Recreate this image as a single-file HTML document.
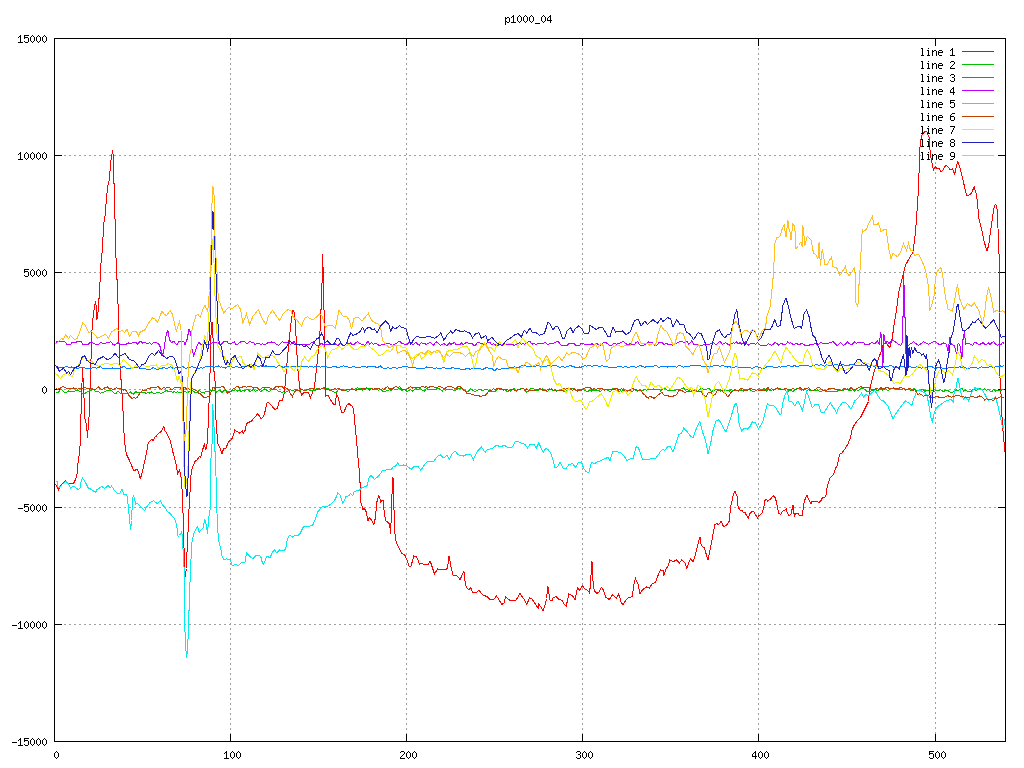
<!DOCTYPE html>
<html><head><meta charset="utf-8"><title>p1000_04</title>
<style>html,body{margin:0;padding:0;background:#fff;overflow:hidden}svg{display:block}</style>
</head><body>
<svg width="1024" height="768" viewBox="0 0 1024 768" shape-rendering="crispEdges">
<rect width="1024" height="768" fill="#fff"/>
<path fill="#a0a0a0" d="M54 155h1v1h-1zM55 155h1v1h-1zM59 155h1v1h-1zM60 155h1v1h-1zM64 155h1v1h-1zM65 155h1v1h-1zM69 155h1v1h-1zM70 155h1v1h-1zM74 155h1v1h-1zM75 155h1v1h-1zM79 155h1v1h-1zM80 155h1v1h-1zM84 155h1v1h-1zM85 155h1v1h-1zM89 155h1v1h-1zM90 155h1v1h-1zM94 155h1v1h-1zM95 155h1v1h-1zM99 155h1v1h-1zM100 155h1v1h-1zM104 155h1v1h-1zM105 155h1v1h-1zM109 155h1v1h-1zM110 155h1v1h-1zM114 155h1v1h-1zM115 155h1v1h-1zM119 155h1v1h-1zM120 155h1v1h-1zM124 155h1v1h-1zM125 155h1v1h-1zM129 155h1v1h-1zM130 155h1v1h-1zM134 155h1v1h-1zM135 155h1v1h-1zM139 155h1v1h-1zM140 155h1v1h-1zM144 155h1v1h-1zM145 155h1v1h-1zM149 155h1v1h-1zM150 155h1v1h-1zM154 155h1v1h-1zM155 155h1v1h-1zM159 155h1v1h-1zM160 155h1v1h-1zM164 155h1v1h-1zM165 155h1v1h-1zM169 155h1v1h-1zM170 155h1v1h-1zM174 155h1v1h-1zM175 155h1v1h-1zM179 155h1v1h-1zM180 155h1v1h-1zM184 155h1v1h-1zM185 155h1v1h-1zM189 155h1v1h-1zM190 155h1v1h-1zM194 155h1v1h-1zM195 155h1v1h-1zM199 155h1v1h-1zM200 155h1v1h-1zM204 155h1v1h-1zM205 155h1v1h-1zM209 155h1v1h-1zM210 155h1v1h-1zM214 155h1v1h-1zM215 155h1v1h-1zM219 155h1v1h-1zM220 155h1v1h-1zM224 155h1v1h-1zM225 155h1v1h-1zM229 155h1v1h-1zM230 155h1v1h-1zM234 155h1v1h-1zM235 155h1v1h-1zM239 155h1v1h-1zM240 155h1v1h-1zM244 155h1v1h-1zM245 155h1v1h-1zM249 155h1v1h-1zM250 155h1v1h-1zM254 155h1v1h-1zM255 155h1v1h-1zM259 155h1v1h-1zM260 155h1v1h-1zM264 155h1v1h-1zM265 155h1v1h-1zM269 155h1v1h-1zM270 155h1v1h-1zM274 155h1v1h-1zM275 155h1v1h-1zM279 155h1v1h-1zM280 155h1v1h-1zM284 155h1v1h-1zM285 155h1v1h-1zM289 155h1v1h-1zM290 155h1v1h-1zM294 155h1v1h-1zM295 155h1v1h-1zM299 155h1v1h-1zM300 155h1v1h-1zM304 155h1v1h-1zM305 155h1v1h-1zM309 155h1v1h-1zM310 155h1v1h-1zM314 155h1v1h-1zM315 155h1v1h-1zM319 155h1v1h-1zM320 155h1v1h-1zM324 155h1v1h-1zM325 155h1v1h-1zM329 155h1v1h-1zM330 155h1v1h-1zM334 155h1v1h-1zM335 155h1v1h-1zM339 155h1v1h-1zM340 155h1v1h-1zM344 155h1v1h-1zM345 155h1v1h-1zM349 155h1v1h-1zM350 155h1v1h-1zM354 155h1v1h-1zM355 155h1v1h-1zM359 155h1v1h-1zM360 155h1v1h-1zM364 155h1v1h-1zM365 155h1v1h-1zM369 155h1v1h-1zM370 155h1v1h-1zM374 155h1v1h-1zM375 155h1v1h-1zM379 155h1v1h-1zM380 155h1v1h-1zM384 155h1v1h-1zM385 155h1v1h-1zM389 155h1v1h-1zM390 155h1v1h-1zM394 155h1v1h-1zM395 155h1v1h-1zM399 155h1v1h-1zM400 155h1v1h-1zM404 155h1v1h-1zM405 155h1v1h-1zM409 155h1v1h-1zM410 155h1v1h-1zM414 155h1v1h-1zM415 155h1v1h-1zM419 155h1v1h-1zM420 155h1v1h-1zM424 155h1v1h-1zM425 155h1v1h-1zM429 155h1v1h-1zM430 155h1v1h-1zM434 155h1v1h-1zM435 155h1v1h-1zM439 155h1v1h-1zM440 155h1v1h-1zM444 155h1v1h-1zM445 155h1v1h-1zM449 155h1v1h-1zM450 155h1v1h-1zM454 155h1v1h-1zM455 155h1v1h-1zM459 155h1v1h-1zM460 155h1v1h-1zM464 155h1v1h-1zM465 155h1v1h-1zM469 155h1v1h-1zM470 155h1v1h-1zM474 155h1v1h-1zM475 155h1v1h-1zM479 155h1v1h-1zM480 155h1v1h-1zM484 155h1v1h-1zM485 155h1v1h-1zM489 155h1v1h-1zM490 155h1v1h-1zM494 155h1v1h-1zM495 155h1v1h-1zM499 155h1v1h-1zM500 155h1v1h-1zM504 155h1v1h-1zM505 155h1v1h-1zM509 155h1v1h-1zM510 155h1v1h-1zM514 155h1v1h-1zM515 155h1v1h-1zM519 155h1v1h-1zM520 155h1v1h-1zM524 155h1v1h-1zM525 155h1v1h-1zM529 155h1v1h-1zM530 155h1v1h-1zM534 155h1v1h-1zM535 155h1v1h-1zM539 155h1v1h-1zM540 155h1v1h-1zM544 155h1v1h-1zM545 155h1v1h-1zM549 155h1v1h-1zM550 155h1v1h-1zM554 155h1v1h-1zM555 155h1v1h-1zM559 155h1v1h-1zM560 155h1v1h-1zM564 155h1v1h-1zM565 155h1v1h-1zM569 155h1v1h-1zM570 155h1v1h-1zM574 155h1v1h-1zM575 155h1v1h-1zM579 155h1v1h-1zM580 155h1v1h-1zM584 155h1v1h-1zM585 155h1v1h-1zM589 155h1v1h-1zM590 155h1v1h-1zM594 155h1v1h-1zM595 155h1v1h-1zM599 155h1v1h-1zM600 155h1v1h-1zM604 155h1v1h-1zM605 155h1v1h-1zM609 155h1v1h-1zM610 155h1v1h-1zM614 155h1v1h-1zM615 155h1v1h-1zM619 155h1v1h-1zM620 155h1v1h-1zM624 155h1v1h-1zM625 155h1v1h-1zM629 155h1v1h-1zM630 155h1v1h-1zM634 155h1v1h-1zM635 155h1v1h-1zM639 155h1v1h-1zM640 155h1v1h-1zM644 155h1v1h-1zM645 155h1v1h-1zM649 155h1v1h-1zM650 155h1v1h-1zM654 155h1v1h-1zM655 155h1v1h-1zM659 155h1v1h-1zM660 155h1v1h-1zM664 155h1v1h-1zM665 155h1v1h-1zM669 155h1v1h-1zM670 155h1v1h-1zM674 155h1v1h-1zM675 155h1v1h-1zM679 155h1v1h-1zM680 155h1v1h-1zM684 155h1v1h-1zM685 155h1v1h-1zM689 155h1v1h-1zM690 155h1v1h-1zM694 155h1v1h-1zM695 155h1v1h-1zM699 155h1v1h-1zM700 155h1v1h-1zM704 155h1v1h-1zM705 155h1v1h-1zM709 155h1v1h-1zM710 155h1v1h-1zM714 155h1v1h-1zM715 155h1v1h-1zM719 155h1v1h-1zM720 155h1v1h-1zM724 155h1v1h-1zM725 155h1v1h-1zM729 155h1v1h-1zM730 155h1v1h-1zM734 155h1v1h-1zM735 155h1v1h-1zM739 155h1v1h-1zM740 155h1v1h-1zM744 155h1v1h-1zM745 155h1v1h-1zM749 155h1v1h-1zM750 155h1v1h-1zM754 155h1v1h-1zM755 155h1v1h-1zM759 155h1v1h-1zM760 155h1v1h-1zM764 155h1v1h-1zM765 155h1v1h-1zM769 155h1v1h-1zM770 155h1v1h-1zM774 155h1v1h-1zM775 155h1v1h-1zM779 155h1v1h-1zM780 155h1v1h-1zM784 155h1v1h-1zM785 155h1v1h-1zM789 155h1v1h-1zM790 155h1v1h-1zM794 155h1v1h-1zM795 155h1v1h-1zM799 155h1v1h-1zM800 155h1v1h-1zM804 155h1v1h-1zM805 155h1v1h-1zM809 155h1v1h-1zM810 155h1v1h-1zM814 155h1v1h-1zM815 155h1v1h-1zM819 155h1v1h-1zM820 155h1v1h-1zM824 155h1v1h-1zM825 155h1v1h-1zM829 155h1v1h-1zM830 155h1v1h-1zM834 155h1v1h-1zM835 155h1v1h-1zM839 155h1v1h-1zM840 155h1v1h-1zM844 155h1v1h-1zM845 155h1v1h-1zM849 155h1v1h-1zM850 155h1v1h-1zM854 155h1v1h-1zM855 155h1v1h-1zM859 155h1v1h-1zM860 155h1v1h-1zM864 155h1v1h-1zM865 155h1v1h-1zM869 155h1v1h-1zM870 155h1v1h-1zM874 155h1v1h-1zM875 155h1v1h-1zM879 155h1v1h-1zM880 155h1v1h-1zM884 155h1v1h-1zM885 155h1v1h-1zM889 155h1v1h-1zM890 155h1v1h-1zM894 155h1v1h-1zM895 155h1v1h-1zM899 155h1v1h-1zM900 155h1v1h-1zM904 155h1v1h-1zM905 155h1v1h-1zM909 155h1v1h-1zM910 155h1v1h-1zM914 155h1v1h-1zM915 155h1v1h-1zM919 155h1v1h-1zM920 155h1v1h-1zM999 155h1v1h-1zM1000 155h1v1h-1zM1004 155h1v1h-1zM1005 155h1v1h-1zM54 272h1v1h-1zM55 272h1v1h-1zM59 272h1v1h-1zM60 272h1v1h-1zM64 272h1v1h-1zM65 272h1v1h-1zM69 272h1v1h-1zM70 272h1v1h-1zM74 272h1v1h-1zM75 272h1v1h-1zM79 272h1v1h-1zM80 272h1v1h-1zM84 272h1v1h-1zM85 272h1v1h-1zM89 272h1v1h-1zM90 272h1v1h-1zM94 272h1v1h-1zM95 272h1v1h-1zM99 272h1v1h-1zM100 272h1v1h-1zM104 272h1v1h-1zM105 272h1v1h-1zM109 272h1v1h-1zM110 272h1v1h-1zM114 272h1v1h-1zM115 272h1v1h-1zM119 272h1v1h-1zM120 272h1v1h-1zM124 272h1v1h-1zM125 272h1v1h-1zM129 272h1v1h-1zM130 272h1v1h-1zM134 272h1v1h-1zM135 272h1v1h-1zM139 272h1v1h-1zM140 272h1v1h-1zM144 272h1v1h-1zM145 272h1v1h-1zM149 272h1v1h-1zM150 272h1v1h-1zM154 272h1v1h-1zM155 272h1v1h-1zM159 272h1v1h-1zM160 272h1v1h-1zM164 272h1v1h-1zM165 272h1v1h-1zM169 272h1v1h-1zM170 272h1v1h-1zM174 272h1v1h-1zM175 272h1v1h-1zM179 272h1v1h-1zM180 272h1v1h-1zM184 272h1v1h-1zM185 272h1v1h-1zM189 272h1v1h-1zM190 272h1v1h-1zM194 272h1v1h-1zM195 272h1v1h-1zM199 272h1v1h-1zM200 272h1v1h-1zM204 272h1v1h-1zM205 272h1v1h-1zM209 272h1v1h-1zM210 272h1v1h-1zM214 272h1v1h-1zM215 272h1v1h-1zM219 272h1v1h-1zM220 272h1v1h-1zM224 272h1v1h-1zM225 272h1v1h-1zM229 272h1v1h-1zM230 272h1v1h-1zM234 272h1v1h-1zM235 272h1v1h-1zM239 272h1v1h-1zM240 272h1v1h-1zM244 272h1v1h-1zM245 272h1v1h-1zM249 272h1v1h-1zM250 272h1v1h-1zM254 272h1v1h-1zM255 272h1v1h-1zM259 272h1v1h-1zM260 272h1v1h-1zM264 272h1v1h-1zM265 272h1v1h-1zM269 272h1v1h-1zM270 272h1v1h-1zM274 272h1v1h-1zM275 272h1v1h-1zM279 272h1v1h-1zM280 272h1v1h-1zM284 272h1v1h-1zM285 272h1v1h-1zM289 272h1v1h-1zM290 272h1v1h-1zM294 272h1v1h-1zM295 272h1v1h-1zM299 272h1v1h-1zM300 272h1v1h-1zM304 272h1v1h-1zM305 272h1v1h-1zM309 272h1v1h-1zM310 272h1v1h-1zM314 272h1v1h-1zM315 272h1v1h-1zM319 272h1v1h-1zM320 272h1v1h-1zM324 272h1v1h-1zM325 272h1v1h-1zM329 272h1v1h-1zM330 272h1v1h-1zM334 272h1v1h-1zM335 272h1v1h-1zM339 272h1v1h-1zM340 272h1v1h-1zM344 272h1v1h-1zM345 272h1v1h-1zM349 272h1v1h-1zM350 272h1v1h-1zM354 272h1v1h-1zM355 272h1v1h-1zM359 272h1v1h-1zM360 272h1v1h-1zM364 272h1v1h-1zM365 272h1v1h-1zM369 272h1v1h-1zM370 272h1v1h-1zM374 272h1v1h-1zM375 272h1v1h-1zM379 272h1v1h-1zM380 272h1v1h-1zM384 272h1v1h-1zM385 272h1v1h-1zM389 272h1v1h-1zM390 272h1v1h-1zM394 272h1v1h-1zM395 272h1v1h-1zM399 272h1v1h-1zM400 272h1v1h-1zM404 272h1v1h-1zM405 272h1v1h-1zM409 272h1v1h-1zM410 272h1v1h-1zM414 272h1v1h-1zM415 272h1v1h-1zM419 272h1v1h-1zM420 272h1v1h-1zM424 272h1v1h-1zM425 272h1v1h-1zM429 272h1v1h-1zM430 272h1v1h-1zM434 272h1v1h-1zM435 272h1v1h-1zM439 272h1v1h-1zM440 272h1v1h-1zM444 272h1v1h-1zM445 272h1v1h-1zM449 272h1v1h-1zM450 272h1v1h-1zM454 272h1v1h-1zM455 272h1v1h-1zM459 272h1v1h-1zM460 272h1v1h-1zM464 272h1v1h-1zM465 272h1v1h-1zM469 272h1v1h-1zM470 272h1v1h-1zM474 272h1v1h-1zM475 272h1v1h-1zM479 272h1v1h-1zM480 272h1v1h-1zM484 272h1v1h-1zM485 272h1v1h-1zM489 272h1v1h-1zM490 272h1v1h-1zM494 272h1v1h-1zM495 272h1v1h-1zM499 272h1v1h-1zM500 272h1v1h-1zM504 272h1v1h-1zM505 272h1v1h-1zM509 272h1v1h-1zM510 272h1v1h-1zM514 272h1v1h-1zM515 272h1v1h-1zM519 272h1v1h-1zM520 272h1v1h-1zM524 272h1v1h-1zM525 272h1v1h-1zM529 272h1v1h-1zM530 272h1v1h-1zM534 272h1v1h-1zM535 272h1v1h-1zM539 272h1v1h-1zM540 272h1v1h-1zM544 272h1v1h-1zM545 272h1v1h-1zM549 272h1v1h-1zM550 272h1v1h-1zM554 272h1v1h-1zM555 272h1v1h-1zM559 272h1v1h-1zM560 272h1v1h-1zM564 272h1v1h-1zM565 272h1v1h-1zM569 272h1v1h-1zM570 272h1v1h-1zM574 272h1v1h-1zM575 272h1v1h-1zM579 272h1v1h-1zM580 272h1v1h-1zM584 272h1v1h-1zM585 272h1v1h-1zM589 272h1v1h-1zM590 272h1v1h-1zM594 272h1v1h-1zM595 272h1v1h-1zM599 272h1v1h-1zM600 272h1v1h-1zM604 272h1v1h-1zM605 272h1v1h-1zM609 272h1v1h-1zM610 272h1v1h-1zM614 272h1v1h-1zM615 272h1v1h-1zM619 272h1v1h-1zM620 272h1v1h-1zM624 272h1v1h-1zM625 272h1v1h-1zM629 272h1v1h-1zM630 272h1v1h-1zM634 272h1v1h-1zM635 272h1v1h-1zM639 272h1v1h-1zM640 272h1v1h-1zM644 272h1v1h-1zM645 272h1v1h-1zM649 272h1v1h-1zM650 272h1v1h-1zM654 272h1v1h-1zM655 272h1v1h-1zM659 272h1v1h-1zM660 272h1v1h-1zM664 272h1v1h-1zM665 272h1v1h-1zM669 272h1v1h-1zM670 272h1v1h-1zM674 272h1v1h-1zM675 272h1v1h-1zM679 272h1v1h-1zM680 272h1v1h-1zM684 272h1v1h-1zM685 272h1v1h-1zM689 272h1v1h-1zM690 272h1v1h-1zM694 272h1v1h-1zM695 272h1v1h-1zM699 272h1v1h-1zM700 272h1v1h-1zM704 272h1v1h-1zM705 272h1v1h-1zM709 272h1v1h-1zM710 272h1v1h-1zM714 272h1v1h-1zM715 272h1v1h-1zM719 272h1v1h-1zM720 272h1v1h-1zM724 272h1v1h-1zM725 272h1v1h-1zM729 272h1v1h-1zM730 272h1v1h-1zM734 272h1v1h-1zM735 272h1v1h-1zM739 272h1v1h-1zM740 272h1v1h-1zM744 272h1v1h-1zM745 272h1v1h-1zM749 272h1v1h-1zM750 272h1v1h-1zM754 272h1v1h-1zM755 272h1v1h-1zM759 272h1v1h-1zM760 272h1v1h-1zM764 272h1v1h-1zM765 272h1v1h-1zM769 272h1v1h-1zM770 272h1v1h-1zM774 272h1v1h-1zM775 272h1v1h-1zM779 272h1v1h-1zM780 272h1v1h-1zM784 272h1v1h-1zM785 272h1v1h-1zM789 272h1v1h-1zM790 272h1v1h-1zM794 272h1v1h-1zM795 272h1v1h-1zM799 272h1v1h-1zM800 272h1v1h-1zM804 272h1v1h-1zM805 272h1v1h-1zM809 272h1v1h-1zM810 272h1v1h-1zM814 272h1v1h-1zM815 272h1v1h-1zM819 272h1v1h-1zM820 272h1v1h-1zM824 272h1v1h-1zM825 272h1v1h-1zM829 272h1v1h-1zM830 272h1v1h-1zM834 272h1v1h-1zM835 272h1v1h-1zM839 272h1v1h-1zM840 272h1v1h-1zM844 272h1v1h-1zM845 272h1v1h-1zM849 272h1v1h-1zM850 272h1v1h-1zM854 272h1v1h-1zM855 272h1v1h-1zM859 272h1v1h-1zM860 272h1v1h-1zM864 272h1v1h-1zM865 272h1v1h-1zM869 272h1v1h-1zM870 272h1v1h-1zM874 272h1v1h-1zM875 272h1v1h-1zM879 272h1v1h-1zM880 272h1v1h-1zM884 272h1v1h-1zM885 272h1v1h-1zM889 272h1v1h-1zM890 272h1v1h-1zM894 272h1v1h-1zM895 272h1v1h-1zM899 272h1v1h-1zM900 272h1v1h-1zM904 272h1v1h-1zM905 272h1v1h-1zM909 272h1v1h-1zM910 272h1v1h-1zM914 272h1v1h-1zM915 272h1v1h-1zM919 272h1v1h-1zM920 272h1v1h-1zM924 272h1v1h-1zM925 272h1v1h-1zM929 272h1v1h-1zM930 272h1v1h-1zM934 272h1v1h-1zM935 272h1v1h-1zM939 272h1v1h-1zM940 272h1v1h-1zM944 272h1v1h-1zM945 272h1v1h-1zM949 272h1v1h-1zM950 272h1v1h-1zM954 272h1v1h-1zM955 272h1v1h-1zM959 272h1v1h-1zM960 272h1v1h-1zM964 272h1v1h-1zM965 272h1v1h-1zM969 272h1v1h-1zM970 272h1v1h-1zM974 272h1v1h-1zM975 272h1v1h-1zM979 272h1v1h-1zM980 272h1v1h-1zM984 272h1v1h-1zM985 272h1v1h-1zM989 272h1v1h-1zM990 272h1v1h-1zM994 272h1v1h-1zM995 272h1v1h-1zM999 272h1v1h-1zM1000 272h1v1h-1zM1004 272h1v1h-1zM1005 272h1v1h-1zM54 389h1v1h-1zM55 389h1v1h-1zM59 389h1v1h-1zM60 389h1v1h-1zM64 389h1v1h-1zM65 389h1v1h-1zM69 389h1v1h-1zM70 389h1v1h-1zM74 389h1v1h-1zM75 389h1v1h-1zM79 389h1v1h-1zM80 389h1v1h-1zM84 389h1v1h-1zM85 389h1v1h-1zM89 389h1v1h-1zM90 389h1v1h-1zM94 389h1v1h-1zM95 389h1v1h-1zM99 389h1v1h-1zM100 389h1v1h-1zM104 389h1v1h-1zM105 389h1v1h-1zM109 389h1v1h-1zM110 389h1v1h-1zM114 389h1v1h-1zM115 389h1v1h-1zM119 389h1v1h-1zM120 389h1v1h-1zM124 389h1v1h-1zM125 389h1v1h-1zM129 389h1v1h-1zM130 389h1v1h-1zM134 389h1v1h-1zM135 389h1v1h-1zM139 389h1v1h-1zM140 389h1v1h-1zM144 389h1v1h-1zM145 389h1v1h-1zM149 389h1v1h-1zM150 389h1v1h-1zM154 389h1v1h-1zM155 389h1v1h-1zM159 389h1v1h-1zM160 389h1v1h-1zM164 389h1v1h-1zM165 389h1v1h-1zM169 389h1v1h-1zM170 389h1v1h-1zM174 389h1v1h-1zM175 389h1v1h-1zM179 389h1v1h-1zM180 389h1v1h-1zM184 389h1v1h-1zM185 389h1v1h-1zM189 389h1v1h-1zM190 389h1v1h-1zM194 389h1v1h-1zM195 389h1v1h-1zM199 389h1v1h-1zM200 389h1v1h-1zM204 389h1v1h-1zM205 389h1v1h-1zM209 389h1v1h-1zM210 389h1v1h-1zM214 389h1v1h-1zM215 389h1v1h-1zM219 389h1v1h-1zM220 389h1v1h-1zM224 389h1v1h-1zM225 389h1v1h-1zM229 389h1v1h-1zM230 389h1v1h-1zM234 389h1v1h-1zM235 389h1v1h-1zM239 389h1v1h-1zM240 389h1v1h-1zM244 389h1v1h-1zM245 389h1v1h-1zM249 389h1v1h-1zM250 389h1v1h-1zM254 389h1v1h-1zM255 389h1v1h-1zM259 389h1v1h-1zM260 389h1v1h-1zM264 389h1v1h-1zM265 389h1v1h-1zM269 389h1v1h-1zM270 389h1v1h-1zM274 389h1v1h-1zM275 389h1v1h-1zM279 389h1v1h-1zM280 389h1v1h-1zM284 389h1v1h-1zM285 389h1v1h-1zM289 389h1v1h-1zM290 389h1v1h-1zM294 389h1v1h-1zM295 389h1v1h-1zM299 389h1v1h-1zM300 389h1v1h-1zM304 389h1v1h-1zM305 389h1v1h-1zM309 389h1v1h-1zM310 389h1v1h-1zM314 389h1v1h-1zM315 389h1v1h-1zM319 389h1v1h-1zM320 389h1v1h-1zM324 389h1v1h-1zM325 389h1v1h-1zM329 389h1v1h-1zM330 389h1v1h-1zM334 389h1v1h-1zM335 389h1v1h-1zM339 389h1v1h-1zM340 389h1v1h-1zM344 389h1v1h-1zM345 389h1v1h-1zM349 389h1v1h-1zM350 389h1v1h-1zM354 389h1v1h-1zM355 389h1v1h-1zM359 389h1v1h-1zM360 389h1v1h-1zM364 389h1v1h-1zM365 389h1v1h-1zM369 389h1v1h-1zM370 389h1v1h-1zM374 389h1v1h-1zM375 389h1v1h-1zM379 389h1v1h-1zM380 389h1v1h-1zM384 389h1v1h-1zM385 389h1v1h-1zM389 389h1v1h-1zM390 389h1v1h-1zM394 389h1v1h-1zM395 389h1v1h-1zM399 389h1v1h-1zM400 389h1v1h-1zM404 389h1v1h-1zM405 389h1v1h-1zM409 389h1v1h-1zM410 389h1v1h-1zM414 389h1v1h-1zM415 389h1v1h-1zM419 389h1v1h-1zM420 389h1v1h-1zM424 389h1v1h-1zM425 389h1v1h-1zM429 389h1v1h-1zM430 389h1v1h-1zM434 389h1v1h-1zM435 389h1v1h-1zM439 389h1v1h-1zM440 389h1v1h-1zM444 389h1v1h-1zM445 389h1v1h-1zM449 389h1v1h-1zM450 389h1v1h-1zM454 389h1v1h-1zM455 389h1v1h-1zM459 389h1v1h-1zM460 389h1v1h-1zM464 389h1v1h-1zM465 389h1v1h-1zM469 389h1v1h-1zM470 389h1v1h-1zM474 389h1v1h-1zM475 389h1v1h-1zM479 389h1v1h-1zM480 389h1v1h-1zM484 389h1v1h-1zM485 389h1v1h-1zM489 389h1v1h-1zM490 389h1v1h-1zM494 389h1v1h-1zM495 389h1v1h-1zM499 389h1v1h-1zM500 389h1v1h-1zM504 389h1v1h-1zM505 389h1v1h-1zM509 389h1v1h-1zM510 389h1v1h-1zM514 389h1v1h-1zM515 389h1v1h-1zM519 389h1v1h-1zM520 389h1v1h-1zM524 389h1v1h-1zM525 389h1v1h-1zM529 389h1v1h-1zM530 389h1v1h-1zM534 389h1v1h-1zM535 389h1v1h-1zM539 389h1v1h-1zM540 389h1v1h-1zM544 389h1v1h-1zM545 389h1v1h-1zM549 389h1v1h-1zM550 389h1v1h-1zM554 389h1v1h-1zM555 389h1v1h-1zM559 389h1v1h-1zM560 389h1v1h-1zM564 389h1v1h-1zM565 389h1v1h-1zM569 389h1v1h-1zM570 389h1v1h-1zM574 389h1v1h-1zM575 389h1v1h-1zM579 389h1v1h-1zM580 389h1v1h-1zM584 389h1v1h-1zM585 389h1v1h-1zM589 389h1v1h-1zM590 389h1v1h-1zM594 389h1v1h-1zM595 389h1v1h-1zM599 389h1v1h-1zM600 389h1v1h-1zM604 389h1v1h-1zM605 389h1v1h-1zM609 389h1v1h-1zM610 389h1v1h-1zM614 389h1v1h-1zM615 389h1v1h-1zM619 389h1v1h-1zM620 389h1v1h-1zM624 389h1v1h-1zM625 389h1v1h-1zM629 389h1v1h-1zM630 389h1v1h-1zM634 389h1v1h-1zM635 389h1v1h-1zM639 389h1v1h-1zM640 389h1v1h-1zM644 389h1v1h-1zM645 389h1v1h-1zM649 389h1v1h-1zM650 389h1v1h-1zM654 389h1v1h-1zM655 389h1v1h-1zM659 389h1v1h-1zM660 389h1v1h-1zM664 389h1v1h-1zM665 389h1v1h-1zM669 389h1v1h-1zM670 389h1v1h-1zM674 389h1v1h-1zM675 389h1v1h-1zM679 389h1v1h-1zM680 389h1v1h-1zM684 389h1v1h-1zM685 389h1v1h-1zM689 389h1v1h-1zM690 389h1v1h-1zM694 389h1v1h-1zM695 389h1v1h-1zM699 389h1v1h-1zM700 389h1v1h-1zM704 389h1v1h-1zM705 389h1v1h-1zM709 389h1v1h-1zM710 389h1v1h-1zM714 389h1v1h-1zM715 389h1v1h-1zM719 389h1v1h-1zM720 389h1v1h-1zM724 389h1v1h-1zM725 389h1v1h-1zM729 389h1v1h-1zM730 389h1v1h-1zM734 389h1v1h-1zM735 389h1v1h-1zM739 389h1v1h-1zM740 389h1v1h-1zM744 389h1v1h-1zM745 389h1v1h-1zM749 389h1v1h-1zM750 389h1v1h-1zM754 389h1v1h-1zM755 389h1v1h-1zM759 389h1v1h-1zM760 389h1v1h-1zM764 389h1v1h-1zM765 389h1v1h-1zM769 389h1v1h-1zM770 389h1v1h-1zM774 389h1v1h-1zM775 389h1v1h-1zM779 389h1v1h-1zM780 389h1v1h-1zM784 389h1v1h-1zM785 389h1v1h-1zM789 389h1v1h-1zM790 389h1v1h-1zM794 389h1v1h-1zM795 389h1v1h-1zM799 389h1v1h-1zM800 389h1v1h-1zM804 389h1v1h-1zM805 389h1v1h-1zM809 389h1v1h-1zM810 389h1v1h-1zM814 389h1v1h-1zM815 389h1v1h-1zM819 389h1v1h-1zM820 389h1v1h-1zM824 389h1v1h-1zM825 389h1v1h-1zM829 389h1v1h-1zM830 389h1v1h-1zM834 389h1v1h-1zM835 389h1v1h-1zM839 389h1v1h-1zM840 389h1v1h-1zM844 389h1v1h-1zM845 389h1v1h-1zM849 389h1v1h-1zM850 389h1v1h-1zM854 389h1v1h-1zM855 389h1v1h-1zM859 389h1v1h-1zM860 389h1v1h-1zM864 389h1v1h-1zM865 389h1v1h-1zM869 389h1v1h-1zM870 389h1v1h-1zM874 389h1v1h-1zM875 389h1v1h-1zM879 389h1v1h-1zM880 389h1v1h-1zM884 389h1v1h-1zM885 389h1v1h-1zM889 389h1v1h-1zM890 389h1v1h-1zM894 389h1v1h-1zM895 389h1v1h-1zM899 389h1v1h-1zM900 389h1v1h-1zM904 389h1v1h-1zM905 389h1v1h-1zM909 389h1v1h-1zM910 389h1v1h-1zM914 389h1v1h-1zM915 389h1v1h-1zM919 389h1v1h-1zM920 389h1v1h-1zM924 389h1v1h-1zM925 389h1v1h-1zM929 389h1v1h-1zM930 389h1v1h-1zM934 389h1v1h-1zM935 389h1v1h-1zM939 389h1v1h-1zM940 389h1v1h-1zM944 389h1v1h-1zM945 389h1v1h-1zM949 389h1v1h-1zM950 389h1v1h-1zM954 389h1v1h-1zM955 389h1v1h-1zM959 389h1v1h-1zM960 389h1v1h-1zM964 389h1v1h-1zM965 389h1v1h-1zM969 389h1v1h-1zM970 389h1v1h-1zM974 389h1v1h-1zM975 389h1v1h-1zM979 389h1v1h-1zM980 389h1v1h-1zM984 389h1v1h-1zM985 389h1v1h-1zM989 389h1v1h-1zM990 389h1v1h-1zM994 389h1v1h-1zM995 389h1v1h-1zM999 389h1v1h-1zM1000 389h1v1h-1zM1004 389h1v1h-1zM1005 389h1v1h-1zM54 507h1v1h-1zM55 507h1v1h-1zM59 507h1v1h-1zM60 507h1v1h-1zM64 507h1v1h-1zM65 507h1v1h-1zM69 507h1v1h-1zM70 507h1v1h-1zM74 507h1v1h-1zM75 507h1v1h-1zM79 507h1v1h-1zM80 507h1v1h-1zM84 507h1v1h-1zM85 507h1v1h-1zM89 507h1v1h-1zM90 507h1v1h-1zM94 507h1v1h-1zM95 507h1v1h-1zM99 507h1v1h-1zM100 507h1v1h-1zM104 507h1v1h-1zM105 507h1v1h-1zM109 507h1v1h-1zM110 507h1v1h-1zM114 507h1v1h-1zM115 507h1v1h-1zM119 507h1v1h-1zM120 507h1v1h-1zM124 507h1v1h-1zM125 507h1v1h-1zM129 507h1v1h-1zM130 507h1v1h-1zM134 507h1v1h-1zM135 507h1v1h-1zM139 507h1v1h-1zM140 507h1v1h-1zM144 507h1v1h-1zM145 507h1v1h-1zM149 507h1v1h-1zM150 507h1v1h-1zM154 507h1v1h-1zM155 507h1v1h-1zM159 507h1v1h-1zM160 507h1v1h-1zM164 507h1v1h-1zM165 507h1v1h-1zM169 507h1v1h-1zM170 507h1v1h-1zM174 507h1v1h-1zM175 507h1v1h-1zM179 507h1v1h-1zM180 507h1v1h-1zM184 507h1v1h-1zM185 507h1v1h-1zM189 507h1v1h-1zM190 507h1v1h-1zM194 507h1v1h-1zM195 507h1v1h-1zM199 507h1v1h-1zM200 507h1v1h-1zM204 507h1v1h-1zM205 507h1v1h-1zM209 507h1v1h-1zM210 507h1v1h-1zM214 507h1v1h-1zM215 507h1v1h-1zM219 507h1v1h-1zM220 507h1v1h-1zM224 507h1v1h-1zM225 507h1v1h-1zM229 507h1v1h-1zM230 507h1v1h-1zM234 507h1v1h-1zM235 507h1v1h-1zM239 507h1v1h-1zM240 507h1v1h-1zM244 507h1v1h-1zM245 507h1v1h-1zM249 507h1v1h-1zM250 507h1v1h-1zM254 507h1v1h-1zM255 507h1v1h-1zM259 507h1v1h-1zM260 507h1v1h-1zM264 507h1v1h-1zM265 507h1v1h-1zM269 507h1v1h-1zM270 507h1v1h-1zM274 507h1v1h-1zM275 507h1v1h-1zM279 507h1v1h-1zM280 507h1v1h-1zM284 507h1v1h-1zM285 507h1v1h-1zM289 507h1v1h-1zM290 507h1v1h-1zM294 507h1v1h-1zM295 507h1v1h-1zM299 507h1v1h-1zM300 507h1v1h-1zM304 507h1v1h-1zM305 507h1v1h-1zM309 507h1v1h-1zM310 507h1v1h-1zM314 507h1v1h-1zM315 507h1v1h-1zM319 507h1v1h-1zM320 507h1v1h-1zM324 507h1v1h-1zM325 507h1v1h-1zM329 507h1v1h-1zM330 507h1v1h-1zM334 507h1v1h-1zM335 507h1v1h-1zM339 507h1v1h-1zM340 507h1v1h-1zM344 507h1v1h-1zM345 507h1v1h-1zM349 507h1v1h-1zM350 507h1v1h-1zM354 507h1v1h-1zM355 507h1v1h-1zM359 507h1v1h-1zM360 507h1v1h-1zM364 507h1v1h-1zM365 507h1v1h-1zM369 507h1v1h-1zM370 507h1v1h-1zM374 507h1v1h-1zM375 507h1v1h-1zM379 507h1v1h-1zM380 507h1v1h-1zM384 507h1v1h-1zM385 507h1v1h-1zM389 507h1v1h-1zM390 507h1v1h-1zM394 507h1v1h-1zM395 507h1v1h-1zM399 507h1v1h-1zM400 507h1v1h-1zM404 507h1v1h-1zM405 507h1v1h-1zM409 507h1v1h-1zM410 507h1v1h-1zM414 507h1v1h-1zM415 507h1v1h-1zM419 507h1v1h-1zM420 507h1v1h-1zM424 507h1v1h-1zM425 507h1v1h-1zM429 507h1v1h-1zM430 507h1v1h-1zM434 507h1v1h-1zM435 507h1v1h-1zM439 507h1v1h-1zM440 507h1v1h-1zM444 507h1v1h-1zM445 507h1v1h-1zM449 507h1v1h-1zM450 507h1v1h-1zM454 507h1v1h-1zM455 507h1v1h-1zM459 507h1v1h-1zM460 507h1v1h-1zM464 507h1v1h-1zM465 507h1v1h-1zM469 507h1v1h-1zM470 507h1v1h-1zM474 507h1v1h-1zM475 507h1v1h-1zM479 507h1v1h-1zM480 507h1v1h-1zM484 507h1v1h-1zM485 507h1v1h-1zM489 507h1v1h-1zM490 507h1v1h-1zM494 507h1v1h-1zM495 507h1v1h-1zM499 507h1v1h-1zM500 507h1v1h-1zM504 507h1v1h-1zM505 507h1v1h-1zM509 507h1v1h-1zM510 507h1v1h-1zM514 507h1v1h-1zM515 507h1v1h-1zM519 507h1v1h-1zM520 507h1v1h-1zM524 507h1v1h-1zM525 507h1v1h-1zM529 507h1v1h-1zM530 507h1v1h-1zM534 507h1v1h-1zM535 507h1v1h-1zM539 507h1v1h-1zM540 507h1v1h-1zM544 507h1v1h-1zM545 507h1v1h-1zM549 507h1v1h-1zM550 507h1v1h-1zM554 507h1v1h-1zM555 507h1v1h-1zM559 507h1v1h-1zM560 507h1v1h-1zM564 507h1v1h-1zM565 507h1v1h-1zM569 507h1v1h-1zM570 507h1v1h-1zM574 507h1v1h-1zM575 507h1v1h-1zM579 507h1v1h-1zM580 507h1v1h-1zM584 507h1v1h-1zM585 507h1v1h-1zM589 507h1v1h-1zM590 507h1v1h-1zM594 507h1v1h-1zM595 507h1v1h-1zM599 507h1v1h-1zM600 507h1v1h-1zM604 507h1v1h-1zM605 507h1v1h-1zM609 507h1v1h-1zM610 507h1v1h-1zM614 507h1v1h-1zM615 507h1v1h-1zM619 507h1v1h-1zM620 507h1v1h-1zM624 507h1v1h-1zM625 507h1v1h-1zM629 507h1v1h-1zM630 507h1v1h-1zM634 507h1v1h-1zM635 507h1v1h-1zM639 507h1v1h-1zM640 507h1v1h-1zM644 507h1v1h-1zM645 507h1v1h-1zM649 507h1v1h-1zM650 507h1v1h-1zM654 507h1v1h-1zM655 507h1v1h-1zM659 507h1v1h-1zM660 507h1v1h-1zM664 507h1v1h-1zM665 507h1v1h-1zM669 507h1v1h-1zM670 507h1v1h-1zM674 507h1v1h-1zM675 507h1v1h-1zM679 507h1v1h-1zM680 507h1v1h-1zM684 507h1v1h-1zM685 507h1v1h-1zM689 507h1v1h-1zM690 507h1v1h-1zM694 507h1v1h-1zM695 507h1v1h-1zM699 507h1v1h-1zM700 507h1v1h-1zM704 507h1v1h-1zM705 507h1v1h-1zM709 507h1v1h-1zM710 507h1v1h-1zM714 507h1v1h-1zM715 507h1v1h-1zM719 507h1v1h-1zM720 507h1v1h-1zM724 507h1v1h-1zM725 507h1v1h-1zM729 507h1v1h-1zM730 507h1v1h-1zM734 507h1v1h-1zM735 507h1v1h-1zM739 507h1v1h-1zM740 507h1v1h-1zM744 507h1v1h-1zM745 507h1v1h-1zM749 507h1v1h-1zM750 507h1v1h-1zM754 507h1v1h-1zM755 507h1v1h-1zM759 507h1v1h-1zM760 507h1v1h-1zM764 507h1v1h-1zM765 507h1v1h-1zM769 507h1v1h-1zM770 507h1v1h-1zM774 507h1v1h-1zM775 507h1v1h-1zM779 507h1v1h-1zM780 507h1v1h-1zM784 507h1v1h-1zM785 507h1v1h-1zM789 507h1v1h-1zM790 507h1v1h-1zM794 507h1v1h-1zM795 507h1v1h-1zM799 507h1v1h-1zM800 507h1v1h-1zM804 507h1v1h-1zM805 507h1v1h-1zM809 507h1v1h-1zM810 507h1v1h-1zM814 507h1v1h-1zM815 507h1v1h-1zM819 507h1v1h-1zM820 507h1v1h-1zM824 507h1v1h-1zM825 507h1v1h-1zM829 507h1v1h-1zM830 507h1v1h-1zM834 507h1v1h-1zM835 507h1v1h-1zM839 507h1v1h-1zM840 507h1v1h-1zM844 507h1v1h-1zM845 507h1v1h-1zM849 507h1v1h-1zM850 507h1v1h-1zM854 507h1v1h-1zM855 507h1v1h-1zM859 507h1v1h-1zM860 507h1v1h-1zM864 507h1v1h-1zM865 507h1v1h-1zM869 507h1v1h-1zM870 507h1v1h-1zM874 507h1v1h-1zM875 507h1v1h-1zM879 507h1v1h-1zM880 507h1v1h-1zM884 507h1v1h-1zM885 507h1v1h-1zM889 507h1v1h-1zM890 507h1v1h-1zM894 507h1v1h-1zM895 507h1v1h-1zM899 507h1v1h-1zM900 507h1v1h-1zM904 507h1v1h-1zM905 507h1v1h-1zM909 507h1v1h-1zM910 507h1v1h-1zM914 507h1v1h-1zM915 507h1v1h-1zM919 507h1v1h-1zM920 507h1v1h-1zM924 507h1v1h-1zM925 507h1v1h-1zM929 507h1v1h-1zM930 507h1v1h-1zM934 507h1v1h-1zM935 507h1v1h-1zM939 507h1v1h-1zM940 507h1v1h-1zM944 507h1v1h-1zM945 507h1v1h-1zM949 507h1v1h-1zM950 507h1v1h-1zM954 507h1v1h-1zM955 507h1v1h-1zM959 507h1v1h-1zM960 507h1v1h-1zM964 507h1v1h-1zM965 507h1v1h-1zM969 507h1v1h-1zM970 507h1v1h-1zM974 507h1v1h-1zM975 507h1v1h-1zM979 507h1v1h-1zM980 507h1v1h-1zM984 507h1v1h-1zM985 507h1v1h-1zM989 507h1v1h-1zM990 507h1v1h-1zM994 507h1v1h-1zM995 507h1v1h-1zM999 507h1v1h-1zM1000 507h1v1h-1zM1004 507h1v1h-1zM1005 507h1v1h-1zM54 624h1v1h-1zM55 624h1v1h-1zM59 624h1v1h-1zM60 624h1v1h-1zM64 624h1v1h-1zM65 624h1v1h-1zM69 624h1v1h-1zM70 624h1v1h-1zM74 624h1v1h-1zM75 624h1v1h-1zM79 624h1v1h-1zM80 624h1v1h-1zM84 624h1v1h-1zM85 624h1v1h-1zM89 624h1v1h-1zM90 624h1v1h-1zM94 624h1v1h-1zM95 624h1v1h-1zM99 624h1v1h-1zM100 624h1v1h-1zM104 624h1v1h-1zM105 624h1v1h-1zM109 624h1v1h-1zM110 624h1v1h-1zM114 624h1v1h-1zM115 624h1v1h-1zM119 624h1v1h-1zM120 624h1v1h-1zM124 624h1v1h-1zM125 624h1v1h-1zM129 624h1v1h-1zM130 624h1v1h-1zM134 624h1v1h-1zM135 624h1v1h-1zM139 624h1v1h-1zM140 624h1v1h-1zM144 624h1v1h-1zM145 624h1v1h-1zM149 624h1v1h-1zM150 624h1v1h-1zM154 624h1v1h-1zM155 624h1v1h-1zM159 624h1v1h-1zM160 624h1v1h-1zM164 624h1v1h-1zM165 624h1v1h-1zM169 624h1v1h-1zM170 624h1v1h-1zM174 624h1v1h-1zM175 624h1v1h-1zM179 624h1v1h-1zM180 624h1v1h-1zM184 624h1v1h-1zM185 624h1v1h-1zM189 624h1v1h-1zM190 624h1v1h-1zM194 624h1v1h-1zM195 624h1v1h-1zM199 624h1v1h-1zM200 624h1v1h-1zM204 624h1v1h-1zM205 624h1v1h-1zM209 624h1v1h-1zM210 624h1v1h-1zM214 624h1v1h-1zM215 624h1v1h-1zM219 624h1v1h-1zM220 624h1v1h-1zM224 624h1v1h-1zM225 624h1v1h-1zM229 624h1v1h-1zM230 624h1v1h-1zM234 624h1v1h-1zM235 624h1v1h-1zM239 624h1v1h-1zM240 624h1v1h-1zM244 624h1v1h-1zM245 624h1v1h-1zM249 624h1v1h-1zM250 624h1v1h-1zM254 624h1v1h-1zM255 624h1v1h-1zM259 624h1v1h-1zM260 624h1v1h-1zM264 624h1v1h-1zM265 624h1v1h-1zM269 624h1v1h-1zM270 624h1v1h-1zM274 624h1v1h-1zM275 624h1v1h-1zM279 624h1v1h-1zM280 624h1v1h-1zM284 624h1v1h-1zM285 624h1v1h-1zM289 624h1v1h-1zM290 624h1v1h-1zM294 624h1v1h-1zM295 624h1v1h-1zM299 624h1v1h-1zM300 624h1v1h-1zM304 624h1v1h-1zM305 624h1v1h-1zM309 624h1v1h-1zM310 624h1v1h-1zM314 624h1v1h-1zM315 624h1v1h-1zM319 624h1v1h-1zM320 624h1v1h-1zM324 624h1v1h-1zM325 624h1v1h-1zM329 624h1v1h-1zM330 624h1v1h-1zM334 624h1v1h-1zM335 624h1v1h-1zM339 624h1v1h-1zM340 624h1v1h-1zM344 624h1v1h-1zM345 624h1v1h-1zM349 624h1v1h-1zM350 624h1v1h-1zM354 624h1v1h-1zM355 624h1v1h-1zM359 624h1v1h-1zM360 624h1v1h-1zM364 624h1v1h-1zM365 624h1v1h-1zM369 624h1v1h-1zM370 624h1v1h-1zM374 624h1v1h-1zM375 624h1v1h-1zM379 624h1v1h-1zM380 624h1v1h-1zM384 624h1v1h-1zM385 624h1v1h-1zM389 624h1v1h-1zM390 624h1v1h-1zM394 624h1v1h-1zM395 624h1v1h-1zM399 624h1v1h-1zM400 624h1v1h-1zM404 624h1v1h-1zM405 624h1v1h-1zM409 624h1v1h-1zM410 624h1v1h-1zM414 624h1v1h-1zM415 624h1v1h-1zM419 624h1v1h-1zM420 624h1v1h-1zM424 624h1v1h-1zM425 624h1v1h-1zM429 624h1v1h-1zM430 624h1v1h-1zM434 624h1v1h-1zM435 624h1v1h-1zM439 624h1v1h-1zM440 624h1v1h-1zM444 624h1v1h-1zM445 624h1v1h-1zM449 624h1v1h-1zM450 624h1v1h-1zM454 624h1v1h-1zM455 624h1v1h-1zM459 624h1v1h-1zM460 624h1v1h-1zM464 624h1v1h-1zM465 624h1v1h-1zM469 624h1v1h-1zM470 624h1v1h-1zM474 624h1v1h-1zM475 624h1v1h-1zM479 624h1v1h-1zM480 624h1v1h-1zM484 624h1v1h-1zM485 624h1v1h-1zM489 624h1v1h-1zM490 624h1v1h-1zM494 624h1v1h-1zM495 624h1v1h-1zM499 624h1v1h-1zM500 624h1v1h-1zM504 624h1v1h-1zM505 624h1v1h-1zM509 624h1v1h-1zM510 624h1v1h-1zM514 624h1v1h-1zM515 624h1v1h-1zM519 624h1v1h-1zM520 624h1v1h-1zM524 624h1v1h-1zM525 624h1v1h-1zM529 624h1v1h-1zM530 624h1v1h-1zM534 624h1v1h-1zM535 624h1v1h-1zM539 624h1v1h-1zM540 624h1v1h-1zM544 624h1v1h-1zM545 624h1v1h-1zM549 624h1v1h-1zM550 624h1v1h-1zM554 624h1v1h-1zM555 624h1v1h-1zM559 624h1v1h-1zM560 624h1v1h-1zM564 624h1v1h-1zM565 624h1v1h-1zM569 624h1v1h-1zM570 624h1v1h-1zM574 624h1v1h-1zM575 624h1v1h-1zM579 624h1v1h-1zM580 624h1v1h-1zM584 624h1v1h-1zM585 624h1v1h-1zM589 624h1v1h-1zM590 624h1v1h-1zM594 624h1v1h-1zM595 624h1v1h-1zM599 624h1v1h-1zM600 624h1v1h-1zM604 624h1v1h-1zM605 624h1v1h-1zM609 624h1v1h-1zM610 624h1v1h-1zM614 624h1v1h-1zM615 624h1v1h-1zM619 624h1v1h-1zM620 624h1v1h-1zM624 624h1v1h-1zM625 624h1v1h-1zM629 624h1v1h-1zM630 624h1v1h-1zM634 624h1v1h-1zM635 624h1v1h-1zM639 624h1v1h-1zM640 624h1v1h-1zM644 624h1v1h-1zM645 624h1v1h-1zM649 624h1v1h-1zM650 624h1v1h-1zM654 624h1v1h-1zM655 624h1v1h-1zM659 624h1v1h-1zM660 624h1v1h-1zM664 624h1v1h-1zM665 624h1v1h-1zM669 624h1v1h-1zM670 624h1v1h-1zM674 624h1v1h-1zM675 624h1v1h-1zM679 624h1v1h-1zM680 624h1v1h-1zM684 624h1v1h-1zM685 624h1v1h-1zM689 624h1v1h-1zM690 624h1v1h-1zM694 624h1v1h-1zM695 624h1v1h-1zM699 624h1v1h-1zM700 624h1v1h-1zM704 624h1v1h-1zM705 624h1v1h-1zM709 624h1v1h-1zM710 624h1v1h-1zM714 624h1v1h-1zM715 624h1v1h-1zM719 624h1v1h-1zM720 624h1v1h-1zM724 624h1v1h-1zM725 624h1v1h-1zM729 624h1v1h-1zM730 624h1v1h-1zM734 624h1v1h-1zM735 624h1v1h-1zM739 624h1v1h-1zM740 624h1v1h-1zM744 624h1v1h-1zM745 624h1v1h-1zM749 624h1v1h-1zM750 624h1v1h-1zM754 624h1v1h-1zM755 624h1v1h-1zM759 624h1v1h-1zM760 624h1v1h-1zM764 624h1v1h-1zM765 624h1v1h-1zM769 624h1v1h-1zM770 624h1v1h-1zM774 624h1v1h-1zM775 624h1v1h-1zM779 624h1v1h-1zM780 624h1v1h-1zM784 624h1v1h-1zM785 624h1v1h-1zM789 624h1v1h-1zM790 624h1v1h-1zM794 624h1v1h-1zM795 624h1v1h-1zM799 624h1v1h-1zM800 624h1v1h-1zM804 624h1v1h-1zM805 624h1v1h-1zM809 624h1v1h-1zM810 624h1v1h-1zM814 624h1v1h-1zM815 624h1v1h-1zM819 624h1v1h-1zM820 624h1v1h-1zM824 624h1v1h-1zM825 624h1v1h-1zM829 624h1v1h-1zM830 624h1v1h-1zM834 624h1v1h-1zM835 624h1v1h-1zM839 624h1v1h-1zM840 624h1v1h-1zM844 624h1v1h-1zM845 624h1v1h-1zM849 624h1v1h-1zM850 624h1v1h-1zM854 624h1v1h-1zM855 624h1v1h-1zM859 624h1v1h-1zM860 624h1v1h-1zM864 624h1v1h-1zM865 624h1v1h-1zM869 624h1v1h-1zM870 624h1v1h-1zM874 624h1v1h-1zM875 624h1v1h-1zM879 624h1v1h-1zM880 624h1v1h-1zM884 624h1v1h-1zM885 624h1v1h-1zM889 624h1v1h-1zM890 624h1v1h-1zM894 624h1v1h-1zM895 624h1v1h-1zM899 624h1v1h-1zM900 624h1v1h-1zM904 624h1v1h-1zM905 624h1v1h-1zM909 624h1v1h-1zM910 624h1v1h-1zM914 624h1v1h-1zM915 624h1v1h-1zM919 624h1v1h-1zM920 624h1v1h-1zM924 624h1v1h-1zM925 624h1v1h-1zM929 624h1v1h-1zM930 624h1v1h-1zM934 624h1v1h-1zM935 624h1v1h-1zM939 624h1v1h-1zM940 624h1v1h-1zM944 624h1v1h-1zM945 624h1v1h-1zM949 624h1v1h-1zM950 624h1v1h-1zM954 624h1v1h-1zM955 624h1v1h-1zM959 624h1v1h-1zM960 624h1v1h-1zM964 624h1v1h-1zM965 624h1v1h-1zM969 624h1v1h-1zM970 624h1v1h-1zM974 624h1v1h-1zM975 624h1v1h-1zM979 624h1v1h-1zM980 624h1v1h-1zM984 624h1v1h-1zM985 624h1v1h-1zM989 624h1v1h-1zM990 624h1v1h-1zM994 624h1v1h-1zM995 624h1v1h-1zM999 624h1v1h-1zM1000 624h1v1h-1zM1004 624h1v1h-1zM1005 624h1v1h-1zM230 38h1v1h-1zM230 39h1v1h-1zM230 43h1v1h-1zM230 44h1v1h-1zM230 48h1v1h-1zM230 49h1v1h-1zM230 53h1v1h-1zM230 54h1v1h-1zM230 58h1v1h-1zM230 59h1v1h-1zM230 63h1v1h-1zM230 64h1v1h-1zM230 68h1v1h-1zM230 69h1v1h-1zM230 73h1v1h-1zM230 74h1v1h-1zM230 78h1v1h-1zM230 79h1v1h-1zM230 83h1v1h-1zM230 84h1v1h-1zM230 88h1v1h-1zM230 89h1v1h-1zM230 93h1v1h-1zM230 94h1v1h-1zM230 98h1v1h-1zM230 99h1v1h-1zM230 103h1v1h-1zM230 104h1v1h-1zM230 108h1v1h-1zM230 109h1v1h-1zM230 113h1v1h-1zM230 114h1v1h-1zM230 118h1v1h-1zM230 119h1v1h-1zM230 123h1v1h-1zM230 124h1v1h-1zM230 128h1v1h-1zM230 129h1v1h-1zM230 133h1v1h-1zM230 134h1v1h-1zM230 138h1v1h-1zM230 139h1v1h-1zM230 143h1v1h-1zM230 144h1v1h-1zM230 148h1v1h-1zM230 149h1v1h-1zM230 153h1v1h-1zM230 154h1v1h-1zM230 158h1v1h-1zM230 159h1v1h-1zM230 163h1v1h-1zM230 164h1v1h-1zM230 168h1v1h-1zM230 169h1v1h-1zM230 173h1v1h-1zM230 174h1v1h-1zM230 178h1v1h-1zM230 179h1v1h-1zM230 183h1v1h-1zM230 184h1v1h-1zM230 188h1v1h-1zM230 189h1v1h-1zM230 193h1v1h-1zM230 194h1v1h-1zM230 198h1v1h-1zM230 199h1v1h-1zM230 203h1v1h-1zM230 204h1v1h-1zM230 208h1v1h-1zM230 209h1v1h-1zM230 213h1v1h-1zM230 214h1v1h-1zM230 218h1v1h-1zM230 219h1v1h-1zM230 223h1v1h-1zM230 224h1v1h-1zM230 228h1v1h-1zM230 229h1v1h-1zM230 233h1v1h-1zM230 234h1v1h-1zM230 238h1v1h-1zM230 239h1v1h-1zM230 243h1v1h-1zM230 244h1v1h-1zM230 248h1v1h-1zM230 249h1v1h-1zM230 253h1v1h-1zM230 254h1v1h-1zM230 258h1v1h-1zM230 259h1v1h-1zM230 263h1v1h-1zM230 264h1v1h-1zM230 268h1v1h-1zM230 269h1v1h-1zM230 273h1v1h-1zM230 274h1v1h-1zM230 278h1v1h-1zM230 279h1v1h-1zM230 283h1v1h-1zM230 284h1v1h-1zM230 288h1v1h-1zM230 289h1v1h-1zM230 293h1v1h-1zM230 294h1v1h-1zM230 298h1v1h-1zM230 299h1v1h-1zM230 303h1v1h-1zM230 304h1v1h-1zM230 308h1v1h-1zM230 309h1v1h-1zM230 313h1v1h-1zM230 314h1v1h-1zM230 318h1v1h-1zM230 319h1v1h-1zM230 323h1v1h-1zM230 324h1v1h-1zM230 328h1v1h-1zM230 329h1v1h-1zM230 333h1v1h-1zM230 334h1v1h-1zM230 338h1v1h-1zM230 339h1v1h-1zM230 343h1v1h-1zM230 344h1v1h-1zM230 348h1v1h-1zM230 349h1v1h-1zM230 353h1v1h-1zM230 354h1v1h-1zM230 358h1v1h-1zM230 359h1v1h-1zM230 363h1v1h-1zM230 364h1v1h-1zM230 368h1v1h-1zM230 369h1v1h-1zM230 373h1v1h-1zM230 374h1v1h-1zM230 378h1v1h-1zM230 379h1v1h-1zM230 383h1v1h-1zM230 384h1v1h-1zM230 388h1v1h-1zM230 389h1v1h-1zM230 393h1v1h-1zM230 394h1v1h-1zM230 398h1v1h-1zM230 399h1v1h-1zM230 403h1v1h-1zM230 404h1v1h-1zM230 408h1v1h-1zM230 409h1v1h-1zM230 413h1v1h-1zM230 414h1v1h-1zM230 418h1v1h-1zM230 419h1v1h-1zM230 423h1v1h-1zM230 424h1v1h-1zM230 428h1v1h-1zM230 429h1v1h-1zM230 433h1v1h-1zM230 434h1v1h-1zM230 438h1v1h-1zM230 439h1v1h-1zM230 443h1v1h-1zM230 444h1v1h-1zM230 448h1v1h-1zM230 449h1v1h-1zM230 453h1v1h-1zM230 454h1v1h-1zM230 458h1v1h-1zM230 459h1v1h-1zM230 463h1v1h-1zM230 464h1v1h-1zM230 468h1v1h-1zM230 469h1v1h-1zM230 473h1v1h-1zM230 474h1v1h-1zM230 478h1v1h-1zM230 479h1v1h-1zM230 483h1v1h-1zM230 484h1v1h-1zM230 488h1v1h-1zM230 489h1v1h-1zM230 493h1v1h-1zM230 494h1v1h-1zM230 498h1v1h-1zM230 499h1v1h-1zM230 503h1v1h-1zM230 504h1v1h-1zM230 508h1v1h-1zM230 509h1v1h-1zM230 513h1v1h-1zM230 514h1v1h-1zM230 518h1v1h-1zM230 519h1v1h-1zM230 523h1v1h-1zM230 524h1v1h-1zM230 528h1v1h-1zM230 529h1v1h-1zM230 533h1v1h-1zM230 534h1v1h-1zM230 538h1v1h-1zM230 539h1v1h-1zM230 543h1v1h-1zM230 544h1v1h-1zM230 548h1v1h-1zM230 549h1v1h-1zM230 553h1v1h-1zM230 554h1v1h-1zM230 558h1v1h-1zM230 559h1v1h-1zM230 563h1v1h-1zM230 564h1v1h-1zM230 568h1v1h-1zM230 569h1v1h-1zM230 573h1v1h-1zM230 574h1v1h-1zM230 578h1v1h-1zM230 579h1v1h-1zM230 583h1v1h-1zM230 584h1v1h-1zM230 588h1v1h-1zM230 589h1v1h-1zM230 593h1v1h-1zM230 594h1v1h-1zM230 598h1v1h-1zM230 599h1v1h-1zM230 603h1v1h-1zM230 604h1v1h-1zM230 608h1v1h-1zM230 609h1v1h-1zM230 613h1v1h-1zM230 614h1v1h-1zM230 618h1v1h-1zM230 619h1v1h-1zM230 623h1v1h-1zM230 624h1v1h-1zM230 628h1v1h-1zM230 629h1v1h-1zM230 633h1v1h-1zM230 634h1v1h-1zM230 638h1v1h-1zM230 639h1v1h-1zM230 643h1v1h-1zM230 644h1v1h-1zM230 648h1v1h-1zM230 649h1v1h-1zM230 653h1v1h-1zM230 654h1v1h-1zM230 658h1v1h-1zM230 659h1v1h-1zM230 663h1v1h-1zM230 664h1v1h-1zM230 668h1v1h-1zM230 669h1v1h-1zM230 673h1v1h-1zM230 674h1v1h-1zM230 678h1v1h-1zM230 679h1v1h-1zM230 683h1v1h-1zM230 684h1v1h-1zM230 688h1v1h-1zM230 689h1v1h-1zM230 693h1v1h-1zM230 694h1v1h-1zM230 698h1v1h-1zM230 699h1v1h-1zM230 703h1v1h-1zM230 704h1v1h-1zM230 708h1v1h-1zM230 709h1v1h-1zM230 713h1v1h-1zM230 714h1v1h-1zM230 718h1v1h-1zM230 719h1v1h-1zM230 723h1v1h-1zM230 724h1v1h-1zM230 728h1v1h-1zM230 729h1v1h-1zM230 733h1v1h-1zM230 734h1v1h-1zM230 738h1v1h-1zM230 739h1v1h-1zM406 38h1v1h-1zM406 39h1v1h-1zM406 43h1v1h-1zM406 44h1v1h-1zM406 48h1v1h-1zM406 49h1v1h-1zM406 53h1v1h-1zM406 54h1v1h-1zM406 58h1v1h-1zM406 59h1v1h-1zM406 63h1v1h-1zM406 64h1v1h-1zM406 68h1v1h-1zM406 69h1v1h-1zM406 73h1v1h-1zM406 74h1v1h-1zM406 78h1v1h-1zM406 79h1v1h-1zM406 83h1v1h-1zM406 84h1v1h-1zM406 88h1v1h-1zM406 89h1v1h-1zM406 93h1v1h-1zM406 94h1v1h-1zM406 98h1v1h-1zM406 99h1v1h-1zM406 103h1v1h-1zM406 104h1v1h-1zM406 108h1v1h-1zM406 109h1v1h-1zM406 113h1v1h-1zM406 114h1v1h-1zM406 118h1v1h-1zM406 119h1v1h-1zM406 123h1v1h-1zM406 124h1v1h-1zM406 128h1v1h-1zM406 129h1v1h-1zM406 133h1v1h-1zM406 134h1v1h-1zM406 138h1v1h-1zM406 139h1v1h-1zM406 143h1v1h-1zM406 144h1v1h-1zM406 148h1v1h-1zM406 149h1v1h-1zM406 153h1v1h-1zM406 154h1v1h-1zM406 158h1v1h-1zM406 159h1v1h-1zM406 163h1v1h-1zM406 164h1v1h-1zM406 168h1v1h-1zM406 169h1v1h-1zM406 173h1v1h-1zM406 174h1v1h-1zM406 178h1v1h-1zM406 179h1v1h-1zM406 183h1v1h-1zM406 184h1v1h-1zM406 188h1v1h-1zM406 189h1v1h-1zM406 193h1v1h-1zM406 194h1v1h-1zM406 198h1v1h-1zM406 199h1v1h-1zM406 203h1v1h-1zM406 204h1v1h-1zM406 208h1v1h-1zM406 209h1v1h-1zM406 213h1v1h-1zM406 214h1v1h-1zM406 218h1v1h-1zM406 219h1v1h-1zM406 223h1v1h-1zM406 224h1v1h-1zM406 228h1v1h-1zM406 229h1v1h-1zM406 233h1v1h-1zM406 234h1v1h-1zM406 238h1v1h-1zM406 239h1v1h-1zM406 243h1v1h-1zM406 244h1v1h-1zM406 248h1v1h-1zM406 249h1v1h-1zM406 253h1v1h-1zM406 254h1v1h-1zM406 258h1v1h-1zM406 259h1v1h-1zM406 263h1v1h-1zM406 264h1v1h-1zM406 268h1v1h-1zM406 269h1v1h-1zM406 273h1v1h-1zM406 274h1v1h-1zM406 278h1v1h-1zM406 279h1v1h-1zM406 283h1v1h-1zM406 284h1v1h-1zM406 288h1v1h-1zM406 289h1v1h-1zM406 293h1v1h-1zM406 294h1v1h-1zM406 298h1v1h-1zM406 299h1v1h-1zM406 303h1v1h-1zM406 304h1v1h-1zM406 308h1v1h-1zM406 309h1v1h-1zM406 313h1v1h-1zM406 314h1v1h-1zM406 318h1v1h-1zM406 319h1v1h-1zM406 323h1v1h-1zM406 324h1v1h-1zM406 328h1v1h-1zM406 329h1v1h-1zM406 333h1v1h-1zM406 334h1v1h-1zM406 338h1v1h-1zM406 339h1v1h-1zM406 343h1v1h-1zM406 344h1v1h-1zM406 348h1v1h-1zM406 349h1v1h-1zM406 353h1v1h-1zM406 354h1v1h-1zM406 358h1v1h-1zM406 359h1v1h-1zM406 363h1v1h-1zM406 364h1v1h-1zM406 368h1v1h-1zM406 369h1v1h-1zM406 373h1v1h-1zM406 374h1v1h-1zM406 378h1v1h-1zM406 379h1v1h-1zM406 383h1v1h-1zM406 384h1v1h-1zM406 388h1v1h-1zM406 389h1v1h-1zM406 393h1v1h-1zM406 394h1v1h-1zM406 398h1v1h-1zM406 399h1v1h-1zM406 403h1v1h-1zM406 404h1v1h-1zM406 408h1v1h-1zM406 409h1v1h-1zM406 413h1v1h-1zM406 414h1v1h-1zM406 418h1v1h-1zM406 419h1v1h-1zM406 423h1v1h-1zM406 424h1v1h-1zM406 428h1v1h-1zM406 429h1v1h-1zM406 433h1v1h-1zM406 434h1v1h-1zM406 438h1v1h-1zM406 439h1v1h-1zM406 443h1v1h-1zM406 444h1v1h-1zM406 448h1v1h-1zM406 449h1v1h-1zM406 453h1v1h-1zM406 454h1v1h-1zM406 458h1v1h-1zM406 459h1v1h-1zM406 463h1v1h-1zM406 464h1v1h-1zM406 468h1v1h-1zM406 469h1v1h-1zM406 473h1v1h-1zM406 474h1v1h-1zM406 478h1v1h-1zM406 479h1v1h-1zM406 483h1v1h-1zM406 484h1v1h-1zM406 488h1v1h-1zM406 489h1v1h-1zM406 493h1v1h-1zM406 494h1v1h-1zM406 498h1v1h-1zM406 499h1v1h-1zM406 503h1v1h-1zM406 504h1v1h-1zM406 508h1v1h-1zM406 509h1v1h-1zM406 513h1v1h-1zM406 514h1v1h-1zM406 518h1v1h-1zM406 519h1v1h-1zM406 523h1v1h-1zM406 524h1v1h-1zM406 528h1v1h-1zM406 529h1v1h-1zM406 533h1v1h-1zM406 534h1v1h-1zM406 538h1v1h-1zM406 539h1v1h-1zM406 543h1v1h-1zM406 544h1v1h-1zM406 548h1v1h-1zM406 549h1v1h-1zM406 553h1v1h-1zM406 554h1v1h-1zM406 558h1v1h-1zM406 559h1v1h-1zM406 563h1v1h-1zM406 564h1v1h-1zM406 568h1v1h-1zM406 569h1v1h-1zM406 573h1v1h-1zM406 574h1v1h-1zM406 578h1v1h-1zM406 579h1v1h-1zM406 583h1v1h-1zM406 584h1v1h-1zM406 588h1v1h-1zM406 589h1v1h-1zM406 593h1v1h-1zM406 594h1v1h-1zM406 598h1v1h-1zM406 599h1v1h-1zM406 603h1v1h-1zM406 604h1v1h-1zM406 608h1v1h-1zM406 609h1v1h-1zM406 613h1v1h-1zM406 614h1v1h-1zM406 618h1v1h-1zM406 619h1v1h-1zM406 623h1v1h-1zM406 624h1v1h-1zM406 628h1v1h-1zM406 629h1v1h-1zM406 633h1v1h-1zM406 634h1v1h-1zM406 638h1v1h-1zM406 639h1v1h-1zM406 643h1v1h-1zM406 644h1v1h-1zM406 648h1v1h-1zM406 649h1v1h-1zM406 653h1v1h-1zM406 654h1v1h-1zM406 658h1v1h-1zM406 659h1v1h-1zM406 663h1v1h-1zM406 664h1v1h-1zM406 668h1v1h-1zM406 669h1v1h-1zM406 673h1v1h-1zM406 674h1v1h-1zM406 678h1v1h-1zM406 679h1v1h-1zM406 683h1v1h-1zM406 684h1v1h-1zM406 688h1v1h-1zM406 689h1v1h-1zM406 693h1v1h-1zM406 694h1v1h-1zM406 698h1v1h-1zM406 699h1v1h-1zM406 703h1v1h-1zM406 704h1v1h-1zM406 708h1v1h-1zM406 709h1v1h-1zM406 713h1v1h-1zM406 714h1v1h-1zM406 718h1v1h-1zM406 719h1v1h-1zM406 723h1v1h-1zM406 724h1v1h-1zM406 728h1v1h-1zM406 729h1v1h-1zM406 733h1v1h-1zM406 734h1v1h-1zM406 738h1v1h-1zM406 739h1v1h-1zM582 38h1v1h-1zM582 39h1v1h-1zM582 43h1v1h-1zM582 44h1v1h-1zM582 48h1v1h-1zM582 49h1v1h-1zM582 53h1v1h-1zM582 54h1v1h-1zM582 58h1v1h-1zM582 59h1v1h-1zM582 63h1v1h-1zM582 64h1v1h-1zM582 68h1v1h-1zM582 69h1v1h-1zM582 73h1v1h-1zM582 74h1v1h-1zM582 78h1v1h-1zM582 79h1v1h-1zM582 83h1v1h-1zM582 84h1v1h-1zM582 88h1v1h-1zM582 89h1v1h-1zM582 93h1v1h-1zM582 94h1v1h-1zM582 98h1v1h-1zM582 99h1v1h-1zM582 103h1v1h-1zM582 104h1v1h-1zM582 108h1v1h-1zM582 109h1v1h-1zM582 113h1v1h-1zM582 114h1v1h-1zM582 118h1v1h-1zM582 119h1v1h-1zM582 123h1v1h-1zM582 124h1v1h-1zM582 128h1v1h-1zM582 129h1v1h-1zM582 133h1v1h-1zM582 134h1v1h-1zM582 138h1v1h-1zM582 139h1v1h-1zM582 143h1v1h-1zM582 144h1v1h-1zM582 148h1v1h-1zM582 149h1v1h-1zM582 153h1v1h-1zM582 154h1v1h-1zM582 158h1v1h-1zM582 159h1v1h-1zM582 163h1v1h-1zM582 164h1v1h-1zM582 168h1v1h-1zM582 169h1v1h-1zM582 173h1v1h-1zM582 174h1v1h-1zM582 178h1v1h-1zM582 179h1v1h-1zM582 183h1v1h-1zM582 184h1v1h-1zM582 188h1v1h-1zM582 189h1v1h-1zM582 193h1v1h-1zM582 194h1v1h-1zM582 198h1v1h-1zM582 199h1v1h-1zM582 203h1v1h-1zM582 204h1v1h-1zM582 208h1v1h-1zM582 209h1v1h-1zM582 213h1v1h-1zM582 214h1v1h-1zM582 218h1v1h-1zM582 219h1v1h-1zM582 223h1v1h-1zM582 224h1v1h-1zM582 228h1v1h-1zM582 229h1v1h-1zM582 233h1v1h-1zM582 234h1v1h-1zM582 238h1v1h-1zM582 239h1v1h-1zM582 243h1v1h-1zM582 244h1v1h-1zM582 248h1v1h-1zM582 249h1v1h-1zM582 253h1v1h-1zM582 254h1v1h-1zM582 258h1v1h-1zM582 259h1v1h-1zM582 263h1v1h-1zM582 264h1v1h-1zM582 268h1v1h-1zM582 269h1v1h-1zM582 273h1v1h-1zM582 274h1v1h-1zM582 278h1v1h-1zM582 279h1v1h-1zM582 283h1v1h-1zM582 284h1v1h-1zM582 288h1v1h-1zM582 289h1v1h-1zM582 293h1v1h-1zM582 294h1v1h-1zM582 298h1v1h-1zM582 299h1v1h-1zM582 303h1v1h-1zM582 304h1v1h-1zM582 308h1v1h-1zM582 309h1v1h-1zM582 313h1v1h-1zM582 314h1v1h-1zM582 318h1v1h-1zM582 319h1v1h-1zM582 323h1v1h-1zM582 324h1v1h-1zM582 328h1v1h-1zM582 329h1v1h-1zM582 333h1v1h-1zM582 334h1v1h-1zM582 338h1v1h-1zM582 339h1v1h-1zM582 343h1v1h-1zM582 344h1v1h-1zM582 348h1v1h-1zM582 349h1v1h-1zM582 353h1v1h-1zM582 354h1v1h-1zM582 358h1v1h-1zM582 359h1v1h-1zM582 363h1v1h-1zM582 364h1v1h-1zM582 368h1v1h-1zM582 369h1v1h-1zM582 373h1v1h-1zM582 374h1v1h-1zM582 378h1v1h-1zM582 379h1v1h-1zM582 383h1v1h-1zM582 384h1v1h-1zM582 388h1v1h-1zM582 389h1v1h-1zM582 393h1v1h-1zM582 394h1v1h-1zM582 398h1v1h-1zM582 399h1v1h-1zM582 403h1v1h-1zM582 404h1v1h-1zM582 408h1v1h-1zM582 409h1v1h-1zM582 413h1v1h-1zM582 414h1v1h-1zM582 418h1v1h-1zM582 419h1v1h-1zM582 423h1v1h-1zM582 424h1v1h-1zM582 428h1v1h-1zM582 429h1v1h-1zM582 433h1v1h-1zM582 434h1v1h-1zM582 438h1v1h-1zM582 439h1v1h-1zM582 443h1v1h-1zM582 444h1v1h-1zM582 448h1v1h-1zM582 449h1v1h-1zM582 453h1v1h-1zM582 454h1v1h-1zM582 458h1v1h-1zM582 459h1v1h-1zM582 463h1v1h-1zM582 464h1v1h-1zM582 468h1v1h-1zM582 469h1v1h-1zM582 473h1v1h-1zM582 474h1v1h-1zM582 478h1v1h-1zM582 479h1v1h-1zM582 483h1v1h-1zM582 484h1v1h-1zM582 488h1v1h-1zM582 489h1v1h-1zM582 493h1v1h-1zM582 494h1v1h-1zM582 498h1v1h-1zM582 499h1v1h-1zM582 503h1v1h-1zM582 504h1v1h-1zM582 508h1v1h-1zM582 509h1v1h-1zM582 513h1v1h-1zM582 514h1v1h-1zM582 518h1v1h-1zM582 519h1v1h-1zM582 523h1v1h-1zM582 524h1v1h-1zM582 528h1v1h-1zM582 529h1v1h-1zM582 533h1v1h-1zM582 534h1v1h-1zM582 538h1v1h-1zM582 539h1v1h-1zM582 543h1v1h-1zM582 544h1v1h-1zM582 548h1v1h-1zM582 549h1v1h-1zM582 553h1v1h-1zM582 554h1v1h-1zM582 558h1v1h-1zM582 559h1v1h-1zM582 563h1v1h-1zM582 564h1v1h-1zM582 568h1v1h-1zM582 569h1v1h-1zM582 573h1v1h-1zM582 574h1v1h-1zM582 578h1v1h-1zM582 579h1v1h-1zM582 583h1v1h-1zM582 584h1v1h-1zM582 588h1v1h-1zM582 589h1v1h-1zM582 593h1v1h-1zM582 594h1v1h-1zM582 598h1v1h-1zM582 599h1v1h-1zM582 603h1v1h-1zM582 604h1v1h-1zM582 608h1v1h-1zM582 609h1v1h-1zM582 613h1v1h-1zM582 614h1v1h-1zM582 618h1v1h-1zM582 619h1v1h-1zM582 623h1v1h-1zM582 624h1v1h-1zM582 628h1v1h-1zM582 629h1v1h-1zM582 633h1v1h-1zM582 634h1v1h-1zM582 638h1v1h-1zM582 639h1v1h-1zM582 643h1v1h-1zM582 644h1v1h-1zM582 648h1v1h-1zM582 649h1v1h-1zM582 653h1v1h-1zM582 654h1v1h-1zM582 658h1v1h-1zM582 659h1v1h-1zM582 663h1v1h-1zM582 664h1v1h-1zM582 668h1v1h-1zM582 669h1v1h-1zM582 673h1v1h-1zM582 674h1v1h-1zM582 678h1v1h-1zM582 679h1v1h-1zM582 683h1v1h-1zM582 684h1v1h-1zM582 688h1v1h-1zM582 689h1v1h-1zM582 693h1v1h-1zM582 694h1v1h-1zM582 698h1v1h-1zM582 699h1v1h-1zM582 703h1v1h-1zM582 704h1v1h-1zM582 708h1v1h-1zM582 709h1v1h-1zM582 713h1v1h-1zM582 714h1v1h-1zM582 718h1v1h-1zM582 719h1v1h-1zM582 723h1v1h-1zM582 724h1v1h-1zM582 728h1v1h-1zM582 729h1v1h-1zM582 733h1v1h-1zM582 734h1v1h-1zM582 738h1v1h-1zM582 739h1v1h-1zM758 38h1v1h-1zM758 39h1v1h-1zM758 43h1v1h-1zM758 44h1v1h-1zM758 48h1v1h-1zM758 49h1v1h-1zM758 53h1v1h-1zM758 54h1v1h-1zM758 58h1v1h-1zM758 59h1v1h-1zM758 63h1v1h-1zM758 64h1v1h-1zM758 68h1v1h-1zM758 69h1v1h-1zM758 73h1v1h-1zM758 74h1v1h-1zM758 78h1v1h-1zM758 79h1v1h-1zM758 83h1v1h-1zM758 84h1v1h-1zM758 88h1v1h-1zM758 89h1v1h-1zM758 93h1v1h-1zM758 94h1v1h-1zM758 98h1v1h-1zM758 99h1v1h-1zM758 103h1v1h-1zM758 104h1v1h-1zM758 108h1v1h-1zM758 109h1v1h-1zM758 113h1v1h-1zM758 114h1v1h-1zM758 118h1v1h-1zM758 119h1v1h-1zM758 123h1v1h-1zM758 124h1v1h-1zM758 128h1v1h-1zM758 129h1v1h-1zM758 133h1v1h-1zM758 134h1v1h-1zM758 138h1v1h-1zM758 139h1v1h-1zM758 143h1v1h-1zM758 144h1v1h-1zM758 148h1v1h-1zM758 149h1v1h-1zM758 153h1v1h-1zM758 154h1v1h-1zM758 158h1v1h-1zM758 159h1v1h-1zM758 163h1v1h-1zM758 164h1v1h-1zM758 168h1v1h-1zM758 169h1v1h-1zM758 173h1v1h-1zM758 174h1v1h-1zM758 178h1v1h-1zM758 179h1v1h-1zM758 183h1v1h-1zM758 184h1v1h-1zM758 188h1v1h-1zM758 189h1v1h-1zM758 193h1v1h-1zM758 194h1v1h-1zM758 198h1v1h-1zM758 199h1v1h-1zM758 203h1v1h-1zM758 204h1v1h-1zM758 208h1v1h-1zM758 209h1v1h-1zM758 213h1v1h-1zM758 214h1v1h-1zM758 218h1v1h-1zM758 219h1v1h-1zM758 223h1v1h-1zM758 224h1v1h-1zM758 228h1v1h-1zM758 229h1v1h-1zM758 233h1v1h-1zM758 234h1v1h-1zM758 238h1v1h-1zM758 239h1v1h-1zM758 243h1v1h-1zM758 244h1v1h-1zM758 248h1v1h-1zM758 249h1v1h-1zM758 253h1v1h-1zM758 254h1v1h-1zM758 258h1v1h-1zM758 259h1v1h-1zM758 263h1v1h-1zM758 264h1v1h-1zM758 268h1v1h-1zM758 269h1v1h-1zM758 273h1v1h-1zM758 274h1v1h-1zM758 278h1v1h-1zM758 279h1v1h-1zM758 283h1v1h-1zM758 284h1v1h-1zM758 288h1v1h-1zM758 289h1v1h-1zM758 293h1v1h-1zM758 294h1v1h-1zM758 298h1v1h-1zM758 299h1v1h-1zM758 303h1v1h-1zM758 304h1v1h-1zM758 308h1v1h-1zM758 309h1v1h-1zM758 313h1v1h-1zM758 314h1v1h-1zM758 318h1v1h-1zM758 319h1v1h-1zM758 323h1v1h-1zM758 324h1v1h-1zM758 328h1v1h-1zM758 329h1v1h-1zM758 333h1v1h-1zM758 334h1v1h-1zM758 338h1v1h-1zM758 339h1v1h-1zM758 343h1v1h-1zM758 344h1v1h-1zM758 348h1v1h-1zM758 349h1v1h-1zM758 353h1v1h-1zM758 354h1v1h-1zM758 358h1v1h-1zM758 359h1v1h-1zM758 363h1v1h-1zM758 364h1v1h-1zM758 368h1v1h-1zM758 369h1v1h-1zM758 373h1v1h-1zM758 374h1v1h-1zM758 378h1v1h-1zM758 379h1v1h-1zM758 383h1v1h-1zM758 384h1v1h-1zM758 388h1v1h-1zM758 389h1v1h-1zM758 393h1v1h-1zM758 394h1v1h-1zM758 398h1v1h-1zM758 399h1v1h-1zM758 403h1v1h-1zM758 404h1v1h-1zM758 408h1v1h-1zM758 409h1v1h-1zM758 413h1v1h-1zM758 414h1v1h-1zM758 418h1v1h-1zM758 419h1v1h-1zM758 423h1v1h-1zM758 424h1v1h-1zM758 428h1v1h-1zM758 429h1v1h-1zM758 433h1v1h-1zM758 434h1v1h-1zM758 438h1v1h-1zM758 439h1v1h-1zM758 443h1v1h-1zM758 444h1v1h-1zM758 448h1v1h-1zM758 449h1v1h-1zM758 453h1v1h-1zM758 454h1v1h-1zM758 458h1v1h-1zM758 459h1v1h-1zM758 463h1v1h-1zM758 464h1v1h-1zM758 468h1v1h-1zM758 469h1v1h-1zM758 473h1v1h-1zM758 474h1v1h-1zM758 478h1v1h-1zM758 479h1v1h-1zM758 483h1v1h-1zM758 484h1v1h-1zM758 488h1v1h-1zM758 489h1v1h-1zM758 493h1v1h-1zM758 494h1v1h-1zM758 498h1v1h-1zM758 499h1v1h-1zM758 503h1v1h-1zM758 504h1v1h-1zM758 508h1v1h-1zM758 509h1v1h-1zM758 513h1v1h-1zM758 514h1v1h-1zM758 518h1v1h-1zM758 519h1v1h-1zM758 523h1v1h-1zM758 524h1v1h-1zM758 528h1v1h-1zM758 529h1v1h-1zM758 533h1v1h-1zM758 534h1v1h-1zM758 538h1v1h-1zM758 539h1v1h-1zM758 543h1v1h-1zM758 544h1v1h-1zM758 548h1v1h-1zM758 549h1v1h-1zM758 553h1v1h-1zM758 554h1v1h-1zM758 558h1v1h-1zM758 559h1v1h-1zM758 563h1v1h-1zM758 564h1v1h-1zM758 568h1v1h-1zM758 569h1v1h-1zM758 573h1v1h-1zM758 574h1v1h-1zM758 578h1v1h-1zM758 579h1v1h-1zM758 583h1v1h-1zM758 584h1v1h-1zM758 588h1v1h-1zM758 589h1v1h-1zM758 593h1v1h-1zM758 594h1v1h-1zM758 598h1v1h-1zM758 599h1v1h-1zM758 603h1v1h-1zM758 604h1v1h-1zM758 608h1v1h-1zM758 609h1v1h-1zM758 613h1v1h-1zM758 614h1v1h-1zM758 618h1v1h-1zM758 619h1v1h-1zM758 623h1v1h-1zM758 624h1v1h-1zM758 628h1v1h-1zM758 629h1v1h-1zM758 633h1v1h-1zM758 634h1v1h-1zM758 638h1v1h-1zM758 639h1v1h-1zM758 643h1v1h-1zM758 644h1v1h-1zM758 648h1v1h-1zM758 649h1v1h-1zM758 653h1v1h-1zM758 654h1v1h-1zM758 658h1v1h-1zM758 659h1v1h-1zM758 663h1v1h-1zM758 664h1v1h-1zM758 668h1v1h-1zM758 669h1v1h-1zM758 673h1v1h-1zM758 674h1v1h-1zM758 678h1v1h-1zM758 679h1v1h-1zM758 683h1v1h-1zM758 684h1v1h-1zM758 688h1v1h-1zM758 689h1v1h-1zM758 693h1v1h-1zM758 694h1v1h-1zM758 698h1v1h-1zM758 699h1v1h-1zM758 703h1v1h-1zM758 704h1v1h-1zM758 708h1v1h-1zM758 709h1v1h-1zM758 713h1v1h-1zM758 714h1v1h-1zM758 718h1v1h-1zM758 719h1v1h-1zM758 723h1v1h-1zM758 724h1v1h-1zM758 728h1v1h-1zM758 729h1v1h-1zM758 733h1v1h-1zM758 734h1v1h-1zM758 738h1v1h-1zM758 739h1v1h-1zM935 162h1v1h-1zM935 163h1v1h-1zM935 167h1v1h-1zM935 168h1v1h-1zM935 172h1v1h-1zM935 173h1v1h-1zM935 177h1v1h-1zM935 178h1v1h-1zM935 182h1v1h-1zM935 183h1v1h-1zM935 187h1v1h-1zM935 188h1v1h-1zM935 192h1v1h-1zM935 193h1v1h-1zM935 197h1v1h-1zM935 198h1v1h-1zM935 202h1v1h-1zM935 203h1v1h-1zM935 207h1v1h-1zM935 208h1v1h-1zM935 212h1v1h-1zM935 213h1v1h-1zM935 217h1v1h-1zM935 218h1v1h-1zM935 222h1v1h-1zM935 223h1v1h-1zM935 227h1v1h-1zM935 228h1v1h-1zM935 232h1v1h-1zM935 233h1v1h-1zM935 237h1v1h-1zM935 238h1v1h-1zM935 242h1v1h-1zM935 243h1v1h-1zM935 247h1v1h-1zM935 248h1v1h-1zM935 252h1v1h-1zM935 253h1v1h-1zM935 257h1v1h-1zM935 258h1v1h-1zM935 262h1v1h-1zM935 263h1v1h-1zM935 267h1v1h-1zM935 268h1v1h-1zM935 272h1v1h-1zM935 273h1v1h-1zM935 277h1v1h-1zM935 278h1v1h-1zM935 282h1v1h-1zM935 283h1v1h-1zM935 287h1v1h-1zM935 288h1v1h-1zM935 292h1v1h-1zM935 293h1v1h-1zM935 297h1v1h-1zM935 298h1v1h-1zM935 302h1v1h-1zM935 303h1v1h-1zM935 307h1v1h-1zM935 308h1v1h-1zM935 312h1v1h-1zM935 313h1v1h-1zM935 317h1v1h-1zM935 318h1v1h-1zM935 322h1v1h-1zM935 323h1v1h-1zM935 327h1v1h-1zM935 328h1v1h-1zM935 332h1v1h-1zM935 333h1v1h-1zM935 337h1v1h-1zM935 338h1v1h-1zM935 342h1v1h-1zM935 343h1v1h-1zM935 347h1v1h-1zM935 348h1v1h-1zM935 352h1v1h-1zM935 353h1v1h-1zM935 357h1v1h-1zM935 358h1v1h-1zM935 362h1v1h-1zM935 363h1v1h-1zM935 367h1v1h-1zM935 368h1v1h-1zM935 372h1v1h-1zM935 373h1v1h-1zM935 377h1v1h-1zM935 378h1v1h-1zM935 382h1v1h-1zM935 383h1v1h-1zM935 387h1v1h-1zM935 388h1v1h-1zM935 392h1v1h-1zM935 393h1v1h-1zM935 397h1v1h-1zM935 398h1v1h-1zM935 402h1v1h-1zM935 403h1v1h-1zM935 407h1v1h-1zM935 408h1v1h-1zM935 412h1v1h-1zM935 413h1v1h-1zM935 417h1v1h-1zM935 418h1v1h-1zM935 422h1v1h-1zM935 423h1v1h-1zM935 427h1v1h-1zM935 428h1v1h-1zM935 432h1v1h-1zM935 433h1v1h-1zM935 437h1v1h-1zM935 438h1v1h-1zM935 442h1v1h-1zM935 443h1v1h-1zM935 447h1v1h-1zM935 448h1v1h-1zM935 452h1v1h-1zM935 453h1v1h-1zM935 457h1v1h-1zM935 458h1v1h-1zM935 462h1v1h-1zM935 463h1v1h-1zM935 467h1v1h-1zM935 468h1v1h-1zM935 472h1v1h-1zM935 473h1v1h-1zM935 477h1v1h-1zM935 478h1v1h-1zM935 482h1v1h-1zM935 483h1v1h-1zM935 487h1v1h-1zM935 488h1v1h-1zM935 492h1v1h-1zM935 493h1v1h-1zM935 497h1v1h-1zM935 498h1v1h-1zM935 502h1v1h-1zM935 503h1v1h-1zM935 507h1v1h-1zM935 508h1v1h-1zM935 512h1v1h-1zM935 513h1v1h-1zM935 517h1v1h-1zM935 518h1v1h-1zM935 522h1v1h-1zM935 523h1v1h-1zM935 527h1v1h-1zM935 528h1v1h-1zM935 532h1v1h-1zM935 533h1v1h-1zM935 537h1v1h-1zM935 538h1v1h-1zM935 542h1v1h-1zM935 543h1v1h-1zM935 547h1v1h-1zM935 548h1v1h-1zM935 552h1v1h-1zM935 553h1v1h-1zM935 557h1v1h-1zM935 558h1v1h-1zM935 562h1v1h-1zM935 563h1v1h-1zM935 567h1v1h-1zM935 568h1v1h-1zM935 572h1v1h-1zM935 573h1v1h-1zM935 577h1v1h-1zM935 578h1v1h-1zM935 582h1v1h-1zM935 583h1v1h-1zM935 587h1v1h-1zM935 588h1v1h-1zM935 592h1v1h-1zM935 593h1v1h-1zM935 597h1v1h-1zM935 598h1v1h-1zM935 602h1v1h-1zM935 603h1v1h-1zM935 607h1v1h-1zM935 608h1v1h-1zM935 612h1v1h-1zM935 613h1v1h-1zM935 617h1v1h-1zM935 618h1v1h-1zM935 622h1v1h-1zM935 623h1v1h-1zM935 627h1v1h-1zM935 628h1v1h-1zM935 632h1v1h-1zM935 633h1v1h-1zM935 637h1v1h-1zM935 638h1v1h-1zM935 642h1v1h-1zM935 643h1v1h-1zM935 647h1v1h-1zM935 648h1v1h-1zM935 652h1v1h-1zM935 653h1v1h-1zM935 657h1v1h-1zM935 658h1v1h-1zM935 662h1v1h-1zM935 663h1v1h-1zM935 667h1v1h-1zM935 668h1v1h-1zM935 672h1v1h-1zM935 673h1v1h-1zM935 677h1v1h-1zM935 678h1v1h-1zM935 682h1v1h-1zM935 683h1v1h-1zM935 687h1v1h-1zM935 688h1v1h-1zM935 692h1v1h-1zM935 693h1v1h-1zM935 697h1v1h-1zM935 698h1v1h-1zM935 702h1v1h-1zM935 703h1v1h-1zM935 707h1v1h-1zM935 708h1v1h-1zM935 712h1v1h-1zM935 713h1v1h-1zM935 717h1v1h-1zM935 718h1v1h-1zM935 722h1v1h-1zM935 723h1v1h-1zM935 727h1v1h-1zM935 728h1v1h-1zM935 732h1v1h-1zM935 733h1v1h-1zM935 737h1v1h-1zM935 738h1v1h-1z"/>
<path fill="#000" d="M54 38h952v1h-952zM54 741h952v1h-952zM54 38h1v704h-1zM1005 38h1v704h-1zM55 38h7v1h-7zM998 38h7v1h-7zM55 155h7v1h-7zM998 155h7v1h-7zM55 272h7v1h-7zM998 272h7v1h-7zM55 389h7v1h-7zM998 389h7v1h-7zM55 507h7v1h-7zM998 507h7v1h-7zM55 624h7v1h-7zM998 624h7v1h-7zM55 741h7v1h-7zM998 741h7v1h-7zM54 734h1v7h-1zM54 39h1v7h-1zM230 734h1v7h-1zM230 39h1v7h-1zM406 734h1v7h-1zM406 39h1v7h-1zM582 734h1v7h-1zM582 39h1v7h-1zM758 734h1v7h-1zM758 39h1v7h-1zM935 734h1v7h-1zM935 39h1v7h-1zM20 35h1v1h-1zM19 36h2v1h-2zM18 37h1v1h-1zM20 37h1v1h-1zM20 38h1v1h-1zM20 39h1v1h-1zM20 40h1v1h-1zM20 41h1v1h-1zM18 42h5v1h-5zM24 35h5v1h-5zM24 36h1v1h-1zM24 37h4v1h-4zM24 38h1v1h-1zM28 38h1v1h-1zM28 39h1v1h-1zM28 40h1v1h-1zM24 41h1v1h-1zM28 41h1v1h-1zM25 42h3v1h-3zM32 35h1v1h-1zM31 36h1v1h-1zM33 36h1v1h-1zM30 37h1v1h-1zM34 37h1v1h-1zM30 38h1v1h-1zM34 38h1v1h-1zM30 39h1v1h-1zM34 39h1v1h-1zM30 40h1v1h-1zM34 40h1v1h-1zM31 41h1v1h-1zM33 41h1v1h-1zM32 42h1v1h-1zM38 35h1v1h-1zM37 36h1v1h-1zM39 36h1v1h-1zM36 37h1v1h-1zM40 37h1v1h-1zM36 38h1v1h-1zM40 38h1v1h-1zM36 39h1v1h-1zM40 39h1v1h-1zM36 40h1v1h-1zM40 40h1v1h-1zM37 41h1v1h-1zM39 41h1v1h-1zM38 42h1v1h-1zM44 35h1v1h-1zM43 36h1v1h-1zM45 36h1v1h-1zM42 37h1v1h-1zM46 37h1v1h-1zM42 38h1v1h-1zM46 38h1v1h-1zM42 39h1v1h-1zM46 39h1v1h-1zM42 40h1v1h-1zM46 40h1v1h-1zM43 41h1v1h-1zM45 41h1v1h-1zM44 42h1v1h-1zM20 152h1v1h-1zM19 153h2v1h-2zM18 154h1v1h-1zM20 154h1v1h-1zM20 155h1v1h-1zM20 156h1v1h-1zM20 157h1v1h-1zM20 158h1v1h-1zM18 159h5v1h-5zM26 152h1v1h-1zM25 153h1v1h-1zM27 153h1v1h-1zM24 154h1v1h-1zM28 154h1v1h-1zM24 155h1v1h-1zM28 155h1v1h-1zM24 156h1v1h-1zM28 156h1v1h-1zM24 157h1v1h-1zM28 157h1v1h-1zM25 158h1v1h-1zM27 158h1v1h-1zM26 159h1v1h-1zM32 152h1v1h-1zM31 153h1v1h-1zM33 153h1v1h-1zM30 154h1v1h-1zM34 154h1v1h-1zM30 155h1v1h-1zM34 155h1v1h-1zM30 156h1v1h-1zM34 156h1v1h-1zM30 157h1v1h-1zM34 157h1v1h-1zM31 158h1v1h-1zM33 158h1v1h-1zM32 159h1v1h-1zM38 152h1v1h-1zM37 153h1v1h-1zM39 153h1v1h-1zM36 154h1v1h-1zM40 154h1v1h-1zM36 155h1v1h-1zM40 155h1v1h-1zM36 156h1v1h-1zM40 156h1v1h-1zM36 157h1v1h-1zM40 157h1v1h-1zM37 158h1v1h-1zM39 158h1v1h-1zM38 159h1v1h-1zM44 152h1v1h-1zM43 153h1v1h-1zM45 153h1v1h-1zM42 154h1v1h-1zM46 154h1v1h-1zM42 155h1v1h-1zM46 155h1v1h-1zM42 156h1v1h-1zM46 156h1v1h-1zM42 157h1v1h-1zM46 157h1v1h-1zM43 158h1v1h-1zM45 158h1v1h-1zM44 159h1v1h-1zM24 269h5v1h-5zM24 270h1v1h-1zM24 271h4v1h-4zM24 272h1v1h-1zM28 272h1v1h-1zM28 273h1v1h-1zM28 274h1v1h-1zM24 275h1v1h-1zM28 275h1v1h-1zM25 276h3v1h-3zM32 269h1v1h-1zM31 270h1v1h-1zM33 270h1v1h-1zM30 271h1v1h-1zM34 271h1v1h-1zM30 272h1v1h-1zM34 272h1v1h-1zM30 273h1v1h-1zM34 273h1v1h-1zM30 274h1v1h-1zM34 274h1v1h-1zM31 275h1v1h-1zM33 275h1v1h-1zM32 276h1v1h-1zM38 269h1v1h-1zM37 270h1v1h-1zM39 270h1v1h-1zM36 271h1v1h-1zM40 271h1v1h-1zM36 272h1v1h-1zM40 272h1v1h-1zM36 273h1v1h-1zM40 273h1v1h-1zM36 274h1v1h-1zM40 274h1v1h-1zM37 275h1v1h-1zM39 275h1v1h-1zM38 276h1v1h-1zM44 269h1v1h-1zM43 270h1v1h-1zM45 270h1v1h-1zM42 271h1v1h-1zM46 271h1v1h-1zM42 272h1v1h-1zM46 272h1v1h-1zM42 273h1v1h-1zM46 273h1v1h-1zM42 274h1v1h-1zM46 274h1v1h-1zM43 275h1v1h-1zM45 275h1v1h-1zM44 276h1v1h-1zM44 386h1v1h-1zM43 387h1v1h-1zM45 387h1v1h-1zM42 388h1v1h-1zM46 388h1v1h-1zM42 389h1v1h-1zM46 389h1v1h-1zM42 390h1v1h-1zM46 390h1v1h-1zM42 391h1v1h-1zM46 391h1v1h-1zM43 392h1v1h-1zM45 392h1v1h-1zM44 393h1v1h-1zM18 508h5v1h-5zM24 504h5v1h-5zM24 505h1v1h-1zM24 506h4v1h-4zM24 507h1v1h-1zM28 507h1v1h-1zM28 508h1v1h-1zM28 509h1v1h-1zM24 510h1v1h-1zM28 510h1v1h-1zM25 511h3v1h-3zM32 504h1v1h-1zM31 505h1v1h-1zM33 505h1v1h-1zM30 506h1v1h-1zM34 506h1v1h-1zM30 507h1v1h-1zM34 507h1v1h-1zM30 508h1v1h-1zM34 508h1v1h-1zM30 509h1v1h-1zM34 509h1v1h-1zM31 510h1v1h-1zM33 510h1v1h-1zM32 511h1v1h-1zM38 504h1v1h-1zM37 505h1v1h-1zM39 505h1v1h-1zM36 506h1v1h-1zM40 506h1v1h-1zM36 507h1v1h-1zM40 507h1v1h-1zM36 508h1v1h-1zM40 508h1v1h-1zM36 509h1v1h-1zM40 509h1v1h-1zM37 510h1v1h-1zM39 510h1v1h-1zM38 511h1v1h-1zM44 504h1v1h-1zM43 505h1v1h-1zM45 505h1v1h-1zM42 506h1v1h-1zM46 506h1v1h-1zM42 507h1v1h-1zM46 507h1v1h-1zM42 508h1v1h-1zM46 508h1v1h-1zM42 509h1v1h-1zM46 509h1v1h-1zM43 510h1v1h-1zM45 510h1v1h-1zM44 511h1v1h-1zM12 625h5v1h-5zM20 621h1v1h-1zM19 622h2v1h-2zM18 623h1v1h-1zM20 623h1v1h-1zM20 624h1v1h-1zM20 625h1v1h-1zM20 626h1v1h-1zM20 627h1v1h-1zM18 628h5v1h-5zM26 621h1v1h-1zM25 622h1v1h-1zM27 622h1v1h-1zM24 623h1v1h-1zM28 623h1v1h-1zM24 624h1v1h-1zM28 624h1v1h-1zM24 625h1v1h-1zM28 625h1v1h-1zM24 626h1v1h-1zM28 626h1v1h-1zM25 627h1v1h-1zM27 627h1v1h-1zM26 628h1v1h-1zM32 621h1v1h-1zM31 622h1v1h-1zM33 622h1v1h-1zM30 623h1v1h-1zM34 623h1v1h-1zM30 624h1v1h-1zM34 624h1v1h-1zM30 625h1v1h-1zM34 625h1v1h-1zM30 626h1v1h-1zM34 626h1v1h-1zM31 627h1v1h-1zM33 627h1v1h-1zM32 628h1v1h-1zM38 621h1v1h-1zM37 622h1v1h-1zM39 622h1v1h-1zM36 623h1v1h-1zM40 623h1v1h-1zM36 624h1v1h-1zM40 624h1v1h-1zM36 625h1v1h-1zM40 625h1v1h-1zM36 626h1v1h-1zM40 626h1v1h-1zM37 627h1v1h-1zM39 627h1v1h-1zM38 628h1v1h-1zM44 621h1v1h-1zM43 622h1v1h-1zM45 622h1v1h-1zM42 623h1v1h-1zM46 623h1v1h-1zM42 624h1v1h-1zM46 624h1v1h-1zM42 625h1v1h-1zM46 625h1v1h-1zM42 626h1v1h-1zM46 626h1v1h-1zM43 627h1v1h-1zM45 627h1v1h-1zM44 628h1v1h-1zM12 742h5v1h-5zM20 738h1v1h-1zM19 739h2v1h-2zM18 740h1v1h-1zM20 740h1v1h-1zM20 741h1v1h-1zM20 742h1v1h-1zM20 743h1v1h-1zM20 744h1v1h-1zM18 745h5v1h-5zM24 738h5v1h-5zM24 739h1v1h-1zM24 740h4v1h-4zM24 741h1v1h-1zM28 741h1v1h-1zM28 742h1v1h-1zM28 743h1v1h-1zM24 744h1v1h-1zM28 744h1v1h-1zM25 745h3v1h-3zM32 738h1v1h-1zM31 739h1v1h-1zM33 739h1v1h-1zM30 740h1v1h-1zM34 740h1v1h-1zM30 741h1v1h-1zM34 741h1v1h-1zM30 742h1v1h-1zM34 742h1v1h-1zM30 743h1v1h-1zM34 743h1v1h-1zM31 744h1v1h-1zM33 744h1v1h-1zM32 745h1v1h-1zM38 738h1v1h-1zM37 739h1v1h-1zM39 739h1v1h-1zM36 740h1v1h-1zM40 740h1v1h-1zM36 741h1v1h-1zM40 741h1v1h-1zM36 742h1v1h-1zM40 742h1v1h-1zM36 743h1v1h-1zM40 743h1v1h-1zM37 744h1v1h-1zM39 744h1v1h-1zM38 745h1v1h-1zM44 738h1v1h-1zM43 739h1v1h-1zM45 739h1v1h-1zM42 740h1v1h-1zM46 740h1v1h-1zM42 741h1v1h-1zM46 741h1v1h-1zM42 742h1v1h-1zM46 742h1v1h-1zM42 743h1v1h-1zM46 743h1v1h-1zM43 744h1v1h-1zM45 744h1v1h-1zM44 745h1v1h-1zM56 751h1v1h-1zM55 752h1v1h-1zM57 752h1v1h-1zM54 753h1v1h-1zM58 753h1v1h-1zM54 754h1v1h-1zM58 754h1v1h-1zM54 755h1v1h-1zM58 755h1v1h-1zM54 756h1v1h-1zM58 756h1v1h-1zM55 757h1v1h-1zM57 757h1v1h-1zM56 758h1v1h-1zM226 751h1v1h-1zM225 752h2v1h-2zM224 753h1v1h-1zM226 753h1v1h-1zM226 754h1v1h-1zM226 755h1v1h-1zM226 756h1v1h-1zM226 757h1v1h-1zM224 758h5v1h-5zM232 751h1v1h-1zM231 752h1v1h-1zM233 752h1v1h-1zM230 753h1v1h-1zM234 753h1v1h-1zM230 754h1v1h-1zM234 754h1v1h-1zM230 755h1v1h-1zM234 755h1v1h-1zM230 756h1v1h-1zM234 756h1v1h-1zM231 757h1v1h-1zM233 757h1v1h-1zM232 758h1v1h-1zM238 751h1v1h-1zM237 752h1v1h-1zM239 752h1v1h-1zM236 753h1v1h-1zM240 753h1v1h-1zM236 754h1v1h-1zM240 754h1v1h-1zM236 755h1v1h-1zM240 755h1v1h-1zM236 756h1v1h-1zM240 756h1v1h-1zM237 757h1v1h-1zM239 757h1v1h-1zM238 758h1v1h-1zM401 751h3v1h-3zM400 752h1v1h-1zM404 752h1v1h-1zM404 753h1v1h-1zM403 754h1v1h-1zM402 755h1v1h-1zM401 756h1v1h-1zM400 757h1v1h-1zM400 758h5v1h-5zM408 751h1v1h-1zM407 752h1v1h-1zM409 752h1v1h-1zM406 753h1v1h-1zM410 753h1v1h-1zM406 754h1v1h-1zM410 754h1v1h-1zM406 755h1v1h-1zM410 755h1v1h-1zM406 756h1v1h-1zM410 756h1v1h-1zM407 757h1v1h-1zM409 757h1v1h-1zM408 758h1v1h-1zM414 751h1v1h-1zM413 752h1v1h-1zM415 752h1v1h-1zM412 753h1v1h-1zM416 753h1v1h-1zM412 754h1v1h-1zM416 754h1v1h-1zM412 755h1v1h-1zM416 755h1v1h-1zM412 756h1v1h-1zM416 756h1v1h-1zM413 757h1v1h-1zM415 757h1v1h-1zM414 758h1v1h-1zM577 751h3v1h-3zM576 752h1v1h-1zM580 752h1v1h-1zM580 753h1v1h-1zM578 754h2v1h-2zM580 755h1v1h-1zM580 756h1v1h-1zM576 757h1v1h-1zM580 757h1v1h-1zM577 758h3v1h-3zM584 751h1v1h-1zM583 752h1v1h-1zM585 752h1v1h-1zM582 753h1v1h-1zM586 753h1v1h-1zM582 754h1v1h-1zM586 754h1v1h-1zM582 755h1v1h-1zM586 755h1v1h-1zM582 756h1v1h-1zM586 756h1v1h-1zM583 757h1v1h-1zM585 757h1v1h-1zM584 758h1v1h-1zM590 751h1v1h-1zM589 752h1v1h-1zM591 752h1v1h-1zM588 753h1v1h-1zM592 753h1v1h-1zM588 754h1v1h-1zM592 754h1v1h-1zM588 755h1v1h-1zM592 755h1v1h-1zM588 756h1v1h-1zM592 756h1v1h-1zM589 757h1v1h-1zM591 757h1v1h-1zM590 758h1v1h-1zM755 751h1v1h-1zM754 752h2v1h-2zM753 753h1v1h-1zM755 753h1v1h-1zM752 754h1v1h-1zM755 754h1v1h-1zM752 755h1v1h-1zM755 755h1v1h-1zM752 756h5v1h-5zM755 757h1v1h-1zM755 758h1v1h-1zM760 751h1v1h-1zM759 752h1v1h-1zM761 752h1v1h-1zM758 753h1v1h-1zM762 753h1v1h-1zM758 754h1v1h-1zM762 754h1v1h-1zM758 755h1v1h-1zM762 755h1v1h-1zM758 756h1v1h-1zM762 756h1v1h-1zM759 757h1v1h-1zM761 757h1v1h-1zM760 758h1v1h-1zM766 751h1v1h-1zM765 752h1v1h-1zM767 752h1v1h-1zM764 753h1v1h-1zM768 753h1v1h-1zM764 754h1v1h-1zM768 754h1v1h-1zM764 755h1v1h-1zM768 755h1v1h-1zM764 756h1v1h-1zM768 756h1v1h-1zM765 757h1v1h-1zM767 757h1v1h-1zM766 758h1v1h-1zM929 751h5v1h-5zM929 752h1v1h-1zM929 753h4v1h-4zM929 754h1v1h-1zM933 754h1v1h-1zM933 755h1v1h-1zM933 756h1v1h-1zM929 757h1v1h-1zM933 757h1v1h-1zM930 758h3v1h-3zM937 751h1v1h-1zM936 752h1v1h-1zM938 752h1v1h-1zM935 753h1v1h-1zM939 753h1v1h-1zM935 754h1v1h-1zM939 754h1v1h-1zM935 755h1v1h-1zM939 755h1v1h-1zM935 756h1v1h-1zM939 756h1v1h-1zM936 757h1v1h-1zM938 757h1v1h-1zM937 758h1v1h-1zM943 751h1v1h-1zM942 752h1v1h-1zM944 752h1v1h-1zM941 753h1v1h-1zM945 753h1v1h-1zM941 754h1v1h-1zM945 754h1v1h-1zM941 755h1v1h-1zM945 755h1v1h-1zM941 756h1v1h-1zM945 756h1v1h-1zM942 757h1v1h-1zM944 757h1v1h-1zM943 758h1v1h-1zM505 17h1v1h-1zM507 17h2v1h-2zM505 18h2v1h-2zM509 18h1v1h-1zM505 19h1v1h-1zM509 19h1v1h-1zM505 20h1v1h-1zM509 20h1v1h-1zM505 21h2v1h-2zM509 21h1v1h-1zM505 22h1v1h-1zM507 22h2v1h-2zM505 23h1v1h-1zM505 24h1v1h-1zM513 15h1v1h-1zM512 16h2v1h-2zM511 17h1v1h-1zM513 17h1v1h-1zM513 18h1v1h-1zM513 19h1v1h-1zM513 20h1v1h-1zM513 21h1v1h-1zM511 22h5v1h-5zM519 15h1v1h-1zM518 16h1v1h-1zM520 16h1v1h-1zM517 17h1v1h-1zM521 17h1v1h-1zM517 18h1v1h-1zM521 18h1v1h-1zM517 19h1v1h-1zM521 19h1v1h-1zM517 20h1v1h-1zM521 20h1v1h-1zM518 21h1v1h-1zM520 21h1v1h-1zM519 22h1v1h-1zM525 15h1v1h-1zM524 16h1v1h-1zM526 16h1v1h-1zM523 17h1v1h-1zM527 17h1v1h-1zM523 18h1v1h-1zM527 18h1v1h-1zM523 19h1v1h-1zM527 19h1v1h-1zM523 20h1v1h-1zM527 20h1v1h-1zM524 21h1v1h-1zM526 21h1v1h-1zM525 22h1v1h-1zM531 15h1v1h-1zM530 16h1v1h-1zM532 16h1v1h-1zM529 17h1v1h-1zM533 17h1v1h-1zM529 18h1v1h-1zM533 18h1v1h-1zM529 19h1v1h-1zM533 19h1v1h-1zM529 20h1v1h-1zM533 20h1v1h-1zM530 21h1v1h-1zM532 21h1v1h-1zM531 22h1v1h-1zM535 23h5v1h-5zM543 15h1v1h-1zM542 16h1v1h-1zM544 16h1v1h-1zM541 17h1v1h-1zM545 17h1v1h-1zM541 18h1v1h-1zM545 18h1v1h-1zM541 19h1v1h-1zM545 19h1v1h-1zM541 20h1v1h-1zM545 20h1v1h-1zM542 21h1v1h-1zM544 21h1v1h-1zM543 22h1v1h-1zM550 15h1v1h-1zM549 16h2v1h-2zM548 17h1v1h-1zM550 17h1v1h-1zM547 18h1v1h-1zM550 18h1v1h-1zM547 19h1v1h-1zM550 19h1v1h-1zM547 20h5v1h-5zM550 21h1v1h-1zM550 22h1v1h-1z"/>
<path fill="#ff0000" d="M962 51h32v1h-32z"/>
<path fill="#00c000" d="M962 64h32v1h-32z"/>
<path fill="#0080ff" d="M962 77h32v1h-32z"/>
<path fill="#c000ff" d="M962 90h32v1h-32z"/>
<path fill="#00eeee" d="M962 103h32v1h-32z"/>
<path fill="#c04000" d="M962 116h32v1h-32z"/>
<path fill="#eeee00" d="M962 129h32v1h-32z"/>
<path fill="#2020c0" d="M962 142h32v1h-32z"/>
<path fill="#ffc020" d="M962 155h32v1h-32z"/>
<polyline fill="none" stroke="#ff0000" stroke-width="1" points="55.5,484.5 57,486.5 58.5,489.5 60.5,485.5 62.5,483.5 65.5,480.5 68.5,483.5 70.5,483.5 73.5,483.5 75.5,479.5 77,474.5 77.5,466.5 78.9,457.5 79.5,449.5 80.1,445.5 80.8,420.5 82.5,367.5 85.1,420.5 86.5,424.5 87.5,437.5 88.25,426.5 88.9,420.5 90.75,366.5 92,330.5 93.25,315.5 94.5,306.5 95.75,301.5 97,319.5 98.25,310.5 98.9,300.5 100.1,280.5 101,263.5 102,253.5 103,237.5 103.9,222.5 105.7,212.5 105.9,204 106.7,203.5 106.9,193 107.7,192.5 107.9,185 108.7,184.5 108.9,181 109.7,180.5 109.9,171 110.7,170.5 110.9,160 111.7,159.5 111.9,154 112.7,153.5 112.8,150.5 113.4,160.5 113.6,161.5 113.9,183.5 114.6,184.5 114.9,212.5 115.5,246.5 116.8,276.5 117.5,286.5 118.5,320.5 118.9,340.5 119.5,357.5 120.1,367.5 122,392.5 123.9,426.5 123.9,431.5 125.1,446.5 126.5,454.5 128.5,458.5 129.5,460.5 131.5,465.5 133.9,470.5 137,469.5 138.25,471.5 140.1,478.5 141.5,475.5 143.25,467.5 145.1,459.5 147,450.5 148.25,442.5 151.5,439.5 153.25,440.5 155.5,436.5 156.5,436 158.4,433.2 160.7,432.2 162.1,429.5 163.9,426.5 164.9,430.5 167.7,435.1 170.5,441.5 172.4,450.1 174.3,457.5 176.2,465.1 177.6,473.5 179.5,470.2 180.9,475.5 182.3,492.2 183.2,518.1 184.1,551.5 184.9,577.5 186.5,568.5 187,552.5 188.4,524.5 189.3,502.1 189.8,500.2 190.2,484.7 191.2,472.5 192.1,468.8 194.9,461.3 196.8,460.5 199.1,456.5 200.5,457.5 202.4,451 204.3,443.5 205.7,450.1 207.6,440.7 208,428.5 208.5,422.1 209.5,384.5 210.4,364 211,335.5 212,321.9 212.6,328 213.4,346.5 214.1,375.2 215.1,381.8 215.1,405.2 216.5,428.5 217.9,443.5 220.2,448.2 222.1,453.8 223.5,448.7 225.9,448.2 228.7,441.6 231.5,439.7 233.4,435.1 234.8,429.9 238,432.2 239.9,433.2 242.3,430.8 243.2,433.7 245.1,430.4 246.5,423.5 249.3,422.1 251.5,421.1 254.6,417.4 257.8,413.6 260.9,418.6 263.4,416.8 265.3,410.5 267.1,402.4 269,403 271.5,405.5 274.6,409.3 277.1,408.6 279.6,400.5 282.1,401.1 284,394.3 284.6,390.5 286.5,369 289,340.3 291.5,319 293,310.3 294.6,312.8 295.9,334 297.8,369 299.6,386.8 301.5,394.9 304,392.4 306,393 308.4,392.4 310.3,398 312.8,391.8 314.6,386.1 317.1,362.8 319.6,339 320.9,312.8 322.1,280.5 322.8,254.5 323.4,290.5 324.6,329 325.9,392.5 325.9,396.1 328.4,395.5 330.3,399.3 334,404.9 335.3,404.3 336.5,393.6 338.4,398 340.3,407.4 342.1,413 344,412.4 346.5,405.5 349,403.6 352.8,406.8 354,414.3 355.3,428 356.5,440.5 357.8,455.5 359,468 359.9,480.5 360.5,490.5 360.8,503 361.8,504.3 362.4,508 363,509.9 363.9,508.6 365.2,509.9 366.4,512.1 367.1,516.8 368,520.5 369.3,518 371.8,520.5 373.9,524.9 375.2,518.6 376.1,509.9 376.8,502.4 377.7,498.6 378.9,495.8 379.9,498.6 380.8,501.8 381.8,500.5 383,499.9 383.6,506.1 384.6,514.3 385.5,520.5 386.4,521.8 388,522.1 389.6,524.3 390.8,534 391.1,519.3 392.1,491.8 393,477.5 393.6,491.8 394.25,519.3 395.1,535.3 396.4,542.8 398.9,547.8 402,553.4 405.1,555.3 407,560.3 408.9,565.9 410.8,566.5 412,562.5 413.9,555.9 416.4,556.5 419.5,564 422,563.4 424.5,564.6 428.3,564.6 430.1,560.9 432,566.5 434.5,574 437.6,569 440.8,569.6 443.3,569 445.8,569.6 447.6,567.8 448.9,555.9 450.1,561.5 451.4,569 453.3,575.9 457,575.9 460.1,579.6 462,575.3 463.9,570.9 464.5,579 466.4,587.8 468.9,589.6 470.8,587.8 472.6,592.1 475.8,592.8 478.9,590.3 483.3,595.3 487,596.5 490.1,599.6 494.5,599 496.4,595.9 498.9,599.6 501.4,604 502.5,604 503.8,603.5 505.6,597.1 510.6,600.9 515.6,600.9 520,593.4 522.5,597.1 524.4,599.6 526.9,604.6 529.4,597.8 531.9,599 535,603.4 538.1,608.4 538.8,604 540.6,606.5 543.1,610.9 545.6,602.8 546.5,598.5 547.9,586.5 548.8,592.5 550,600.3 551.9,600.9 553.1,597.8 556.3,596.5 558.8,599.6 561.9,600.3 564.4,604.6 566.3,605.9 568.8,594 572.5,595.9 575,599.6 577.5,587.8 579.4,590.3 582.5,585.9 585,589 587.5,590.3 589.4,592.8 590.6,584.6 591.3,568.4 591.9,560.9 592.5,569 593.1,583.4 594.4,590.9 596.9,593.4 599,592.1 601.3,587.1 603.1,589.6 605.6,597.1 609.4,599.6 612.5,594.6 616.3,598.4 618.8,594 621.3,602.8 623.1,604.6 626.3,599.6 628.8,597.1 630.5,597.1 632.4,596.5 633.6,585.5 635.5,578.6 638,583.6 639.9,593.6 643,589.3 646.8,586.8 649.3,588 651.8,584.3 655.5,582.4 658,575.5 660.5,569.9 663,570.5 664,575.5 665.5,569.9 668,566.1 669.9,559.9 673,561.8 676.8,559.9 679.3,563 681.8,559.9 684.9,563 686.8,568 690.5,558.6 693,561.8 695.5,554.3 698,544.3 699.9,536.8 701.1,544.9 704.3,548 708,559.9 710.5,548 713,534.3 714.9,524.3 716.8,523.6 718.6,524.9 721.1,521.1 723.6,526.8 726.8,524.9 729.3,521.1 730,513 730.9,505.8 731.9,501.8 732.8,496.8 734.1,493 735,490.8 735.9,493.6 736.9,494.9 737.5,501.1 738.1,506.8 739.4,509.3 740.3,510.5 741.9,509.9 743.4,512.4 745,512.4 746.6,515.5 748.1,518.5 750,513.6 751.6,511.8 753.1,510.8 755.6,514.9 757.5,518 758.8,515.5 760,514.9 761.9,513 763.1,509.9 764.1,505.5 765,500.5 765.9,498.9 767.8,501.1 769.1,499.6 770.3,499.9 771.6,497.4 773.2,495.9 775.2,497.5 776.4,501.8 777.5,507.2 778.7,513.1 780.7,514.6 782.2,511.5 785,510 786.1,508.8 787.3,513.1 788.9,515.8 790.8,514.6 792,509.6 793,504.9 793.9,513.1 794.7,515.8 795.9,513.1 797.8,513.1 799.8,515.8 802.1,515.4 802.9,511.1 804.1,502.5 805.3,498.6 806.8,495.1 808,497.8 810,501.8 811.1,504.1 811.9,501.4 814.3,501.8 817.8,501.8 818.9,502.9 820.9,500.6 822.5,497.5 824.4,497.8 826,495.5 827.1,486.9 828.3,483 829.9,478.3 831,476.8 833,474.8 834.2,472.8 835.4,468.4 837.3,465.9 838.5,459.6 839.8,454 841.6,453.4 844.8,449 847.9,444 850.4,437.8 852.3,429 854.8,424 857.3,420.9 860.4,417.8 862.9,412.8 865.4,407.8 868.5,401.5 869.1,395.3 870.4,386.5 871.6,381.5 872.9,376.5 873.5,373.5 876.6,363.6 878.5,358.6 881,351.8 883.5,343 886,343 889.8,347.4 892.3,338 894.1,324.3 896,313 897.9,299.3 899.1,290.5 899.8,288 901.6,280.5 903.5,273 904.8,268 906,264.3 909.1,258.6 911,254.9 912.9,253 914.8,238 916.6,219.3 917.3,205.5 918.5,189.3 919.1,170.5 919.8,149.3 920.8,140.5 921.5,136.5 922.3,134.5 923.5,133 924.7,131.5 926.8,131.5 927.2,133 928.1,135 929,137 929.8,148 931,158 932.3,164.3 933.5,169.9 935.4,166.8 937.3,168.6 939.1,168.6 941,171.8 943.5,169.3 946,164.9 948.5,167.4 950.4,169.9 952.3,168.6 954.8,174.3 956.6,165.5 957.9,161.8 959.8,166.8 962.3,176.8 964.8,188 966.6,195.5 969.8,194.9 971.6,193 974.1,186.8 976,193 977.3,200.5 978.8,217.8 981.3,227.8 983.8,240.3 986.9,250.9 988.8,245.3 990.6,230.3 992.5,217.8 994.4,205.3 995.6,204.6 996.9,206.5 997.5,219 998.8,242.8 999.4,272.8 999.7,281.5 999.9,376.5 1001.1,395.3 1002.3,424 1003.5,436.5 1004.8,451.5"/>
<polyline fill="none" stroke="#00c000" stroke-width="1" points="56.26,392.48 58.02,393.15 59.79,390.32 61.55,389.17 63.31,391.65 65.07,392.45 66.83,392.13 68.6,390.92 70.36,391.39 72.12,391.86 73.88,391.82 75.64,390.47 77.41,390.77 79.17,391.09 80.93,392.13 82.69,393.51 84.45,393.79 86.22,392.47 87.98,391.61 89.74,390.94 91.5,389.98 93.26,389.66 95.03,391.09 96.79,391.29 98.55,391.31 100.31,393.08 102.07,392.65 103.84,392.23 105.6,391.24 107.36,390.1 109.12,390.75 110.88,390.59 112.65,391.51 114.41,393.61 116.17,393.28 117.93,391.23 119.69,392.8 121.46,393.52 123.22,393.18 124.98,393.64 126.74,393.43 128.5,393.31 130.27,391.95 132.03,393.33 133.79,394.17 135.55,391.58 137.31,392.32 139.08,393.05 140.84,392.19 142.6,392.04 144.36,392.01 146.12,393.35 147.89,392.61 149.65,393.06 151.41,392 153.17,392.99 154.93,393.79 156.7,392.39 158.46,392.08 160.22,393.35 161.98,393.21 163.74,392.15 165.51,390.94 167.27,390.87 169.03,392.2 170.79,391.02 172.55,392.6 174.32,391.61 176.08,392.73 177.84,391.71 179.6,392.9 181.36,393.01 183.13,391.98 184.89,391.72 186.65,392.15 188.41,392.12 190.17,391.13 191.94,390.38 193.7,391.19 195.46,392.96 197.22,392.55 198.98,390.33 200.75,391.91 202.51,392.66 204.27,393.09 206.03,391.04 207.79,391.77 209.56,390.35 211.32,391.25 213.08,390.87 214.84,390.16 216.6,392.15 218.37,390.6 220.13,390.81 221.89,392.45 223.65,390.96 225.41,389.96 227.18,392.03 228.94,391.52 230.7,391.78 232.46,389.99 234.22,390.05 235.99,389.9 237.75,391.21 239.51,390.02 241.27,391.95 243.03,390.21 244.8,391.11 246.56,389.84 248.32,389.55 250.08,391.66 251.84,390.34 253.61,389.46 255.37,391.1 257.13,390.83 258.89,389.27 260.65,391.78 262.42,390.44 264.18,388.84 265.94,389.64 267.7,390.93 269.46,391.7 271.23,389.85 272.99,389.64 274.75,388.96 276.51,389.83 278.27,391.43 280.04,391.78 281.8,392.24 283.56,391.98 285.32,392.09 287.08,391.72 288.85,390.73 290.61,389.58 292.37,390.6 294.13,390.1 295.89,388.89 297.66,389.67 299.42,391.51 301.18,389.71 302.94,390.08 304.7,390.1 306.47,390.19 308.23,389.16 309.99,391.21 311.75,390.13 313.51,390.2 315.28,390.09 317.04,388.51 318.8,389.64 320.56,389.06 322.32,388.17 324.09,387.95 325.85,388.3 327.61,388.25 329.37,389.86 331.13,390.22 332.9,391.56 334.66,392.09 336.42,392.21 338.18,389.86 339.94,389.44 341.71,389.12 343.47,389.93 345.23,390.53 346.99,391.14 348.75,391.1 350.52,389.52 352.28,389.4 354.04,389.97 355.8,388.45 357.56,387.8 359.33,389.04 361.09,388.62 362.85,390.16 364.61,389.49 366.37,388.35 368.14,388.41 369.9,388.68 371.66,388.71 373.42,389.66 375.18,389.92 376.95,389.34 378.71,390.18 380.47,389.28 382.23,390.89 383.99,392.07 385.76,391.4 387.52,390.12 389.28,389.94 391.04,390.28 392.8,388.68 394.57,389.09 396.33,389.96 398.09,389.02 399.85,388.24 401.61,390.38 403.38,390.01 405.14,389.87 406.9,391.38 408.66,390.96 410.42,389.49 412.19,391.24 413.95,390.29 415.71,388.28 417.47,389.9 419.23,388.99 421,388.8 422.76,390.81 424.52,391.04 426.28,388.7 428.04,389.15 429.81,389.64 431.57,389.83 433.33,389.05 435.09,389.86 436.85,388.76 438.62,388.7 440.38,389.28 442.14,391.21 443.9,389.27 445.66,390.21 447.43,389.38 449.19,389.79 450.95,389.76 452.71,389.72 454.47,390.75 456.24,390.02 458,388.63 459.76,388.23 461.52,388.1 463.28,390.5 465.05,390.94 466.81,391.65 468.57,391.25 470.33,388.73 472.09,389.8 473.86,391.09 475.62,391.08 477.38,390.28 479.14,389.5 480.9,389.62 482.67,390.85 484.43,389.65 486.19,389.7 487.95,389.92 489.71,391.37 491.48,391.57 493.24,391.76 495,391.64 496.76,389.77 498.52,388.78 500.29,389.51 502.05,389.15 503.81,389.35 505.57,390.4 507.33,391.52 509.1,390.8 510.86,391.06 512.62,389.08 514.38,388.87 516.14,391.3 517.91,389.5 519.67,389.13 521.43,388.4 523.19,387.96 524.95,390.57 526.72,392.03 528.48,391.07 530.24,388.92 532,388.7 533.76,388.74 535.53,390.05 537.29,390.71 539.05,389.95 540.81,389.87 542.57,388.67 544.34,389.45 546.1,391.37 547.86,391.34 549.62,388.94 551.38,389.34 553.15,390.58 554.91,389.39 556.67,390.77 558.43,390.3 560.19,390.45 561.96,389.84 563.72,391.3 565.48,391.46 567.24,390.49 569,388.81 570.77,389.14 572.53,388.25 574.29,389.46 576.05,391.19 577.81,389.36 579.58,389.4 581.34,389.78 583.1,389.49 584.86,390.36 586.62,391.52 588.39,391.1 590.15,390.02 591.91,391.25 593.67,389.93 595.43,390.35 597.2,390.67 598.96,390.87 600.72,391.3 602.48,389.43 604.24,389.8 606.01,389.67 607.77,390.21 609.53,391.59 611.29,390.94 613.05,388.46 614.82,389.01 616.58,390.46 618.34,391.37 620.1,390.87 621.86,391.07 623.63,388.76 625.39,390.57 627.15,391.23 628.91,390.53 630.67,391.31 632.44,391.68 634.2,389.14 635.96,390.31 637.72,391.18 639.48,389.3 641.25,390.23 643.01,390.51 644.77,389.03 646.53,390.42 648.29,389.17 650.06,389.74 651.82,389.85 653.58,389.02 655.34,389.77 657.1,389.9 658.87,388.93 660.63,390.99 662.39,389.23 664.15,387.72 665.91,389.17 667.68,390.99 669.44,390.93 671.2,390.98 672.96,390.26 674.72,390.49 676.49,389.68 678.25,388.97 680.01,389.63 681.77,388.45 683.53,387.94 685.3,390.18 687.06,389.29 688.82,390.31 690.58,391.25 692.34,390.09 694.11,390.41 695.87,391.16 697.63,391.57 699.39,389.35 701.15,388.39 702.92,389.14 704.68,389.72 706.44,389.29 708.2,388.14 709.96,389.48 711.73,391.58 713.49,390.25 715.25,389.93 717.01,389.68 718.77,389.65 720.54,391.1 722.3,389.92 724.06,390.2 725.82,390.16 727.58,390.1 729.35,391.38 731.11,389.24 732.87,390.43 734.63,389.84 736.39,390.19 738.16,391.16 739.92,390.92 741.68,389.88 743.44,390.94 745.2,389.19 746.97,389.84 748.73,389.84 750.49,389.94 752.25,391.17 754.01,391.46 755.78,390.84 757.54,389.57 759.3,388.87 761.06,389.48 762.82,389.08 764.59,388.9 766.35,391.14 768.11,389.42 769.87,390.46 771.63,390.07 773.4,389.39 775.16,389.22 776.92,388.39 778.68,389.26 780.44,388.87 782.21,389.33 783.97,389.25 785.73,390.96 787.49,391.92 789.25,390.42 791.02,390.36 792.78,391.58 794.54,390.06 796.3,388.47 798.06,388.58 799.83,388.63 801.59,390.12 803.35,389.85 805.11,389.36 806.87,390.74 808.64,389.57 810.4,390.6 812.16,390.87 813.92,389.87 815.68,390.89 817.45,389.96 819.21,390.98 820.97,391.91 822.73,390.62 824.49,390.61 826.26,391.71 828.02,391.42 829.78,391.15 831.54,391.54 833.3,391.93 835.07,391.44 836.83,391.9 838.59,390.02 840.35,390.09 842.11,390.72 843.88,389.82 845.64,389.47 847.4,388.81 849.16,391 850.92,390.19 852.69,389.71 854.45,391.23 856.21,389.56 857.97,391.02 859.73,389.47 861.5,387.95 863.26,388.84 865.02,389.33 866.78,391.13 868.54,391.83 870.31,391.39 872.07,390.17 873.83,390.05 875.59,389.22 877.35,390.69 879.12,390.13 880.88,389.15 882.64,390.14 884.4,389.1 886.16,388.93 887.93,391.13 889.69,389.35 891.45,388.32 893.21,388.59 894.97,388.84 896.74,389.45 898.5,389.16 900.26,389.22 902.02,389.05 903.78,388.9 905.55,390.08 907.31,389.74 909.07,389.47 910.83,390.8 912.59,389.11 914.36,388.37 916.12,390.75 917.88,390.43 919.64,390.95 921.4,389.39 923.17,389.72 924.93,391.32 926.69,390.16 928.45,390.82 930.21,390.94 931.98,390.03 933.74,391.65 935.5,390.59 937.26,389.99 939.02,390.58 940.79,389.83 942.55,391.06 944.31,391.05 946.07,390.68 947.83,390.52 949.6,391.88 951.36,392.55 953.12,392.09 954.88,390.64 956.64,389.96 958.41,390.26 960.17,388.9 961.93,388.42 963.69,391.35 965.45,389.86 967.22,391.21 968.98,391.56 970.74,391.95 972.5,389.61 974.26,389.15 976.03,391.06 977.79,389.25 979.55,388.43 981.31,389.36 983.07,389.15 984.84,388.82 986.6,390.46 988.36,389.37 990.12,391.36 991.88,391.6 993.65,389.23 995.41,391.09 997.17,390.21 998.93,390.04 1000.69,390.64 1002.46,389.42 1004.22,389.98"/>
<polyline fill="none" stroke="#0080ff" stroke-width="1" points="56.26,366.98 58.02,367.37 59.79,367.3 61.55,367.62 63.31,367.89 65.07,366.79 66.83,366.19 68.6,367.81 70.36,367.4 72.12,366.84 73.88,368.35 75.64,367.99 77.41,368.26 79.17,367.88 80.93,367.89 82.69,367.07 84.45,367.61 86.22,368.52 87.98,368.05 89.74,368.18 91.5,368.25 93.26,366.98 95.03,367.83 96.79,368.13 98.55,367.41 100.31,366.62 102.07,368.05 103.84,368.03 105.6,368.18 107.36,368.73 109.12,368.55 110.88,368.83 112.65,367.97 114.41,368.32 116.17,367.98 117.93,368.65 119.69,368.99 121.46,367.38 123.22,366.77 124.98,366.97 126.74,368.55 128.5,368.18 130.27,368.09 132.03,367.62 133.79,367.75 135.55,367.7 137.31,367.53 139.08,367.98 140.84,368.19 142.6,368.84 144.36,368.7 146.12,369 147.89,369.09 149.65,369.3 151.41,368.77 153.17,367.44 154.93,368.35 156.7,369.16 158.46,369.11 160.22,368.36 161.98,368.32 163.74,367.42 165.51,368.18 167.27,368.19 169.03,367.36 170.79,366.63 172.55,367.98 174.32,368.94 176.08,367.23 177.84,367.82 179.6,367.65 181.36,366.76 183.13,366.78 184.89,367.84 186.65,368.45 188.41,366.86 190.17,367.22 191.94,366.57 193.7,367.38 195.46,367.18 197.22,367.91 198.98,368.58 200.75,367.69 202.51,368.22 204.27,367.26 206.03,366.15 207.79,366.96 209.56,366.27 211.32,366.06 213.08,366.6 214.84,367.17 216.6,366.42 218.37,365.76 220.13,367.28 221.89,366.89 223.65,367.65 225.41,368.08 227.18,366.96 228.94,366.63 230.7,366.8 232.46,367.08 234.22,367.06 235.99,366.92 237.75,366.98 239.51,367.65 241.27,367.05 243.03,366.48 244.8,366.96 246.56,366.23 248.32,365.9 250.08,367.28 251.84,366.98 253.61,366.63 255.37,365.59 257.13,365.92 258.89,366.62 260.65,365.65 262.42,366.35 264.18,366.93 265.94,365.8 267.7,366.43 269.46,366.63 271.23,366.91 272.99,366.46 274.75,366.88 276.51,367.27 278.27,365.87 280.04,365.31 281.8,366.59 283.56,367.72 285.32,366.56 287.08,366.34 288.85,366.81 290.61,366.39 292.37,366.24 294.13,366.18 295.89,366.26 297.66,366.77 299.42,366.39 301.18,366.29 302.94,367.15 304.7,366.02 306.47,366.45 308.23,367.27 309.99,366.58 311.75,366.03 313.51,367.12 315.28,366.52 317.04,365.92 318.8,366.37 320.56,367.13 322.32,366.18 324.09,366.09 325.85,366.32 327.61,367.34 329.37,367.01 331.13,367.49 332.9,366.5 334.66,366.23 336.42,367.01 338.18,367.77 339.94,367.12 341.71,366.29 343.47,365.88 345.23,366.61 346.99,366.31 348.75,367.24 350.52,367.87 352.28,366.6 354.04,366.2 355.8,367.35 357.56,367.51 359.33,367.69 361.09,366.93 362.85,366.09 364.61,366.23 366.37,367.38 368.14,366.8 369.9,366.48 371.66,366.71 373.42,366.81 375.18,366.81 376.95,367.85 378.71,366.81 380.47,365.84 382.23,367.61 383.99,368.35 385.76,368.53 387.52,367.55 389.28,368.11 391.04,368.55 392.8,367.15 394.57,367.58 396.33,368.26 398.09,368.02 399.85,367.6 401.61,367.04 403.38,366.96 405.14,366.81 406.9,366.41 408.66,367.33 410.42,367.22 412.19,368.02 413.95,366.99 415.71,368.04 417.47,368.42 419.23,368.72 421,368.9 422.76,368.9 424.52,368.29 426.28,366.89 428.04,367.87 429.81,367.41 431.57,367.18 433.33,368.04 435.09,368.12 436.85,367.8 438.62,368.77 440.38,368.62 442.14,367.82 443.9,367.45 445.66,368.63 447.43,368.45 449.19,368.76 450.95,368.22 452.71,367.57 454.47,368.15 456.24,369.06 458,368.07 459.76,368.77 461.52,369.63 463.28,369.56 465.05,369.54 466.81,367.96 468.57,368.52 470.33,369.59 472.09,368.22 473.86,367.97 475.62,368.21 477.38,368.77 479.14,368.84 480.9,368.89 482.67,369.58 484.43,368.35 486.19,367.8 487.95,368.04 489.71,368.14 491.48,368.07 493.24,369.88 495,370.5 496.76,368.9 498.52,369.08 500.29,369.13 502.05,368.76 503.81,368.61 505.57,369 507.33,368.92 509.1,368.19 510.86,367.41 512.62,367.31 514.38,366.79 516.14,367.24 517.91,367.73 519.67,366.97 521.43,365.84 523.19,365.54 524.95,365.79 526.72,366.2 528.48,366.67 530.24,366.04 532,366.53 533.76,366.57 535.53,366.04 537.29,365.76 539.05,365.97 540.81,366.51 542.57,366.14 544.34,366.45 546.1,366.24 547.86,365.61 549.62,366.01 551.38,366.61 553.15,365.52 554.91,365.68 556.67,366.01 558.43,366.93 560.19,367.47 561.96,366.41 563.72,366.96 565.48,367.23 567.24,366.09 569,366.04 570.77,365.55 572.53,366.64 574.29,366.97 576.05,367.3 577.81,367.32 579.58,367 581.34,367.04 583.1,366.77 584.86,365.71 586.62,366.28 588.39,365.56 590.15,365.33 591.91,366.73 593.67,365.85 595.43,365.3 597.2,365.37 598.96,366.96 600.72,366.27 602.48,365.34 604.24,366.85 606.01,366.16 607.77,366.97 609.53,367.29 611.29,367.48 613.05,367.87 614.82,367.24 616.58,367.36 618.34,366.05 620.1,366.84 621.86,367 623.63,367.19 625.39,366.17 627.15,366.92 628.91,367.88 630.67,366.31 632.44,366.03 634.2,366.73 635.96,367.45 637.72,366.5 639.48,365.82 641.25,365.89 643.01,366.66 644.77,367.25 646.53,366.63 648.29,366.24 650.06,366.25 651.82,366.16 653.58,366.24 655.34,365.61 657.1,366.12 658.87,367.42 660.63,366.71 662.39,366.85 664.15,365.96 665.91,366.47 667.68,367.06 669.44,366.93 671.2,366.53 672.96,366.3 674.72,366.57 676.49,367.2 678.25,365.91 680.01,365.11 681.77,366.35 683.53,367.25 685.3,366.58 687.06,366.06 688.82,366.52 690.58,365.68 692.34,365.35 694.11,365.26 695.87,365.95 697.63,365.74 699.39,365.31 701.15,366.16 702.92,367.14 704.68,366.1 706.44,366.38 708.2,366.2 709.96,366.87 711.73,366.77 713.49,365.94 715.25,365.59 717.01,365.2 718.77,365.99 720.54,366.25 722.3,365.78 724.06,366.01 725.82,366.15 727.58,367.07 729.35,366.26 731.11,367.43 732.87,367.21 734.63,367.03 736.39,366.92 738.16,367.58 739.92,367.93 741.68,367.43 743.44,367.09 745.2,367.54 746.97,368.07 748.73,367.33 750.49,367.63 752.25,368.42 754.01,367.69 755.78,366.81 757.54,366.65 759.3,367.67 761.06,368.03 762.82,368.49 764.59,368.47 766.35,367.08 768.11,366.36 769.87,366.39 771.63,366.24 773.4,367.14 775.16,367.85 776.92,368.01 778.68,366.69 780.44,367.26 782.21,366.64 783.97,366.3 785.73,366.94 787.49,365.87 789.25,365.23 791.02,366.66 792.78,366.17 794.54,365.75 796.3,366.19 798.06,366.51 799.83,365.2 801.59,365.18 803.35,365.62 805.11,365.74 806.87,365.17 808.64,365.6 810.4,366.62 812.16,365.75 813.92,365.49 815.68,364.71 817.45,364.57 819.21,365.43 820.97,364.61 822.73,365.59 824.49,366.27 826.26,364.6 828.02,365.49 829.78,365.05 831.54,365.27 833.3,365.53 835.07,364.53 836.83,364.81 838.59,365.04 840.35,365.26 842.11,364.39 843.88,364.97 845.64,365.91 847.4,365.61 849.16,365.16 850.92,364.28 852.69,364.75 854.45,364.9 856.21,365.59 857.97,365.93 859.73,365.76 861.5,364.97 863.26,365.64 865.02,366.12 866.78,365.29 868.54,366.39 870.31,366.65 872.07,365.46 873.83,366.69 875.59,365.93 877.35,365.68 879.12,366.72 880.88,366.9 882.64,366.75 884.4,366.94 886.16,366.69 887.93,366.27 889.69,365.91 891.45,365.62 893.21,366.86 894.97,367.57 896.74,367.22 898.5,367.47 900.26,366.93 902.02,366.44 903.78,366.64 905.55,367.77 907.31,366.59 909.07,366.81 910.83,366.76 912.59,367.61 914.36,367.3 916.12,366.92 917.88,367.09 919.64,367.47 921.4,368.1 923.17,367.52 924.93,368.17 926.69,367.19 928.45,366.89 930.21,366.74 931.98,366.65 933.74,368.04 935.5,368.58 937.26,367.49 939.02,367.06 940.79,367.55 942.55,368.36 944.31,368.76 946.07,368.65 947.83,368.24 949.6,367.17 951.36,367.23 953.12,367 954.88,367.45 956.64,367.79 958.41,367.05 960.17,366.78 961.93,367.84 963.69,366.78 965.45,367.61 967.22,368.44 968.98,368.59 970.74,367.47 972.5,367.26 974.26,367.43 976.03,367.52 977.79,368.21 979.55,367.9 981.31,366.82 983.07,367.56 984.84,367.27 986.6,367.12 988.36,367.44 990.12,366.06 991.88,366.91 993.65,367.34 995.41,366.86 997.17,366.73 998.93,366.59 1000.69,365.96 1002.46,366.35 1004.22,365.63"/>
<polyline fill="none" stroke="#c000ff" stroke-width="1" points="56.26,342.11 58.02,341.26 59.79,342.05 61.55,341.69 63.31,341.03 65.07,342.04 66.83,344.31 68.6,344.71 70.36,344.41 72.12,342.52 73.88,342.76 75.64,342.37 77.41,341.62 79.17,341.24 80.93,341.51 82.69,344.11 84.45,344.87 86.22,344.65 87.98,344.6 89.74,342.54 91.5,342.01 93.26,343.27 95.03,344.12 96.79,344.7 98.55,344.98 100.31,342.33 102.07,342.89 103.84,343.91 105.6,343.46 107.36,342.09 109.12,342.6 110.88,341.75 112.65,344.05 114.41,345.11 116.17,343.93 117.93,342.61 119.69,344.31 121.46,344.1 123.22,344.64 124.98,345.01 126.74,343.81 128.5,342.97 130.27,343.46 132.03,343.18 133.79,342.01 135.55,342.1 137.31,344.05 139.08,342.21 140.84,341.05 142.6,343.04 144.36,342.75 146.12,343.09 147.89,343.27 149.65,342.75 151.41,344.78 153.17,343.06 154.93,342.58 156.7,342.2 157.5,343.5 159.5,344.5 161,350.5 162,355.5 163.5,352.5 165.5,338.5 166.5,333.5 167.9,330.5 169.3,339.2 171.2,342.5 174,341.5 176.8,344.9 178.7,341.5 183.8,341.5 185.2,344.9 187.1,339.2 189,329.5 190.9,333.5 191.8,348.5 193.7,356.1 195.5,350.5 197.9,343.9 198.98,342.04 200.75,344.76 202.51,345.15 204.27,343.62 206.03,344.88 207.79,344.6 209.56,344.77 211.32,343.29 213.08,342.15 214.84,342.85 216.6,342.19 218.37,342.56 220.13,344.91 221.89,343.65 223.65,341.6 225.41,341.23 227.18,341.71 228.94,343.99 230.7,343.5 232.46,342.61 234.22,341.84 235.99,344.56 237.75,344.02 239.51,342.43 241.27,341.6 243.03,341.36 244.8,341.74 246.56,343.64 248.32,342.63 250.08,341.45 251.84,342.82 253.61,342.69 255.37,344.86 257.13,343.03 258.89,343.08 260.65,344.54 262.42,343.67 264.18,345.08 265.94,344.24 267.7,342.66 269.46,342.87 271.23,341.86 272.99,342.6 274.75,342.6 276.51,344.51 278.27,345.3 280.04,344.08 281.8,341.99 283.56,342.03 285.32,342.33 287.08,342.2 288.85,342.23 290.61,344.44 292.37,342.94 294.13,341.52 295.89,344.36 297.66,344.47 299.42,345.37 301.18,344.02 302.94,344.82 304.7,344.74 306.47,344.83 308.23,344.88 309.99,343.96 311.75,342.22 313.51,342.01 315.28,344.44 317.04,345.55 318.8,345.67 320.56,343.71 322.32,343.91 324.09,344.88 325.85,344.57 327.61,344.92 329.37,344.21 331.13,344.2 332.9,344.5 334.66,343.13 336.42,344.72 338.18,345.84 339.94,342.89 341.71,344.59 343.47,345.93 345.23,344.92 346.99,342.36 348.75,344.31 350.52,342.99 352.28,344.68 354.04,344.94 355.8,342.42 357.56,341.85 359.33,343.61 361.09,344.1 362.85,344.61 364.61,345.49 366.37,343.36 368.14,341.55 369.9,344.35 371.66,342.66 373.42,344.21 375.18,342.94 376.95,344.14 378.71,345.11 380.47,345.4 382.23,344.43 383.99,345.05 385.76,343.25 387.52,343.81 389.28,343.38 391.04,344.76 392.8,345.22 394.57,344.02 396.33,343.74 398.09,342.13 399.85,341.39 401.61,343.31 403.38,343.81 405.14,344.93 406.9,344.63 408.66,342.65 410.42,342.69 412.19,344.41 413.95,344.2 415.71,342.09 417.47,344.12 419.23,345.35 421,342.81 422.76,343.24 424.52,343.39 426.28,344.52 428.04,343.53 429.81,342.53 431.57,343.28 433.33,345.3 435.09,343.07 436.85,341.81 438.62,343.56 440.38,345.24 442.14,344.37 443.9,343.54 445.66,344.86 447.43,345.23 449.19,342.7 450.95,344.38 452.71,343.3 454.47,342.62 456.24,344.6 458,344.01 459.76,344.66 461.52,343.09 463.28,344.53 465.05,343.24 466.81,342.08 468.57,343.21 470.33,343.21 472.09,343.67 473.86,345.21 475.62,345.11 477.38,342.42 479.14,342.38 480.9,343.65 482.67,343.81 484.43,344.5 486.19,344.06 487.95,342.32 489.71,342.27 491.48,344.58 493.24,343.84 495,344.48 496.76,345.86 498.52,344.97 500.29,344.59 502.05,344.44 503.81,343.33 505.57,344.91 507.33,344.31 509.1,345.14 510.86,343.76 512.62,344.74 514.38,345.32 516.14,344.61 517.91,343.76 519.67,342.47 521.43,344.15 523.19,343.72 524.95,344.12 526.72,342.77 528.48,341.79 530.24,341.92 532,344.27 533.76,343.14 535.53,344.64 537.29,343.94 539.05,343.82 540.81,343.37 542.57,343.94 544.34,342.56 546.1,342.8 547.86,345.09 549.62,343.33 551.38,343.78 553.15,343.39 554.91,342.8 556.67,341.82 558.43,341.38 560.19,344.53 561.96,345.55 563.72,345.27 565.48,345.24 567.24,345.74 569,343.26 570.77,343.49 572.53,343.84 574.29,343.97 576.05,345.33 577.81,345.28 579.58,345.71 581.34,343.13 583.1,343.65 584.86,344.54 586.62,344.82 588.39,344.49 590.15,345.02 591.91,343.55 593.67,344.86 595.43,344.04 597.2,343.9 598.96,345.2 600.72,345 602.48,343.36 604.24,342.49 606.01,342.69 607.77,343.86 609.53,345.57 611.29,345.81 613.05,343.96 614.82,343.2 616.58,344.61 618.34,343.43 620.1,343.05 621.86,341.89 623.63,341.86 625.39,343.33 627.15,344.39 628.91,344.36 630.67,343.38 632.44,344.99 634.2,344.78 635.96,342.68 637.72,341.67 639.48,344.61 641.25,346.04 643.01,345.83 644.77,344.65 646.53,343.17 648.29,341.98 650.06,342.2 651.82,342.33 653.58,344.68 655.34,345.64 657.1,345.19 658.87,342.87 660.63,342.21 662.39,342.56 664.15,344.85 665.91,343.18 667.68,344.11 669.44,344.69 671.2,344.07 672.96,345.26 674.72,343.52 676.49,343.34 678.25,342.5 680.01,341.73 681.77,341.41 683.53,342.28 685.3,342.05 687.06,341.54 688.82,344.62 689.5,343.5 691.8,340.9 693.5,343.5 694.11,344.89 695.87,344.7 697.63,344.48 699.39,345.38 701.15,345.58 702.92,344.92 704.68,344.14 706.44,344.34 708.2,344.65 709.96,344.11 711.73,343.68 713.49,342.42 715.25,344.23 717.01,344.06 718.77,342.09 720.54,341.79 722.3,344.34 724.06,343.32 725.82,342.83 727.58,344.03 729.35,345.08 731.11,343.54 732.87,342.92 734.63,343.13 736.39,341.84 738.16,344.12 739.92,342.5 741.68,344.39 743.44,343.08 745.2,341.86 746.97,344.21 748.73,345.18 750.49,343.13 752.25,343.32 754.01,343.55 755.78,344.25 757.54,342.81 759.3,344.17 761.06,345.73 762.82,345 764.59,345.28 766.35,345.66 768.11,343.79 769.87,344.53 771.63,345.2 773.4,344.33 775.16,342.32 776.92,343.33 778.68,345.1 780.44,343.49 782.21,343.72 783.97,345.09 785.73,344.46 787.49,342.09 789.25,343.25 791.02,342.88 792.78,344.35 794.54,344.6 796.3,343.1 798.06,344.55 799.83,344.53 801.59,343.14 803.35,344.38 805.11,345.33 806.87,345.42 808.64,345.38 810.4,344.6 812.16,344.39 813.92,344.13 815.68,343.72 817.45,345.16 819.21,343.7 820.97,341.8 822.73,343.53 824.49,343.76 826.26,343.59 828.02,343.84 829.78,342.73 831.54,342.02 833.3,341.5 835.07,343.72 836.83,345.23 838.59,344.7 840.35,342.4 842.11,344.44 843.88,345.24 845.64,343.92 847.4,341.7 849.16,343.79 850.92,344.32 852.69,343.98 854.45,341.92 856.21,343.42 857.97,342.13 859.73,342.57 861.5,342.11 863.26,342.33 865.02,344.45 866.78,344.78 868.54,344.79 870.31,343.13 872.07,342.64 873.83,343.51 875.5,343.5 877.3,340.5 879.1,344.3 880.8,331.8 881.8,343.5 882.9,366.5 883.9,334.3 885.4,343 887.3,341.1 889,343.5 892.3,339.9 896,342.4 900.4,345.5 902,343.5 902.9,326.8 903.5,274.5 904.8,300.5 905.4,349.3 906.6,359.3 907.9,345.5 909.8,344.3 913.5,341.8 918.5,345.5 923.5,341.8 928.5,344.3 934.8,341.1 939.8,344.9 943.5,343 946.3,344.3 948.1,351.1 950,336.8 951.3,344.3 954.4,345.5 956.9,355.5 958.1,343 960,345.5 961.9,358.6 963.1,338 964.4,331.8 965.6,344.3 968.8,343 972.5,345.5 975,341.8 978.8,344.9 982.5,343 983.07,342.2 984.84,344.43 986.6,344.15 988.36,342.74 990.12,344.5 991.88,342.67 993.65,341.56 995.41,344.14 997.17,345.25 998.93,344.33 1000.69,344.92 1002.46,342.24 1004.22,343.7"/>
<polyline fill="none" stroke="#00eeee" stroke-width="1" points="55.5,481.5 57,481.5 58.25,488 60.1,486.5 62.5,484.5 65.5,481.5 67.5,482.5 70.5,488 73.25,486.1 75.5,487.5 78.25,489.5 80.1,488 81.5,479.5 82.5,478 85.5,482.5 88.25,488 91.5,489.5 95.5,492.5 97,489.5 102,486.5 104.5,488.5 108.25,485.5 110.1,488 111.5,486.1 114.5,490.5 117,493 119.5,493.5 122,489.5 123.9,494.5 126.4,494.25 127.5,498 129.5,519.5 130.75,529.5 131.5,520.5 132.5,500.5 133.25,495.5 134.5,498 135.5,504.5 137,503 140.5,506.5 144.5,510.5 147,506.5 149.5,503 153.5,500.5 157,503.5 160.5,501.1 162.6,505.5 164.9,506.8 167.3,511.5 169.6,512.9 172.4,516.2 174.8,519 176.7,525.6 178.1,536.8 179.5,535.5 181.8,531.2 182.3,538.7 183.2,551.8 184.1,568.5 184.2,590 184.9,629.5 185.6,647 186.7,657.5 187.7,647.5 188.4,630.1 189.1,607.5 190.1,579.5 190.7,568.5 191.2,554.6 192.1,540.5 194,533.1 195.9,529.3 197.7,526.5 199.1,532.6 200.5,530.5 202.9,528.4 204.8,519 206.2,524.5 207.6,534 208,527.5 209,516.2 209.9,515.2 210.4,492.2 210.9,458.5 211.8,456.5 212.3,428.5 212.7,404.3 214.1,428.5 215.1,453.8 216.5,488.5 217,513.4 217.9,531.2 218.8,541.5 221.2,550.9 222.1,556.5 224,560.2 226.8,558.8 230.5,560.2 232.4,565.9 236.2,564 238,565.9 240.8,563 244.9,562.7 245.9,556.1 246.8,553 249,555.5 251.8,558 253.7,558 255.9,555.8 258.1,555.8 259,554.9 260.9,557.1 262.1,561.8 263.1,564.5 264,563 265.9,558.6 267.1,556.1 269.9,558 271.5,554.3 273.7,550.2 274.6,549.9 276.8,553 279.6,549.9 281.2,550.8 284.3,550.8 285.9,548 286.5,544.9 287.1,539.9 289,535.8 290.9,535.8 292.5,537.1 294.3,535.8 298.1,535.8 300.3,533 303.4,526.8 307.8,526.8 312.8,524.9 315.3,519.3 317.8,511.8 322.8,506.1 325,507 329,505.5 332.8,502.4 335.3,499.3 337.8,493 339.8,494.3 342.8,503.6 345.9,496.8 349,495.5 350.5,493.6 352.7,495.8 353.9,492.1 356.8,490.8 359.9,489.9 362.1,487.4 365.5,486.8 367.1,485.5 368.3,480.5 369,478 370.9,475.5 372.5,476.8 374.5,479.3 378.3,476.5 382.6,470.5 387,469.9 390.8,469.9 393.3,466.8 395.1,466.8 397.6,463 400.1,466.1 403.9,464.9 407,466.1 411.4,469.3 414.5,466.1 418.3,466.8 420.8,470.5 423.9,465.5 427,461.8 433.3,461.8 437.6,456.1 440.8,454.9 443.3,458 447,455.5 449.5,459.3 452,454.3 455.1,451.1 458.3,454.9 463.3,456.1 467,454.3 470.8,454.3 473.3,459.9 477,451.8 481.4,446.8 485.1,452.4 487,449.9 492,448.6 497,444.9 499.5,446.8 502.5,446 505,445.5 508.1,448 512.5,446.8 515.6,441.1 518.8,441.8 522.5,443.6 525,444.3 527.5,448 530,444.3 534.4,444.9 536.3,448 538.8,443 540.6,446.8 543.1,452.4 545.6,448.6 548.1,449.3 551.3,454.3 553.1,460.5 555,467.4 557.5,466.8 560,461.8 563.1,468 566.3,468 568.8,464.9 572.5,463.6 575.6,467.4 578.1,463 581.3,461.8 583.8,468.6 586.3,471.8 588.8,473 591.3,462.4 594.4,463.6 597.5,461.8 601.3,460.5 605,458.6 608.1,457.4 610,460.5 613.1,451.1 616.3,451.8 620,452.4 623.8,455.5 626.9,460.5 630.5,458.6 633,458.6 636.1,446.8 638.5,448 642.4,459.3 648,459.3 653.5,458.5 656.1,458 659.9,452.4 663,449.3 664.9,450.5 668,446.1 670.5,446.8 673,451.8 675.5,444.3 678.6,434.9 681.8,433 683.6,428 687.4,431.8 689.9,435.5 693,438 696.1,429.3 699.9,421.1 702.4,431.8 705.5,440.5 708,453.6 710.5,444.3 713,430.5 716.1,421.1 718.6,419.9 721.1,423 723.6,428.6 726.1,431.8 729.3,421.8 731.8,414.3 734.3,405.5 736.1,403 737.4,407.4 739.3,425.5 741.8,431.1 744.3,428 747.4,429.3 749.9,426.8 752.4,421.8 755.5,423 758.5,429 762.9,421.5 765.4,411.5 767.3,403.4 769.8,405.9 772.3,405.3 774.8,406.5 777.3,410.3 779.8,414.6 781,414 782.9,402.1 785.4,394 787.3,390.9 789.1,401.5 792.3,402.1 794.8,405.9 797.9,400.9 800.4,405.3 802.3,410.9 804.8,400.3 806.6,391.5 809.1,398.4 812.3,407.8 815.4,404 818.5,404 821,412.1 824.1,412.8 826.6,408.4 830.4,402.8 833.5,407.8 836.6,412.8 838.5,407.8 842.3,402.8 846,402.8 851,409 854.8,400.9 858.5,397.8 861.6,392.8 863.5,397.1 866,394.6 868.5,395.9 871,393.4 874.8,390.3 877.3,394.6 880.4,399.6 883.5,400.9 887.9,405.9 890.4,412.1 892.9,419 896,413.4 900.4,407.1 905.4,400.9 908.5,402.8 911.6,405.9 914.1,397.8 917.3,390.3 920.5,390.3 925.4,393.4 927.3,396.5 929.1,406.5 931,417.8 932.3,421.5 934.1,414 936,408.4 938.5,405.9 942.3,403.4 944.8,401.5 947.9,400.3 951,399.6 953.5,402.1 954.1,392.8 956,387.8 957.9,377.8 959.8,386.5 961.6,395.9 963.5,399 965.4,397.1 968.5,400.9 970.4,395.9 972.3,390.9 974.8,387.8 978.5,389 981.6,389 984.1,392.8 986,396.5 988.5,400.3 992.3,399 995.4,397.1 997.3,403.4 999.8,414 1001.6,423.4 1003.5,429 1004.8,419"/>
<polyline fill="none" stroke="#c04000" stroke-width="1" points="56.26,388.83 58.02,389.29 59.79,388.39 61.55,387.36 63.31,386.36 65.07,387.89 66.83,388.2 68.6,388.78 70.36,388.08 72.12,388.72 73.88,387.84 75.64,388.7 77.41,389.18 79.17,388.22 80.93,388.18 82.69,388.75 84.45,387.58 86.22,387.98 87.98,389.15 89.74,387.97 91.5,388.81 93.26,389.17 95.03,389.48 96.79,388.27 98.55,386.96 100.31,388.65 102.07,389.56 103.84,388.58 105.6,387.15 107.36,387.01 109.12,388.38 110.88,387.98 112.65,389.41 114.41,389.24 116.17,387.71 117.93,388.5 119.69,388.26 121.46,389.51 123.22,390.18 124.98,389.05 126.74,391.41 128.5,395.24 130.27,396.87 132.03,398.74 133.79,397.56 135.55,398.45 137.31,397.19 139.08,394.31 140.84,392.39 142.6,390.04 144.36,390.93 146.12,390.25 147.89,387.98 149.65,388.3 151.41,387.69 153.17,386.94 154.93,387.62 156.7,387.04 158.46,386.82 160.22,388.77 161.98,389.14 163.74,387.03 165.51,388.33 167.27,387.18 169.03,387.13 170.79,389.15 172.55,389.09 174.32,387.87 176.08,387.7 177.84,387.84 179.6,387.14 181.36,389.27 183.13,387.74 184.89,387.6 186.65,388.99 188.41,388.45 190.17,389.66 191.94,388.35 193.7,389.5 195.46,390.2 197.22,391.19 198.98,393.29 200.75,394.09 202.51,396.12 204.27,397.82 206.03,397.65 207.79,396.29 209.56,395.91 211.32,391.26 213.08,387.11 214.84,388.2 216.6,387.33 218.37,387 220.13,387.75 221.89,386.06 223.65,386.76 225.41,389.94 227.18,393.11 228.94,392.61 230.7,391.37 232.46,389.36 234.22,388.52 235.99,386.88 237.75,386.5 239.51,388.05 241.27,387.92 243.03,386.66 244.8,386.83 246.56,387.14 248.32,386.24 250.08,386.51 251.84,386.64 253.61,387.98 255.37,387.29 257.13,387.66 258.89,388.99 260.65,389.28 262.42,387.72 264.18,387.7 265.94,387.23 267.7,387.13 269.46,387.51 271.23,388.51 272.99,389.33 274.75,387.74 276.51,386.16 278.27,387.08 280.04,386.57 281.8,386.04 283.56,388.12 285.32,387.24 287.08,388.78 288.85,390.53 290.61,393.72 292.37,396.85 294.13,392.76 295.89,390.02 297.66,390.36 299.42,390.36 301.18,389.38 302.94,390.13 304.7,390.65 306.47,389.76 308.23,389.27 309.99,388.19 311.75,388.43 313.51,388.14 315.28,389.19 317.04,389.72 318.8,388.38 320.56,389.13 322.32,388.23 324.09,387.56 325.85,389.06 327.61,389.21 329.37,390.18 331.13,389.95 332.9,389.79 334.66,388.25 336.42,389.48 338.18,388.25 339.94,388.79 341.71,390.26 343.47,390.6 345.23,390.53 346.99,389.25 348.75,389.35 350.52,389.91 352.28,388.18 354.04,389.59 355.8,390.49 357.56,389.11 359.33,389.45 361.09,388.92 362.85,388.01 364.61,388.99 366.37,387.7 368.14,388.92 369.9,390.33 371.66,388.59 373.42,389.53 375.18,387.94 376.95,389 378.71,388.34 380.47,389.51 382.23,388.85 383.99,389.53 385.76,387.64 387.52,386.65 389.28,388.74 391.04,389.14 392.8,388.6 394.57,387.05 396.33,386.78 398.09,387.49 399.85,386.83 401.61,389.04 403.38,389.56 405.14,389.77 406.9,389.29 408.66,387.95 410.42,386.73 412.19,388.21 413.95,387.28 415.71,387.7 417.47,387.99 419.23,387.95 421,386.79 422.76,386.23 424.52,387.46 426.28,386.63 428.04,387.38 429.81,386.93 431.57,386.8 433.33,386.58 435.09,387.56 436.85,387.56 438.62,386.85 440.38,386.62 442.14,387.55 443.9,388.93 445.66,387.97 447.43,386.62 449.19,386.7 450.95,386.66 452.71,387.47 454.47,388.47 456.24,388.11 458,386.74 459.76,386.63 461.52,387.71 463.28,389.27 465.05,390.55 466.81,393.36 468.57,393.39 470.33,393.67 472.09,394.48 473.86,394.85 475.62,395.71 477.38,395.21 479.14,395.81 480.9,397.03 482.67,395.16 484.43,395.43 486.19,394.74 487.95,392.02 489.71,390.05 491.48,390.52 493.24,388.75 495,389.61 496.76,388.65 498.52,388.63 500.29,388.02 502.05,389.03 503.81,390.36 505.57,389.09 507.33,389.34 509.1,390.76 510.86,389.45 512.62,389.16 514.38,390.09 516.14,390.8 517.91,389.03 519.67,389.53 521.43,388.64 523.19,387.94 524.95,390.36 526.72,388.85 528.48,390.11 530.24,390.73 532,390.31 533.76,390.36 535.53,390.21 537.29,389.09 539.05,389.07 540.81,388.59 542.57,390.13 544.34,390.73 546.1,390.66 547.86,389.06 549.62,389.4 551.38,388.93 553.15,390 554.91,390.55 556.67,391.19 558.43,390.71 560.19,390.28 561.96,390.51 563.72,388.71 565.48,389.26 567.24,388.31 569,388.54 570.77,388.26 572.53,390.27 574.29,388.74 576.05,390.08 577.81,391.28 579.58,389.88 581.34,390.35 583.1,388.66 584.86,387.93 586.62,387.67 588.39,387.67 590.15,387.56 591.91,389.79 593.67,388.76 595.43,389.23 597.2,388.98 598.96,388.18 600.72,388.81 602.48,388.51 604.24,390.44 606.01,389.78 607.77,389.62 609.53,389.8 611.29,389.94 613.05,389.61 614.82,388.83 616.58,388.19 618.34,390.13 620.1,389.13 621.86,388.97 623.63,390.3 625.39,390.1 627.15,390.85 628.91,390.93 630.67,389.93 632.44,388.45 634.2,389.28 635.96,389.54 637.72,390.48 639.48,390.04 641.25,390.95 643.01,393.54 644.77,394.79 646.53,397.42 648.29,398.05 650.06,396.04 651.82,397.24 653.58,398.06 655.34,397.96 657.1,396.19 658.87,394.42 660.63,393.1 662.39,392.73 664.15,395.36 665.91,395.7 667.68,395.18 669.44,396.67 671.2,396.47 672.96,396.16 674.72,395.71 676.49,394.79 678.25,391.11 680.01,390.54 681.77,390.08 683.53,391.83 685.3,392.5 687.06,391.4 688.82,392.09 690.58,391.31 692.34,391.36 694.11,390.75 695.87,389.92 697.63,391.41 699.39,391.66 701.15,391.54 702.92,394.28 704.68,396.31 706.44,396.43 708.2,392.51 709.96,392.15 711.73,393.06 713.49,395.29 715.25,394.28 717.01,390.86 718.77,390.45 720.54,389.62 722.3,390.56 724.06,393.23 725.82,393.35 727.58,396.75 729.35,395.53 731.11,392.31 732.87,391.26 734.63,389.99 736.39,390.34 738.16,390.95 739.92,389.1 741.68,388.18 743.44,389.43 745.2,390.62 746.97,390.56 748.73,389.61 750.49,388.28 752.25,389.24 754.01,389.42 755.78,390.18 757.54,389.96 759.3,390.11 761.06,390.97 762.82,390.29 764.59,390.65 766.35,389.21 768.11,387.63 769.87,389.74 771.63,388.46 773.4,390.07 775.16,389.77 776.92,387.97 778.68,388.06 780.44,389.57 782.21,389.18 783.97,389.42 785.73,388.25 787.49,389.63 789.25,389.25 791.02,389.94 792.78,388.59 794.54,389.17 796.3,389.26 798.06,388.82 799.83,387.65 801.59,388.59 803.35,390.08 805.11,388.4 806.87,388.42 808.64,387.63 810.4,389.82 812.16,390.98 813.92,390.12 815.68,389.19 817.45,387.78 819.21,387.4 820.97,389.08 822.73,390.06 824.49,390.71 826.26,390.58 828.02,389.23 829.78,388.17 831.54,388.73 833.3,388.53 835.07,388.83 836.83,390.02 838.59,389.23 840.35,390.16 842.11,390.08 843.88,387.85 845.64,388.96 847.4,389.59 849.16,389.36 850.92,387.57 852.69,389.23 854.45,389.25 856.21,388.87 857.97,387.88 859.73,387.03 861.5,386.79 863.26,387.3 865.02,387.8 866.78,387.49 868.54,387.02 870.31,388.77 872.07,389.53 873.83,389.99 875.59,388.34 877.35,388.93 879.12,389.18 880.88,387.59 882.64,389.14 884.4,388.67 886.16,387.53 887.93,387.29 889.69,389.36 891.45,388.31 893.21,387.87 894.97,388.52 896.74,388.19 898.5,388.77 900.26,387.54 902.02,387.84 903.78,388.77 905.55,389.12 907.31,389.2 909.07,388.3 910.83,388.97 912.59,390.43 914.36,389.54 916.12,391.43 917.88,394.16 919.64,393.87 921.4,394.27 923.17,396.51 924.93,395.73 926.69,395.44 928.45,395.65 930.21,397.53 931.98,397.26 933.74,397.88 935.5,396.48 937.26,396.08 939.02,397.47 940.79,397.17 942.55,397.67 944.31,397.62 946.07,396.17 947.83,395.67 949.6,396.58 951.36,397.21 953.12,396.28 954.88,396.02 956.64,395.34 958.41,395.7 960.17,396.11 961.93,396.33 963.69,396.96 965.45,397.89 967.22,397.79 968.98,397.63 970.74,396.33 972.5,396.3 974.26,397.16 976.03,398.04 977.79,396.91 979.55,395.95 981.31,396.26 983.07,398.1 984.84,400.18 986.6,398.72 988.36,399.44 990.12,399.71 991.88,400.02 993.65,400.27 995.41,397.96 997.17,398.75 998.93,397.64 1000.69,396.63 1002.46,397.26 1004.22,397.74"/>
<polyline fill="none" stroke="#eeee00" stroke-width="1" points="55.5,373.5 57,374.5 60.5,378.5 63.5,374.5 67,373 69.5,375.5 72.5,376.5 74.5,369.5 78.5,365.5 81.5,359.5 84.5,356.5 87.5,360.5 92,361.5 95.5,364.5 98.5,366.5 102,364.5 107,363 110.5,364.5 117,363 119.5,365.5 123.5,359.5 128.5,364.5 132,368.5 135.5,365.5 139.5,368 142,364.5 145.5,366.5 149.5,366.1 154.5,365.5 156.5,364.9 158.4,368.2 161.2,365.9 164.9,365.5 168.2,363.5 171.5,364.9 173.4,367.7 175.2,372.5 177.6,381.8 179,376.2 180.9,381.8 182.3,394.9 183.2,418.4 183.7,460.4 185.1,488.5 186.5,484.5 187.9,469.7 188.8,441.5 189.3,417.5 190.7,383.7 192.1,376.7 194.9,372.5 197.7,365.9 199.3,362.5 200.5,357.5 202.1,346.5 204.9,336 206.8,343 208.2,330.5 209.1,310.2 210.1,290.5 212.4,241.5 213.5,236.5 214.25,275.5 215.2,301.5 216.6,329.5 218,345.8 220.9,351.5 222.5,354.5 224,356.5 227.7,364 230.5,365.9 233.4,358.5 235.5,357.5 237.7,357.5 241.5,356.1 242.7,362.1 247.4,366.8 249.5,365.5 251.5,364 254,369.6 257.8,353.4 260.3,355.9 263.4,357.8 267.1,355.9 271.5,355.3 274.6,357.1 277.8,362.1 280.9,366.5 284,371.5 286.5,367.8 290.3,366.5 294,370.9 296.5,366.5 299.6,371.5 302.1,360.9 304.6,357.1 308.4,361.5 311.5,356.5 314.5,355.3 317.8,349 320.3,346.5 322.8,345.9 325.3,349 327.8,357.8 331.5,350.3 336.5,348.4 339,345.9 342.1,349.6 346.5,345.3 349,344.6 354,349.6 357.8,349 360.9,345.9 364,347.1 367.8,344.6 371.5,348.4 374.5,350.3 379.5,355.9 383.3,354 387,350.3 390.8,351.5 394.5,345.3 399.5,345.3 403.3,347.8 405.8,347.8 408.9,354 412,359 415.8,355.3 419.5,353.4 421.4,359 424.5,356.5 427.6,352.1 430.8,354.6 433.9,351.5 437,352.8 439.5,350.3 442,356.5 443.9,362.1 447,351.5 450.8,350.3 457,349.6 462,347.1 467,345.9 469.5,350.3 472,359 473.9,368.4 475.8,364 478.3,352.1 482,344.6 484.5,342.8 487,347.8 490.8,347.1 494.5,351.5 497,344.6 499.5,342.1 502.5,345.5 505,344.5 507.5,342.8 511.3,344 515.6,339.6 518.1,347.8 520,342.8 522.5,338.4 525,341.5 528.8,345.3 533.1,349 535.6,355.3 540,358.4 542.5,362.1 545,360.3 547.5,359.6 550,364.6 551.9,371.5 553.8,379 556.3,384 557.5,384.3 560,383.6 562.5,389 563.8,389.3 566.3,393 568.8,388 570.6,393 573.1,399.3 576.3,401.8 578.8,400.5 581.3,400.5 583.1,404.3 585.6,409.3 587.5,407.4 589.4,401.8 592.5,401.1 595,399.3 597.5,396.8 601.3,393.6 603.8,397.4 606.3,403 608.1,406.8 610.6,399.3 613.1,391.8 616.3,390.5 619.4,393.6 622.5,392.4 625.6,390.5 627.5,395.5 630.5,392.4 633,384 636.1,376.5 639.3,382.1 641.8,385.3 645.5,385.9 648,389 651.1,382.1 654.9,387.1 658.6,385.3 662.4,389 666.8,386.5 670.5,389 674.3,382.8 678,377.1 681.8,379.6 685.5,385.3 689.3,389 691.8,387.1 693.6,395.5 695.5,390.5 698,385.5 700.5,386.5 703,393 705.5,400.5 708,417.4 710.5,405.5 713,393 715.5,384.5 718.6,381.5 721.8,387.5 724.3,393 726.8,385.5 729.3,379 731.1,371.5 733,360.3 734.9,353.4 736.8,356.5 738,369 739.9,379 743,378.4 747.4,380.3 752.4,372.8 755.5,373.5 758.5,376.2 761,370.5 766,364.3 771,358 774.8,351.1 777.9,356.8 781,363 783.5,353 786,347.4 788.5,350.5 792.3,355.5 796,360.5 799.8,363 802.9,362.4 804.8,354.3 807.3,349.9 809.8,354.3 812.3,364.3 816,368 819.8,368.6 823.5,369.9 826.6,366.8 829.8,361.1 833.5,366.8 837.3,372.4 841,368 844.8,370.5 848.5,368.6 852.3,366.8 857.3,363 861,361.8 866,363 869.8,364.3 873.5,365.5 877.3,366.8 878.5,370.5 883.5,371.8 888.5,375.5 892.3,380.5 893.5,383.6 897.3,382.4 900.5,383.4 904.8,375.5 908.5,376.8 912.3,374.3 916,369.3 919.8,364.3 922.5,366.5 926,369.3 927.9,373 929.1,383 929.8,386.5 931.6,395.3 933.5,390.5 936,378 938.5,371.8 941,369.3 942.5,370.5 945,373 948.8,370.5 952.5,374.9 955,365.5 957.5,351.8 960,355.5 961.9,365.5 965.6,370.5 969.4,366.8 972.5,363 974.4,356.1 976.5,358.5 978.8,362.4 981.9,359.3 985,361.1 987.5,365.5 990.5,364.5 993.8,368 997.5,374.3 1000,376.8 1002.5,376.1 1005,374.3"/>
<polyline fill="none" stroke="#2020c0" stroke-width="1" points="55.5,365.5 57,366.5 59.5,371.5 63.5,368 66.5,373 68.5,371.5 70.5,374.5 74.5,368 79.5,365.5 81.5,358 84.5,355.5 87,360.5 90.5,363 95.5,364.5 97.5,359.5 103.5,356.5 107,359.5 110.5,358.5 115.1,353.5 118.5,357.5 120.5,355.5 125.1,353.5 129.5,359.5 134.5,361.1 139.5,368 142,364.5 145.5,363.5 148.5,356.5 152,353 154.5,355.5 158.5,350.5 161.5,354.5 164,356.5 166.8,358.5 169.6,356.5 172.9,356.5 175.2,360.2 177.1,365.9 179,374.3 181.3,370.5 182.3,378.1 183.7,395.5 184.6,471.5 186,488.5 187,496.9 187.9,480.5 188.4,467.9 189.3,443.5 189.8,428.5 190.2,414.5 191.2,389.3 192.1,377.1 194.9,372.9 197.7,366.8 199.3,362.5 200.5,360.2 202,356.5 204.5,341.5 206.3,344.9 207.7,351.5 208.7,344.5 209.6,333.5 210.5,309.2 210.75,275.5 211.75,234.5 213,211.5 214.25,234.5 215.5,260.5 216.75,293 217.5,315.5 219,341.1 221.8,348.5 223,356.5 224.6,362.5 225.9,364.9 227.7,361.2 229.6,364 231.5,358.4 234.3,356.5 234.9,355.2 237.7,361.5 239,363.1 242.7,368.7 246.5,366.2 249.3,364.9 250.3,367.1 254,364.6 255.9,360.3 257.8,355.9 260.3,359 262.8,366.5 265.9,357.8 269,357.8 272.8,350.9 275.3,354.6 279.6,354.6 282.8,350.9 286.5,347.1 289.6,340.9 292.8,343.4 294,344 301.5,344.6 304,347.1 306.5,345.3 310.3,349.6 312.8,344.6 316.5,339 319,337.8 321.5,333.4 323.4,337.1 324.6,342.8 327.8,340.9 330.3,344 334,344.6 336.5,338.4 339,339 341.5,344 344,345.9 346.5,343.4 349,336.5 350.9,332.8 352.8,335.3 356.5,334 359.6,332.1 362.8,327.1 364.6,331.5 366.5,328.4 369.6,327.1 372.1,329.6 374.5,329 377,332.8 380.1,326.5 385.8,320.9 388.9,324.6 390.8,331.5 392.6,327.1 395.1,329 399.5,325.9 402.6,327.8 405.8,328.4 408.3,336.5 410.8,344.6 413.9,339 417,335.9 420.1,337.8 424.5,337.8 428.9,335.9 434.5,338.4 438.3,335.9 440.8,332.8 443.9,340.3 447,335.3 450.8,330.9 452.6,333.4 455.8,329.6 460.8,331.5 464.5,330.9 469.5,332.8 472.6,337.8 475.8,333.4 478.9,332.8 481.4,338.4 485.8,335.3 487.6,340.9 492,337.1 495.8,342.1 499.5,344.6 502.5,345.5 506.3,340.3 510,338.4 513.8,335.3 518.1,333.4 521.3,337.1 524.4,330.3 526.9,333.4 530,327.8 532.5,332.8 536.3,332.8 539.4,335.3 544.4,333.4 548.1,322.1 550,324 553.1,329.6 555.6,326.5 558.1,327.1 560,330.9 562.5,338.4 564.5,338.4 566.9,330.9 570.6,327.8 573.1,332.8 575,329 578.8,325.9 581.9,329 584.4,333.4 588.8,333.4 590,325.3 592.5,327.1 596.3,329.6 598.8,327.8 602.5,327.1 605,331.5 608.1,337.1 610,336.5 613.1,327.1 615.6,332.1 618.8,331.5 622.5,330.9 626.3,334.6 630.5,331.5 634.3,320.9 638,319 641.1,325.9 644.9,320.9 647.4,324.6 653,319.6 657.4,323.4 661.1,318.4 663,321.5 667.4,317.8 670.5,318.4 673,327.1 676.8,319.6 679.9,324.6 683.6,324 686.8,332.8 689.3,333.4 693.6,339.6 698,332.8 701.1,333.4 704.9,342.1 706.8,349 708,359.6 709.3,358.5 711.1,349 713.6,339 716.1,332.1 719.3,329.6 722.4,335.3 724.9,337.8 727.4,334.6 730.5,334 733,324 734.9,314.6 736.8,309.6 738,317.8 739.3,326.5 741.1,334 742.4,339.6 744.9,345.3 747.4,340.3 750.5,334 752.4,330.3 754.9,331.5 756.8,335.9 758.5,340 761,338 764.8,329.3 769.8,329.9 772.3,326.1 774.8,319.3 777.3,326.8 780.4,325.5 782.9,305.5 786,298 788.5,306.8 791,318 794.1,328.6 797.3,326.8 799.8,326.1 801.6,328.6 804.1,313.6 806.6,309.9 809.1,316.8 811,327.4 812.9,335.5 814.8,336.8 817.3,344.3 819.8,349.9 821.6,356.8 824.8,363.6 826.6,358.6 829.1,355.5 831,359.3 833.5,366.8 837.3,370.5 840.4,362.4 842.3,366.8 845.4,373.6 848.5,371.8 853.5,365.5 857.3,359.9 860.4,359.9 863.5,363.6 866.6,364.3 869.1,370.5 871.6,363 874.1,358.6 876,360.5 877.3,364.3 878.5,368 881,368 883.5,366.8 886,369.3 889.1,370.5 890.4,380.3 891.6,380.5 893.5,370.5 896,366.1 899.1,369.3 901.6,360.5 903.5,354.3 904.8,365.5 906,375.5 907,335.5 907.9,370.5 909.1,346.8 910.2,358 911.3,346.8 912.9,353 914.8,348 916.6,351.8 919.8,353 921.6,354.9 923.5,353.6 925.4,358 926.6,354.3 927.9,368 929.1,385.5 929.8,392.8 931.6,407.8 932.9,394 934.1,376.8 936,365.5 938.5,359.9 940.4,365.5 942.3,375.5 943.8,383 945.6,375.5 947.5,360.5 949.4,350.5 950.6,339.3 953.1,331.8 955,320.5 956.9,306.8 958.1,303.6 960,316.8 962.5,330.5 964.4,331.1 969.4,327.4 972.5,321.8 975,322.4 978.1,318.6 980.6,321.8 983.1,325.5 985.6,328 988.1,326.1 990.6,323 993.8,319.9 996.3,325.5 998.8,330.5 1001.3,337.4 1005,336.1"/>
<polyline fill="none" stroke="#ffc020" stroke-width="1" points="55.5,343.5 57,343 61.5,338.5 63.5,339.5 65.5,334.5 68.5,338.5 70.5,335.5 74.5,339.5 77,338.5 79.5,333 82.5,323 85.5,325.5 88.5,332.5 91.5,331.5 94.5,334.5 97.5,338 102,336.1 105.5,334.5 108.5,338 112,331.5 117,328.5 119.5,331.5 122.5,330.5 124.5,332.5 127,329.5 129.5,336.5 132.5,331.5 136.5,331.5 138.5,335.5 140.5,331.5 144.5,330.5 148.5,323 152.5,318 154.5,318.5 157.5,322.5 162,311.1 164.5,314.5 166.5,315.5 170.25,310.5 172.5,314.5 176.3,331.5 178.2,325.2 179.5,321.5 181,329.5 181.5,362.5 183,420.5 184.5,440.5 186.3,428.5 187.4,394 188.4,365.9 189,362.5 189.5,354.5 190.9,353.5 191.8,330.5 194.5,320.5 196,315.5 197.9,314.5 200.2,317.5 202.5,310.2 204.9,305 207.7,312 208.7,299.5 209.5,290.5 210.8,255.5 211.8,206.5 213,186.5 214,194.5 214.9,233 216.1,260.5 217.75,281.5 218.1,296.5 218.5,299.5 220.5,304.5 223.7,313 228.4,307.5 232.1,308.5 237.7,304.5 240.5,309.5 242.9,323.3 246.5,313.9 249.6,324.6 252.8,316.5 258.4,309.6 262.1,318.4 265.9,324.6 268.4,315.9 272.8,310.3 275.3,314.6 279.6,320.3 283.4,313.4 287.8,309.6 290.9,310.9 292.8,316.5 297.1,320.3 301.5,325.9 304.6,318.4 307.8,316.5 309.5,318.5 312.8,319.6 316.5,317.1 319.6,314 322.1,315.9 325.3,327.1 327.1,325.9 332.8,325.9 335.3,328.4 339,310.3 342.8,315.9 346.5,316.5 349,319.6 351.5,329 354,318.4 357.8,317.1 362.1,320.9 368.4,313.4 371.5,320.3 374.5,322.5 378.9,324.6 380.8,329 382.6,340.3 385.8,344.6 389.5,347.8 392.5,346 395.8,345.3 397.6,353.4 400.8,351.5 404.5,350.3 407.6,352.8 410.8,359 412.6,365.3 414.5,357.8 418.3,355.3 420.8,352.1 424.5,354 428.3,350.3 431.4,352.8 434.5,351.5 438.3,350.3 440.8,353.4 443.3,357.8 446.4,354 449.5,356.5 453.3,352.8 457,352.1 462,353.4 465.8,356.5 469.5,352.8 473.3,356.5 475.8,351.5 479.5,350.3 483.3,345.3 485.8,344 489.5,351.5 492,355.3 493.9,366.5 495.8,360.3 498.3,356.5 502.5,359.5 505.6,359 508.8,367.8 511.9,369 515.6,367.8 518.1,372.8 520,367.8 522.5,367.5 526.3,362.1 529.4,364 532.5,366.5 535.6,364.6 538.8,362.8 540.6,369 543.8,360.3 546.3,355.9 548.1,357.8 550.6,364 553.8,361.5 558.8,356.5 561.9,360.9 566.9,352.8 568.8,354.6 573.1,352.1 577.5,353.4 580.6,355.3 583.1,359 585.6,357.8 590,347.8 593.1,346.5 595.6,344 597.5,347.8 600.6,344 603.1,345.3 604.4,351.5 606.3,361.5 608.8,359.6 611.3,347.8 613.8,346.5 617.5,344.6 620.6,346.5 625,345.9 630.5,345.5 633,337.8 636.1,332.1 638.6,337.8 641.1,343.4 644.5,344 646.8,343.4 649.9,345.3 652.5,343.5 655.5,345.3 658,334 661.1,325.3 663.6,329.6 666.8,331.5 669.9,337.8 673,344.6 674.9,344 677.4,334 679.9,332.8 683,333.4 684.9,337.8 685.5,345.9 688.6,349 693,354.6 695.5,349 698.6,344.6 700.5,349 703,359.6 706.1,364.6 708,372.8 710.5,364 713.6,354 716.8,353.4 719.3,347.1 721.1,352.1 724.3,362.1 727.4,355.9 729.9,351.5 731.1,336.5 733,325.3 736.1,320.9 738,324.6 740.5,334 742.4,332.8 744.3,330.3 746.8,330.3 749.9,332.8 752.4,329.6 754.9,330.9 758,340.3 758.5,339.3 762.3,330.5 765.4,328 767.3,314.3 768.5,311.8 770.4,305.5 771.6,293 772.9,280.5 774.1,260.5 774.8,243.6 776.6,238 779.8,236.8 782.3,228.6 784.1,224.9 786,236.8 787.9,219.9 789.1,229.3 790.4,233 791,239.9 792.9,223.6 794.8,226.8 796,248.6 798.5,245.5 801,241.8 802.3,246.8 802.9,225.5 804.1,236.8 804.8,246.1 807.3,236.1 811,239.9 813.5,253 816.6,255.5 817.9,259.3 819.1,241.8 820.4,265.5 822.3,248.6 824.8,264.3 827.3,264.3 831.6,256.8 832.9,266.8 836.6,267.4 839.8,275.5 842.3,271.8 845.4,266.1 846.6,272.4 849.1,275.5 852.3,271.8 854.8,266.8 855.4,285.5 856,303 857.9,306.8 858.5,293 859.1,283 860.4,264.3 861.6,240.5 862.3,229.3 862.9,231.8 866.6,229.3 868.5,223.6 872.3,216.8 874.1,224.9 876.6,224.9 878.5,223 881,231.8 883.5,229.9 886,229.3 887.3,238 889.1,250.5 891,258.6 892.9,253 897.3,256.8 900.4,252.4 903.5,243.6 906.6,250.5 908.5,243 910.4,249.9 912.9,251.1 914.8,255.5 918.5,254.3 922.3,261.8 924.8,268 926.6,275.5 928.5,286.8 929.8,310.5 932.3,303 934.1,295.5 935.4,279.3 936.6,272.4 940.4,267.4 941.5,269.3 942.9,276.8 944.1,288 945.4,296.8 948.1,309.3 952.5,311.1 955,298 957.5,284 959.4,298 963.8,309.3 967.5,303.6 971.3,306.1 974.4,303 978.8,310.5 982.5,323.6 984.4,315.5 986.3,298 988.5,287.5 991.3,298 993.8,312.4 996.9,309.9 999.4,312.4 1002.5,310.5 1005,312.4"/>
<path fill="#000" d="M921 48h2v1h-2zM922 49h1v1h-1zM922 50h1v1h-1zM922 51h1v1h-1zM922 52h1v1h-1zM922 53h1v1h-1zM922 54h1v1h-1zM921 55h3v1h-3zM928 48h1v1h-1zM927 50h2v1h-2zM928 51h1v1h-1zM928 52h1v1h-1zM928 53h1v1h-1zM928 54h1v1h-1zM927 55h3v1h-3zM932 50h1v1h-1zM934 50h2v1h-2zM932 51h2v1h-2zM936 51h1v1h-1zM932 52h1v1h-1zM936 52h1v1h-1zM932 53h1v1h-1zM936 53h1v1h-1zM932 54h1v1h-1zM936 54h1v1h-1zM932 55h1v1h-1zM936 55h1v1h-1zM939 50h3v1h-3zM938 51h1v1h-1zM942 51h1v1h-1zM938 52h5v1h-5zM938 53h1v1h-1zM938 54h1v1h-1zM939 55h3v1h-3zM952 48h1v1h-1zM951 49h2v1h-2zM950 50h1v1h-1zM952 50h1v1h-1zM952 51h1v1h-1zM952 52h1v1h-1zM952 53h1v1h-1zM952 54h1v1h-1zM950 55h5v1h-5zM921 61h2v1h-2zM922 62h1v1h-1zM922 63h1v1h-1zM922 64h1v1h-1zM922 65h1v1h-1zM922 66h1v1h-1zM922 67h1v1h-1zM921 68h3v1h-3zM928 61h1v1h-1zM927 63h2v1h-2zM928 64h1v1h-1zM928 65h1v1h-1zM928 66h1v1h-1zM928 67h1v1h-1zM927 68h3v1h-3zM932 63h1v1h-1zM934 63h2v1h-2zM932 64h2v1h-2zM936 64h1v1h-1zM932 65h1v1h-1zM936 65h1v1h-1zM932 66h1v1h-1zM936 66h1v1h-1zM932 67h1v1h-1zM936 67h1v1h-1zM932 68h1v1h-1zM936 68h1v1h-1zM939 63h3v1h-3zM938 64h1v1h-1zM942 64h1v1h-1zM938 65h5v1h-5zM938 66h1v1h-1zM938 67h1v1h-1zM939 68h3v1h-3zM951 61h3v1h-3zM950 62h1v1h-1zM954 62h1v1h-1zM954 63h1v1h-1zM953 64h1v1h-1zM952 65h1v1h-1zM951 66h1v1h-1zM950 67h1v1h-1zM950 68h5v1h-5zM921 74h2v1h-2zM922 75h1v1h-1zM922 76h1v1h-1zM922 77h1v1h-1zM922 78h1v1h-1zM922 79h1v1h-1zM922 80h1v1h-1zM921 81h3v1h-3zM928 74h1v1h-1zM927 76h2v1h-2zM928 77h1v1h-1zM928 78h1v1h-1zM928 79h1v1h-1zM928 80h1v1h-1zM927 81h3v1h-3zM932 76h1v1h-1zM934 76h2v1h-2zM932 77h2v1h-2zM936 77h1v1h-1zM932 78h1v1h-1zM936 78h1v1h-1zM932 79h1v1h-1zM936 79h1v1h-1zM932 80h1v1h-1zM936 80h1v1h-1zM932 81h1v1h-1zM936 81h1v1h-1zM939 76h3v1h-3zM938 77h1v1h-1zM942 77h1v1h-1zM938 78h5v1h-5zM938 79h1v1h-1zM938 80h1v1h-1zM939 81h3v1h-3zM951 74h3v1h-3zM950 75h1v1h-1zM954 75h1v1h-1zM954 76h1v1h-1zM952 77h2v1h-2zM954 78h1v1h-1zM954 79h1v1h-1zM950 80h1v1h-1zM954 80h1v1h-1zM951 81h3v1h-3zM921 87h2v1h-2zM922 88h1v1h-1zM922 89h1v1h-1zM922 90h1v1h-1zM922 91h1v1h-1zM922 92h1v1h-1zM922 93h1v1h-1zM921 94h3v1h-3zM928 87h1v1h-1zM927 89h2v1h-2zM928 90h1v1h-1zM928 91h1v1h-1zM928 92h1v1h-1zM928 93h1v1h-1zM927 94h3v1h-3zM932 89h1v1h-1zM934 89h2v1h-2zM932 90h2v1h-2zM936 90h1v1h-1zM932 91h1v1h-1zM936 91h1v1h-1zM932 92h1v1h-1zM936 92h1v1h-1zM932 93h1v1h-1zM936 93h1v1h-1zM932 94h1v1h-1zM936 94h1v1h-1zM939 89h3v1h-3zM938 90h1v1h-1zM942 90h1v1h-1zM938 91h5v1h-5zM938 92h1v1h-1zM938 93h1v1h-1zM939 94h3v1h-3zM953 87h1v1h-1zM952 88h2v1h-2zM951 89h1v1h-1zM953 89h1v1h-1zM950 90h1v1h-1zM953 90h1v1h-1zM950 91h1v1h-1zM953 91h1v1h-1zM950 92h5v1h-5zM953 93h1v1h-1zM953 94h1v1h-1zM921 100h2v1h-2zM922 101h1v1h-1zM922 102h1v1h-1zM922 103h1v1h-1zM922 104h1v1h-1zM922 105h1v1h-1zM922 106h1v1h-1zM921 107h3v1h-3zM928 100h1v1h-1zM927 102h2v1h-2zM928 103h1v1h-1zM928 104h1v1h-1zM928 105h1v1h-1zM928 106h1v1h-1zM927 107h3v1h-3zM932 102h1v1h-1zM934 102h2v1h-2zM932 103h2v1h-2zM936 103h1v1h-1zM932 104h1v1h-1zM936 104h1v1h-1zM932 105h1v1h-1zM936 105h1v1h-1zM932 106h1v1h-1zM936 106h1v1h-1zM932 107h1v1h-1zM936 107h1v1h-1zM939 102h3v1h-3zM938 103h1v1h-1zM942 103h1v1h-1zM938 104h5v1h-5zM938 105h1v1h-1zM938 106h1v1h-1zM939 107h3v1h-3zM950 100h5v1h-5zM950 101h1v1h-1zM950 102h4v1h-4zM950 103h1v1h-1zM954 103h1v1h-1zM954 104h1v1h-1zM954 105h1v1h-1zM950 106h1v1h-1zM954 106h1v1h-1zM951 107h3v1h-3zM921 113h2v1h-2zM922 114h1v1h-1zM922 115h1v1h-1zM922 116h1v1h-1zM922 117h1v1h-1zM922 118h1v1h-1zM922 119h1v1h-1zM921 120h3v1h-3zM928 113h1v1h-1zM927 115h2v1h-2zM928 116h1v1h-1zM928 117h1v1h-1zM928 118h1v1h-1zM928 119h1v1h-1zM927 120h3v1h-3zM932 115h1v1h-1zM934 115h2v1h-2zM932 116h2v1h-2zM936 116h1v1h-1zM932 117h1v1h-1zM936 117h1v1h-1zM932 118h1v1h-1zM936 118h1v1h-1zM932 119h1v1h-1zM936 119h1v1h-1zM932 120h1v1h-1zM936 120h1v1h-1zM939 115h3v1h-3zM938 116h1v1h-1zM942 116h1v1h-1zM938 117h5v1h-5zM938 118h1v1h-1zM938 119h1v1h-1zM939 120h3v1h-3zM952 113h3v1h-3zM951 114h1v1h-1zM950 115h1v1h-1zM950 116h4v1h-4zM950 117h1v1h-1zM954 117h1v1h-1zM950 118h1v1h-1zM954 118h1v1h-1zM950 119h1v1h-1zM954 119h1v1h-1zM951 120h3v1h-3zM921 126h2v1h-2zM922 127h1v1h-1zM922 128h1v1h-1zM922 129h1v1h-1zM922 130h1v1h-1zM922 131h1v1h-1zM922 132h1v1h-1zM921 133h3v1h-3zM928 126h1v1h-1zM927 128h2v1h-2zM928 129h1v1h-1zM928 130h1v1h-1zM928 131h1v1h-1zM928 132h1v1h-1zM927 133h3v1h-3zM932 128h1v1h-1zM934 128h2v1h-2zM932 129h2v1h-2zM936 129h1v1h-1zM932 130h1v1h-1zM936 130h1v1h-1zM932 131h1v1h-1zM936 131h1v1h-1zM932 132h1v1h-1zM936 132h1v1h-1zM932 133h1v1h-1zM936 133h1v1h-1zM939 128h3v1h-3zM938 129h1v1h-1zM942 129h1v1h-1zM938 130h5v1h-5zM938 131h1v1h-1zM938 132h1v1h-1zM939 133h3v1h-3zM950 126h5v1h-5zM954 127h1v1h-1zM953 128h1v1h-1zM953 129h1v1h-1zM952 130h1v1h-1zM952 131h1v1h-1zM951 132h1v1h-1zM951 133h1v1h-1zM921 139h2v1h-2zM922 140h1v1h-1zM922 141h1v1h-1zM922 142h1v1h-1zM922 143h1v1h-1zM922 144h1v1h-1zM922 145h1v1h-1zM921 146h3v1h-3zM928 139h1v1h-1zM927 141h2v1h-2zM928 142h1v1h-1zM928 143h1v1h-1zM928 144h1v1h-1zM928 145h1v1h-1zM927 146h3v1h-3zM932 141h1v1h-1zM934 141h2v1h-2zM932 142h2v1h-2zM936 142h1v1h-1zM932 143h1v1h-1zM936 143h1v1h-1zM932 144h1v1h-1zM936 144h1v1h-1zM932 145h1v1h-1zM936 145h1v1h-1zM932 146h1v1h-1zM936 146h1v1h-1zM939 141h3v1h-3zM938 142h1v1h-1zM942 142h1v1h-1zM938 143h5v1h-5zM938 144h1v1h-1zM938 145h1v1h-1zM939 146h3v1h-3zM951 139h3v1h-3zM950 140h1v1h-1zM954 140h1v1h-1zM950 141h1v1h-1zM954 141h1v1h-1zM951 142h3v1h-3zM950 143h1v1h-1zM954 143h1v1h-1zM950 144h1v1h-1zM954 144h1v1h-1zM950 145h1v1h-1zM954 145h1v1h-1zM951 146h3v1h-3zM921 152h2v1h-2zM922 153h1v1h-1zM922 154h1v1h-1zM922 155h1v1h-1zM922 156h1v1h-1zM922 157h1v1h-1zM922 158h1v1h-1zM921 159h3v1h-3zM928 152h1v1h-1zM927 154h2v1h-2zM928 155h1v1h-1zM928 156h1v1h-1zM928 157h1v1h-1zM928 158h1v1h-1zM927 159h3v1h-3zM932 154h1v1h-1zM934 154h2v1h-2zM932 155h2v1h-2zM936 155h1v1h-1zM932 156h1v1h-1zM936 156h1v1h-1zM932 157h1v1h-1zM936 157h1v1h-1zM932 158h1v1h-1zM936 158h1v1h-1zM932 159h1v1h-1zM936 159h1v1h-1zM939 154h3v1h-3zM938 155h1v1h-1zM942 155h1v1h-1zM938 156h5v1h-5zM938 157h1v1h-1zM938 158h1v1h-1zM939 159h3v1h-3zM951 152h3v1h-3zM950 153h1v1h-1zM954 153h1v1h-1zM950 154h1v1h-1zM954 154h1v1h-1zM950 155h1v1h-1zM954 155h1v1h-1zM951 156h4v1h-4zM954 157h1v1h-1zM953 158h1v1h-1zM950 159h3v1h-3z"/>
</svg>
</body></html>
